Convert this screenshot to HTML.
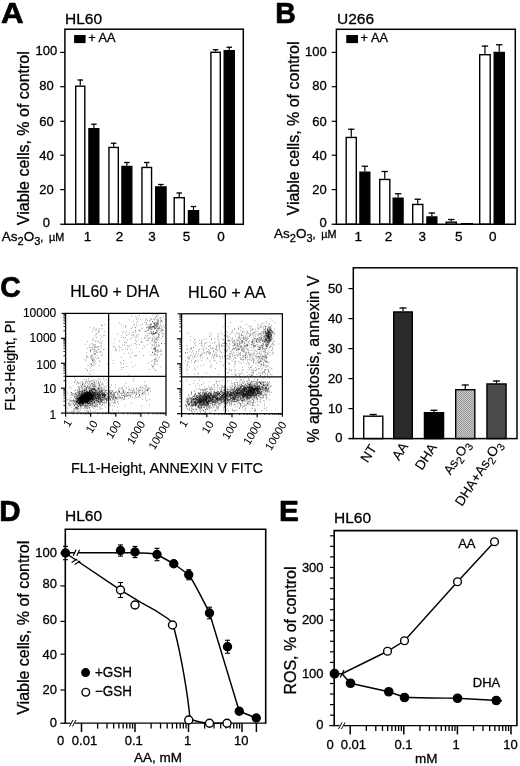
<!DOCTYPE html>
<html><head><meta charset="utf-8"><title>Figure</title>
<style>
html,body{margin:0;padding:0;background:#fff;}
svg{display:block;}
text{font-family:'Liberation Sans', sans-serif;fill:#000;}
</style></head><body>
<svg width="520" height="766" viewBox="0 0 520 766" font-family='"Liberation Sans", sans-serif'>
<defs><pattern id="ht" width="2" height="2" patternUnits="userSpaceOnUse"><rect width="2" height="2" fill="#cacaca"/><rect width="1" height="1" fill="#989898"/><rect x="1" y="1" width="1" height="1" fill="#989898"/></pattern></defs>
<rect width="520" height="766" fill="#fff"/>
<text transform="translate(1.00 22.90) scale(1.08 1)" font-size="29" font-weight="bold" stroke="#000" stroke-width="0.7" stroke-linejoin="round">A</text>
<text x="65.00" y="23.60" font-size="15.5" stroke="#000" stroke-width="0.3" stroke-linejoin="round">HL60</text>
<line x1="80.25" y1="85.50" x2="80.25" y2="79.50" stroke="#000" stroke-width="1.2"/>
<line x1="77.50" y1="80.00" x2="83.00" y2="80.00" stroke="#000" stroke-width="1.3"/>
<rect x="75.70" y="86.20" width="9.10" height="138.05" fill="#fff" stroke="#000" stroke-width="1.4"/>
<line x1="93.88" y1="128.00" x2="93.88" y2="123.75" stroke="#000" stroke-width="1.2"/>
<line x1="91.12" y1="124.25" x2="96.62" y2="124.25" stroke="#000" stroke-width="1.3"/>
<rect x="88.95" y="128.70" width="9.85" height="95.55" fill="#000" stroke="#000" stroke-width="1.4"/>
<line x1="113.62" y1="146.75" x2="113.62" y2="142.75" stroke="#000" stroke-width="1.2"/>
<line x1="110.88" y1="143.25" x2="116.38" y2="143.25" stroke="#000" stroke-width="1.3"/>
<rect x="108.95" y="147.45" width="9.35" height="76.80" fill="#fff" stroke="#000" stroke-width="1.4"/>
<line x1="126.88" y1="165.75" x2="126.88" y2="162.00" stroke="#000" stroke-width="1.2"/>
<line x1="124.12" y1="162.50" x2="129.62" y2="162.50" stroke="#000" stroke-width="1.3"/>
<rect x="121.95" y="166.45" width="9.85" height="57.80" fill="#000" stroke="#000" stroke-width="1.4"/>
<line x1="146.75" y1="166.75" x2="146.75" y2="162.00" stroke="#000" stroke-width="1.2"/>
<line x1="144.00" y1="162.50" x2="149.50" y2="162.50" stroke="#000" stroke-width="1.3"/>
<rect x="141.95" y="167.45" width="9.60" height="56.80" fill="#fff" stroke="#000" stroke-width="1.4"/>
<line x1="160.88" y1="186.25" x2="160.88" y2="184.00" stroke="#000" stroke-width="1.2"/>
<line x1="158.12" y1="184.50" x2="163.62" y2="184.50" stroke="#000" stroke-width="1.3"/>
<rect x="155.70" y="186.95" width="10.35" height="37.30" fill="#000" stroke="#000" stroke-width="1.4"/>
<line x1="179.25" y1="197.00" x2="179.25" y2="192.50" stroke="#000" stroke-width="1.2"/>
<line x1="176.50" y1="193.00" x2="182.00" y2="193.00" stroke="#000" stroke-width="1.3"/>
<rect x="174.20" y="197.70" width="10.10" height="26.55" fill="#fff" stroke="#000" stroke-width="1.4"/>
<line x1="193.50" y1="210.00" x2="193.50" y2="206.00" stroke="#000" stroke-width="1.2"/>
<line x1="190.75" y1="206.50" x2="196.25" y2="206.50" stroke="#000" stroke-width="1.3"/>
<rect x="188.45" y="210.70" width="10.10" height="13.55" fill="#000" stroke="#000" stroke-width="1.4"/>
<line x1="215.60" y1="51.60" x2="215.60" y2="49.20" stroke="#000" stroke-width="1.2"/>
<line x1="212.85" y1="49.70" x2="218.35" y2="49.70" stroke="#000" stroke-width="1.3"/>
<rect x="210.90" y="52.30" width="9.40" height="171.95" fill="#fff" stroke="#000" stroke-width="1.4"/>
<line x1="229.25" y1="50.00" x2="229.25" y2="46.75" stroke="#000" stroke-width="1.2"/>
<line x1="226.50" y1="47.25" x2="232.00" y2="47.25" stroke="#000" stroke-width="1.3"/>
<rect x="224.20" y="50.70" width="10.10" height="173.55" fill="#000" stroke="#000" stroke-width="1.4"/>
<rect x="64.90" y="29.20" width="178.40" height="195.05" fill="none" stroke="#000" stroke-width="1.5"/>
<line x1="60.20" y1="52.40" x2="64.90" y2="52.40" stroke="#000" stroke-width="1.2"/>
<line x1="60.20" y1="86.70" x2="64.90" y2="86.70" stroke="#000" stroke-width="1.2"/>
<line x1="60.20" y1="121.30" x2="64.90" y2="121.30" stroke="#000" stroke-width="1.2"/>
<line x1="60.20" y1="155.20" x2="64.90" y2="155.20" stroke="#000" stroke-width="1.2"/>
<line x1="60.20" y1="189.60" x2="64.90" y2="189.60" stroke="#000" stroke-width="1.2"/>
<line x1="60.20" y1="224.25" x2="64.90" y2="224.25" stroke="#000" stroke-width="1.3"/>
<text x="46.40" y="54.65" font-size="13" text-anchor="middle" stroke="#000" stroke-width="0.3" stroke-linejoin="round">100</text>
<text x="46.40" y="89.65" font-size="13" text-anchor="middle" stroke="#000" stroke-width="0.3" stroke-linejoin="round">80</text>
<text x="46.40" y="125.65" font-size="13" text-anchor="middle" stroke="#000" stroke-width="0.3" stroke-linejoin="round">60</text>
<text x="46.40" y="160.25" font-size="13" text-anchor="middle" stroke="#000" stroke-width="0.3" stroke-linejoin="round">40</text>
<text x="46.40" y="193.85" font-size="13" text-anchor="middle" stroke="#000" stroke-width="0.3" stroke-linejoin="round">20</text>
<text x="46.40" y="226.65" font-size="13" text-anchor="middle" stroke="#000" stroke-width="0.3" stroke-linejoin="round">0</text>
<text transform="translate(28.90 225.20) rotate(-90)" font-size="16" stroke="#000" stroke-width="0.3" stroke-linejoin="round">Viable cells, % of control</text>
<text x="87.50" y="240.50" font-size="13.5" text-anchor="middle" stroke="#000" stroke-width="0.3" stroke-linejoin="round">1</text>
<text x="119.50" y="240.50" font-size="13.5" text-anchor="middle" stroke="#000" stroke-width="0.3" stroke-linejoin="round">2</text>
<text x="152.00" y="240.50" font-size="13.5" text-anchor="middle" stroke="#000" stroke-width="0.3" stroke-linejoin="round">3</text>
<text x="186.50" y="240.50" font-size="13.5" text-anchor="middle" stroke="#000" stroke-width="0.3" stroke-linejoin="round">5</text>
<text x="221.00" y="240.50" font-size="13.5" text-anchor="middle" stroke="#000" stroke-width="0.3" stroke-linejoin="round">0</text>
<text x="1.80" y="240.6" font-size="13.5" stroke="#000" stroke-width="0.3">As<tspan font-size="11" dy="4">2</tspan><tspan dy="-4">O</tspan><tspan font-size="11" dy="4">3</tspan><tspan dy="-4" font-size="11">,</tspan><tspan font-size="10.8" dx="5.6">µM</tspan></text>
<rect x="74.1" y="35" width="11.5" height="8.1" fill="#000"/>
<text x="88.20" y="42.40" font-size="13" textLength="27.3" lengthAdjust="spacingAndGlyphs" stroke="#000" stroke-width="0.3" stroke-linejoin="round">+ AA</text>
<text transform="translate(275.20 23.30) scale(0.98 1)" font-size="29" font-weight="bold" stroke="#000" stroke-width="0.7" stroke-linejoin="round">B</text>
<text x="337.00" y="24.10" font-size="15.5" stroke="#000" stroke-width="0.3" stroke-linejoin="round">U266</text>
<line x1="351.25" y1="136.75" x2="351.25" y2="128.75" stroke="#000" stroke-width="1.2"/>
<line x1="348.05" y1="129.25" x2="354.45" y2="129.25" stroke="#000" stroke-width="1.3"/>
<rect x="346.20" y="137.45" width="10.10" height="86.80" fill="#fff" stroke="#000" stroke-width="1.4"/>
<line x1="364.88" y1="171.50" x2="364.88" y2="165.75" stroke="#000" stroke-width="1.2"/>
<line x1="361.68" y1="166.25" x2="368.07" y2="166.25" stroke="#000" stroke-width="1.3"/>
<rect x="359.95" y="172.20" width="9.85" height="52.05" fill="#000" stroke="#000" stroke-width="1.4"/>
<line x1="384.75" y1="178.75" x2="384.75" y2="171.00" stroke="#000" stroke-width="1.2"/>
<line x1="381.55" y1="171.50" x2="387.95" y2="171.50" stroke="#000" stroke-width="1.3"/>
<rect x="379.70" y="179.45" width="10.10" height="44.80" fill="#fff" stroke="#000" stroke-width="1.4"/>
<line x1="398.12" y1="197.50" x2="398.12" y2="193.25" stroke="#000" stroke-width="1.2"/>
<line x1="394.93" y1="193.75" x2="401.32" y2="193.75" stroke="#000" stroke-width="1.3"/>
<rect x="393.20" y="198.20" width="9.85" height="26.05" fill="#000" stroke="#000" stroke-width="1.4"/>
<line x1="417.75" y1="203.75" x2="417.75" y2="198.75" stroke="#000" stroke-width="1.2"/>
<line x1="414.55" y1="199.25" x2="420.95" y2="199.25" stroke="#000" stroke-width="1.3"/>
<rect x="412.70" y="204.45" width="10.10" height="19.80" fill="#fff" stroke="#000" stroke-width="1.4"/>
<line x1="431.88" y1="216.25" x2="431.88" y2="212.50" stroke="#000" stroke-width="1.2"/>
<line x1="428.68" y1="213.00" x2="435.07" y2="213.00" stroke="#000" stroke-width="1.3"/>
<rect x="426.95" y="216.95" width="9.85" height="7.30" fill="#000" stroke="#000" stroke-width="1.4"/>
<line x1="451.25" y1="221.50" x2="451.25" y2="219.00" stroke="#000" stroke-width="1.2"/>
<line x1="448.05" y1="219.50" x2="454.45" y2="219.50" stroke="#000" stroke-width="1.3"/>
<rect x="446.20" y="222.20" width="10.10" height="2.05" fill="#fff" stroke="#000" stroke-width="1.4"/>
<rect x="461.70" y="223.70" width="10.60" height="0.55" fill="#000" stroke="#000" stroke-width="1.4"/>
<line x1="484.95" y1="54.00" x2="484.95" y2="45.60" stroke="#000" stroke-width="1.2"/>
<line x1="481.75" y1="46.10" x2="488.15" y2="46.10" stroke="#000" stroke-width="1.3"/>
<rect x="479.70" y="54.70" width="10.50" height="169.55" fill="#fff" stroke="#000" stroke-width="1.4"/>
<line x1="499.25" y1="51.75" x2="499.25" y2="44.25" stroke="#000" stroke-width="1.2"/>
<line x1="496.05" y1="44.75" x2="502.45" y2="44.75" stroke="#000" stroke-width="1.3"/>
<rect x="494.20" y="52.45" width="10.10" height="171.80" fill="#000" stroke="#000" stroke-width="1.4"/>
<rect x="336.40" y="29.30" width="178.90" height="194.95" fill="none" stroke="#000" stroke-width="1.5"/>
<line x1="331.70" y1="52.40" x2="336.40" y2="52.40" stroke="#000" stroke-width="1.2"/>
<line x1="331.70" y1="86.70" x2="336.40" y2="86.70" stroke="#000" stroke-width="1.2"/>
<line x1="331.70" y1="121.30" x2="336.40" y2="121.30" stroke="#000" stroke-width="1.2"/>
<line x1="331.70" y1="155.20" x2="336.40" y2="155.20" stroke="#000" stroke-width="1.2"/>
<line x1="331.70" y1="189.60" x2="336.40" y2="189.60" stroke="#000" stroke-width="1.2"/>
<line x1="331.70" y1="224.25" x2="336.40" y2="224.25" stroke="#000" stroke-width="1.3"/>
<text x="326.80" y="56.15" font-size="13" text-anchor="end" stroke="#000" stroke-width="0.3" stroke-linejoin="round">100</text>
<text x="326.80" y="89.65" font-size="13" text-anchor="end" stroke="#000" stroke-width="0.3" stroke-linejoin="round">80</text>
<text x="326.80" y="125.65" font-size="13" text-anchor="end" stroke="#000" stroke-width="0.3" stroke-linejoin="round">60</text>
<text x="326.80" y="160.25" font-size="13" text-anchor="end" stroke="#000" stroke-width="0.3" stroke-linejoin="round">40</text>
<text x="326.80" y="193.85" font-size="13" text-anchor="end" stroke="#000" stroke-width="0.3" stroke-linejoin="round">20</text>
<text x="326.80" y="226.65" font-size="13" text-anchor="end" stroke="#000" stroke-width="0.3" stroke-linejoin="round">0</text>
<text transform="translate(299.10 215.50) rotate(-90)" font-size="16" stroke="#000" stroke-width="0.3" stroke-linejoin="round">Viable cells, % of control</text>
<text x="358.20" y="240.50" font-size="13.5" text-anchor="middle" stroke="#000" stroke-width="0.3" stroke-linejoin="round">1</text>
<text x="388.50" y="240.50" font-size="13.5" text-anchor="middle" stroke="#000" stroke-width="0.3" stroke-linejoin="round">2</text>
<text x="422.20" y="240.50" font-size="13.5" text-anchor="middle" stroke="#000" stroke-width="0.3" stroke-linejoin="round">3</text>
<text x="458.70" y="240.50" font-size="13.5" text-anchor="middle" stroke="#000" stroke-width="0.3" stroke-linejoin="round">5</text>
<text x="492.70" y="240.50" font-size="13.5" text-anchor="middle" stroke="#000" stroke-width="0.3" stroke-linejoin="round">0</text>
<text x="274.00" y="238.4" font-size="13.5" stroke="#000" stroke-width="0.3">As<tspan font-size="11" dy="4">2</tspan><tspan dy="-4">O</tspan><tspan font-size="11" dy="4">3</tspan><tspan dy="-4" font-size="11">,</tspan><tspan font-size="10.8" dx="5.6">µM</tspan></text>
<rect x="346.25" y="35" width="11.75" height="8.1" fill="#000"/>
<text x="360.60" y="42.40" font-size="13" textLength="27.3" lengthAdjust="spacingAndGlyphs" stroke="#000" stroke-width="0.3" stroke-linejoin="round">+ AA</text>
<text transform="translate(0.20 296.50) scale(0.97 1)" font-size="29.3" font-weight="bold" stroke="#000" stroke-width="0.7" stroke-linejoin="round">C</text>
<text x="70.20" y="296.60" font-size="16" textLength="89.2" lengthAdjust="spacingAndGlyphs" stroke="#000" stroke-width="0.2" stroke-linejoin="round">HL60 + DHA</text>
<text x="188.00" y="298.00" font-size="16" textLength="77.8" lengthAdjust="spacingAndGlyphs" stroke="#000" stroke-width="0.2" stroke-linejoin="round">HL60 + AA</text>
<rect x="65.60" y="313.40" width="100.40" height="99.70" fill="none" stroke="#000" stroke-width="1.25"/>
<line x1="108.60" y1="313.40" x2="108.60" y2="413.10" stroke="#000" stroke-width="1.25"/>
<line x1="65.60" y1="376.30" x2="166.00" y2="376.30" stroke="#000" stroke-width="1.25"/>
<line x1="65.60" y1="413.10" x2="65.60" y2="416.70" stroke="#000" stroke-width="1.2"/>
<line x1="61.00" y1="413.10" x2="65.60" y2="413.10" stroke="#000" stroke-width="1.2"/>
<line x1="73.16" y1="413.10" x2="73.16" y2="414.30" stroke="#000" stroke-width="0.85"/>
<line x1="63.40" y1="405.60" x2="65.60" y2="405.60" stroke="#000" stroke-width="0.85"/>
<line x1="77.58" y1="413.10" x2="77.58" y2="414.30" stroke="#000" stroke-width="0.85"/>
<line x1="63.40" y1="401.21" x2="65.60" y2="401.21" stroke="#000" stroke-width="0.85"/>
<line x1="80.71" y1="413.10" x2="80.71" y2="414.30" stroke="#000" stroke-width="0.85"/>
<line x1="63.40" y1="398.09" x2="65.60" y2="398.09" stroke="#000" stroke-width="0.85"/>
<line x1="83.14" y1="413.10" x2="83.14" y2="414.30" stroke="#000" stroke-width="0.85"/>
<line x1="63.40" y1="395.68" x2="65.60" y2="395.68" stroke="#000" stroke-width="0.85"/>
<line x1="85.13" y1="413.10" x2="85.13" y2="414.30" stroke="#000" stroke-width="0.85"/>
<line x1="63.40" y1="393.70" x2="65.60" y2="393.70" stroke="#000" stroke-width="0.85"/>
<line x1="86.81" y1="413.10" x2="86.81" y2="414.30" stroke="#000" stroke-width="0.85"/>
<line x1="63.40" y1="392.04" x2="65.60" y2="392.04" stroke="#000" stroke-width="0.85"/>
<line x1="88.27" y1="413.10" x2="88.27" y2="414.30" stroke="#000" stroke-width="0.85"/>
<line x1="63.40" y1="390.59" x2="65.60" y2="390.59" stroke="#000" stroke-width="0.85"/>
<line x1="89.55" y1="413.10" x2="89.55" y2="414.30" stroke="#000" stroke-width="0.85"/>
<line x1="63.40" y1="389.32" x2="65.60" y2="389.32" stroke="#000" stroke-width="0.85"/>
<line x1="90.70" y1="413.10" x2="90.70" y2="416.70" stroke="#000" stroke-width="1.2"/>
<line x1="61.00" y1="388.18" x2="65.60" y2="388.18" stroke="#000" stroke-width="1.2"/>
<line x1="98.26" y1="413.10" x2="98.26" y2="414.30" stroke="#000" stroke-width="0.85"/>
<line x1="63.40" y1="380.67" x2="65.60" y2="380.67" stroke="#000" stroke-width="0.85"/>
<line x1="102.68" y1="413.10" x2="102.68" y2="414.30" stroke="#000" stroke-width="0.85"/>
<line x1="63.40" y1="376.28" x2="65.60" y2="376.28" stroke="#000" stroke-width="0.85"/>
<line x1="105.81" y1="413.10" x2="105.81" y2="414.30" stroke="#000" stroke-width="0.85"/>
<line x1="63.40" y1="373.17" x2="65.60" y2="373.17" stroke="#000" stroke-width="0.85"/>
<line x1="108.24" y1="413.10" x2="108.24" y2="414.30" stroke="#000" stroke-width="0.85"/>
<line x1="63.40" y1="370.75" x2="65.60" y2="370.75" stroke="#000" stroke-width="0.85"/>
<line x1="110.23" y1="413.10" x2="110.23" y2="414.30" stroke="#000" stroke-width="0.85"/>
<line x1="63.40" y1="368.78" x2="65.60" y2="368.78" stroke="#000" stroke-width="0.85"/>
<line x1="111.91" y1="413.10" x2="111.91" y2="414.30" stroke="#000" stroke-width="0.85"/>
<line x1="63.40" y1="367.11" x2="65.60" y2="367.11" stroke="#000" stroke-width="0.85"/>
<line x1="113.37" y1="413.10" x2="113.37" y2="414.30" stroke="#000" stroke-width="0.85"/>
<line x1="63.40" y1="365.67" x2="65.60" y2="365.67" stroke="#000" stroke-width="0.85"/>
<line x1="114.65" y1="413.10" x2="114.65" y2="414.30" stroke="#000" stroke-width="0.85"/>
<line x1="63.40" y1="364.39" x2="65.60" y2="364.39" stroke="#000" stroke-width="0.85"/>
<line x1="115.80" y1="413.10" x2="115.80" y2="416.70" stroke="#000" stroke-width="1.2"/>
<line x1="61.00" y1="363.25" x2="65.60" y2="363.25" stroke="#000" stroke-width="1.2"/>
<line x1="123.36" y1="413.10" x2="123.36" y2="414.30" stroke="#000" stroke-width="0.85"/>
<line x1="63.40" y1="355.75" x2="65.60" y2="355.75" stroke="#000" stroke-width="0.85"/>
<line x1="127.78" y1="413.10" x2="127.78" y2="414.30" stroke="#000" stroke-width="0.85"/>
<line x1="63.40" y1="351.36" x2="65.60" y2="351.36" stroke="#000" stroke-width="0.85"/>
<line x1="130.91" y1="413.10" x2="130.91" y2="414.30" stroke="#000" stroke-width="0.85"/>
<line x1="63.40" y1="348.24" x2="65.60" y2="348.24" stroke="#000" stroke-width="0.85"/>
<line x1="133.34" y1="413.10" x2="133.34" y2="414.30" stroke="#000" stroke-width="0.85"/>
<line x1="63.40" y1="345.83" x2="65.60" y2="345.83" stroke="#000" stroke-width="0.85"/>
<line x1="135.33" y1="413.10" x2="135.33" y2="414.30" stroke="#000" stroke-width="0.85"/>
<line x1="63.40" y1="343.85" x2="65.60" y2="343.85" stroke="#000" stroke-width="0.85"/>
<line x1="137.01" y1="413.10" x2="137.01" y2="414.30" stroke="#000" stroke-width="0.85"/>
<line x1="63.40" y1="342.19" x2="65.60" y2="342.19" stroke="#000" stroke-width="0.85"/>
<line x1="138.47" y1="413.10" x2="138.47" y2="414.30" stroke="#000" stroke-width="0.85"/>
<line x1="63.40" y1="340.74" x2="65.60" y2="340.74" stroke="#000" stroke-width="0.85"/>
<line x1="139.75" y1="413.10" x2="139.75" y2="414.30" stroke="#000" stroke-width="0.85"/>
<line x1="63.40" y1="339.47" x2="65.60" y2="339.47" stroke="#000" stroke-width="0.85"/>
<line x1="140.90" y1="413.10" x2="140.90" y2="416.70" stroke="#000" stroke-width="1.2"/>
<line x1="61.00" y1="338.32" x2="65.60" y2="338.32" stroke="#000" stroke-width="1.2"/>
<line x1="148.46" y1="413.10" x2="148.46" y2="414.30" stroke="#000" stroke-width="0.85"/>
<line x1="63.40" y1="330.82" x2="65.60" y2="330.82" stroke="#000" stroke-width="0.85"/>
<line x1="152.88" y1="413.10" x2="152.88" y2="414.30" stroke="#000" stroke-width="0.85"/>
<line x1="63.40" y1="326.43" x2="65.60" y2="326.43" stroke="#000" stroke-width="0.85"/>
<line x1="156.01" y1="413.10" x2="156.01" y2="414.30" stroke="#000" stroke-width="0.85"/>
<line x1="63.40" y1="323.32" x2="65.60" y2="323.32" stroke="#000" stroke-width="0.85"/>
<line x1="158.44" y1="413.10" x2="158.44" y2="414.30" stroke="#000" stroke-width="0.85"/>
<line x1="63.40" y1="320.90" x2="65.60" y2="320.90" stroke="#000" stroke-width="0.85"/>
<line x1="160.43" y1="413.10" x2="160.43" y2="414.30" stroke="#000" stroke-width="0.85"/>
<line x1="63.40" y1="318.93" x2="65.60" y2="318.93" stroke="#000" stroke-width="0.85"/>
<line x1="162.11" y1="413.10" x2="162.11" y2="414.30" stroke="#000" stroke-width="0.85"/>
<line x1="63.40" y1="317.26" x2="65.60" y2="317.26" stroke="#000" stroke-width="0.85"/>
<line x1="163.57" y1="413.10" x2="163.57" y2="414.30" stroke="#000" stroke-width="0.85"/>
<line x1="63.40" y1="315.82" x2="65.60" y2="315.82" stroke="#000" stroke-width="0.85"/>
<line x1="164.85" y1="413.10" x2="164.85" y2="414.30" stroke="#000" stroke-width="0.85"/>
<line x1="63.40" y1="314.54" x2="65.60" y2="314.54" stroke="#000" stroke-width="0.85"/>
<line x1="166.00" y1="413.10" x2="166.00" y2="416.10" stroke="#000" stroke-width="1.1"/>
<line x1="61.60" y1="313.40" x2="65.60" y2="313.40" stroke="#000" stroke-width="1.1"/>
<text transform="translate(72.20 422.40) rotate(-59)" font-size="11.2" text-anchor="end">1</text>
<text x="56.30" y="419.20" font-size="12" text-anchor="end" stroke="#000" stroke-width="0.15" stroke-linejoin="round">1</text>
<text transform="translate(98.10 423.30) rotate(-59)" font-size="11.2" text-anchor="end">10</text>
<text x="56.30" y="393.30" font-size="12" text-anchor="end" stroke="#000" stroke-width="0.15" stroke-linejoin="round">10</text>
<text transform="translate(121.70 423.60) rotate(-59)" font-size="11.2" text-anchor="end">100</text>
<text x="56.30" y="368.60" font-size="12" text-anchor="end" stroke="#000" stroke-width="0.15" stroke-linejoin="round">100</text>
<text transform="translate(145.70 423.90) rotate(-59)" font-size="11.2" text-anchor="end">1000</text>
<text x="56.30" y="341.60" font-size="12" text-anchor="end" stroke="#000" stroke-width="0.15" stroke-linejoin="round">1000</text>
<text transform="translate(170.60 423.90) rotate(-59)" font-size="11.2" text-anchor="end">10000</text>
<text x="56.30" y="316.80" font-size="12" text-anchor="end" stroke="#000" stroke-width="0.15" stroke-linejoin="round">10000</text>
<rect x="181.60" y="313.80" width="100.80" height="99.90" fill="none" stroke="#000" stroke-width="1.25"/>
<line x1="225.40" y1="313.80" x2="225.40" y2="413.70" stroke="#000" stroke-width="1.25"/>
<line x1="181.60" y1="376.90" x2="282.40" y2="376.90" stroke="#000" stroke-width="1.25"/>
<line x1="181.60" y1="413.70" x2="181.60" y2="417.30" stroke="#000" stroke-width="1.2"/>
<line x1="177.00" y1="413.70" x2="181.60" y2="413.70" stroke="#000" stroke-width="1.2"/>
<line x1="189.19" y1="413.70" x2="189.19" y2="414.90" stroke="#000" stroke-width="0.85"/>
<line x1="179.40" y1="406.18" x2="181.60" y2="406.18" stroke="#000" stroke-width="0.85"/>
<line x1="193.62" y1="413.70" x2="193.62" y2="414.90" stroke="#000" stroke-width="0.85"/>
<line x1="179.40" y1="401.78" x2="181.60" y2="401.78" stroke="#000" stroke-width="0.85"/>
<line x1="196.77" y1="413.70" x2="196.77" y2="414.90" stroke="#000" stroke-width="0.85"/>
<line x1="179.40" y1="398.66" x2="181.60" y2="398.66" stroke="#000" stroke-width="0.85"/>
<line x1="199.21" y1="413.70" x2="199.21" y2="414.90" stroke="#000" stroke-width="0.85"/>
<line x1="179.40" y1="396.24" x2="181.60" y2="396.24" stroke="#000" stroke-width="0.85"/>
<line x1="201.21" y1="413.70" x2="201.21" y2="414.90" stroke="#000" stroke-width="0.85"/>
<line x1="179.40" y1="394.27" x2="181.60" y2="394.27" stroke="#000" stroke-width="0.85"/>
<line x1="202.90" y1="413.70" x2="202.90" y2="414.90" stroke="#000" stroke-width="0.85"/>
<line x1="179.40" y1="392.59" x2="181.60" y2="392.59" stroke="#000" stroke-width="0.85"/>
<line x1="204.36" y1="413.70" x2="204.36" y2="414.90" stroke="#000" stroke-width="0.85"/>
<line x1="179.40" y1="391.15" x2="181.60" y2="391.15" stroke="#000" stroke-width="0.85"/>
<line x1="205.65" y1="413.70" x2="205.65" y2="414.90" stroke="#000" stroke-width="0.85"/>
<line x1="179.40" y1="389.87" x2="181.60" y2="389.87" stroke="#000" stroke-width="0.85"/>
<line x1="206.80" y1="413.70" x2="206.80" y2="417.30" stroke="#000" stroke-width="1.2"/>
<line x1="177.00" y1="388.73" x2="181.60" y2="388.73" stroke="#000" stroke-width="1.2"/>
<line x1="214.39" y1="413.70" x2="214.39" y2="414.90" stroke="#000" stroke-width="0.85"/>
<line x1="179.40" y1="381.21" x2="181.60" y2="381.21" stroke="#000" stroke-width="0.85"/>
<line x1="218.82" y1="413.70" x2="218.82" y2="414.90" stroke="#000" stroke-width="0.85"/>
<line x1="179.40" y1="376.81" x2="181.60" y2="376.81" stroke="#000" stroke-width="0.85"/>
<line x1="221.97" y1="413.70" x2="221.97" y2="414.90" stroke="#000" stroke-width="0.85"/>
<line x1="179.40" y1="373.69" x2="181.60" y2="373.69" stroke="#000" stroke-width="0.85"/>
<line x1="224.41" y1="413.70" x2="224.41" y2="414.90" stroke="#000" stroke-width="0.85"/>
<line x1="179.40" y1="371.27" x2="181.60" y2="371.27" stroke="#000" stroke-width="0.85"/>
<line x1="226.41" y1="413.70" x2="226.41" y2="414.90" stroke="#000" stroke-width="0.85"/>
<line x1="179.40" y1="369.29" x2="181.60" y2="369.29" stroke="#000" stroke-width="0.85"/>
<line x1="228.10" y1="413.70" x2="228.10" y2="414.90" stroke="#000" stroke-width="0.85"/>
<line x1="179.40" y1="367.62" x2="181.60" y2="367.62" stroke="#000" stroke-width="0.85"/>
<line x1="229.56" y1="413.70" x2="229.56" y2="414.90" stroke="#000" stroke-width="0.85"/>
<line x1="179.40" y1="366.17" x2="181.60" y2="366.17" stroke="#000" stroke-width="0.85"/>
<line x1="230.85" y1="413.70" x2="230.85" y2="414.90" stroke="#000" stroke-width="0.85"/>
<line x1="179.40" y1="364.89" x2="181.60" y2="364.89" stroke="#000" stroke-width="0.85"/>
<line x1="232.00" y1="413.70" x2="232.00" y2="417.30" stroke="#000" stroke-width="1.2"/>
<line x1="177.00" y1="363.75" x2="181.60" y2="363.75" stroke="#000" stroke-width="1.2"/>
<line x1="239.59" y1="413.70" x2="239.59" y2="414.90" stroke="#000" stroke-width="0.85"/>
<line x1="179.40" y1="356.23" x2="181.60" y2="356.23" stroke="#000" stroke-width="0.85"/>
<line x1="244.02" y1="413.70" x2="244.02" y2="414.90" stroke="#000" stroke-width="0.85"/>
<line x1="179.40" y1="351.83" x2="181.60" y2="351.83" stroke="#000" stroke-width="0.85"/>
<line x1="247.17" y1="413.70" x2="247.17" y2="414.90" stroke="#000" stroke-width="0.85"/>
<line x1="179.40" y1="348.71" x2="181.60" y2="348.71" stroke="#000" stroke-width="0.85"/>
<line x1="249.61" y1="413.70" x2="249.61" y2="414.90" stroke="#000" stroke-width="0.85"/>
<line x1="179.40" y1="346.29" x2="181.60" y2="346.29" stroke="#000" stroke-width="0.85"/>
<line x1="251.61" y1="413.70" x2="251.61" y2="414.90" stroke="#000" stroke-width="0.85"/>
<line x1="179.40" y1="344.32" x2="181.60" y2="344.32" stroke="#000" stroke-width="0.85"/>
<line x1="253.30" y1="413.70" x2="253.30" y2="414.90" stroke="#000" stroke-width="0.85"/>
<line x1="179.40" y1="342.64" x2="181.60" y2="342.64" stroke="#000" stroke-width="0.85"/>
<line x1="254.76" y1="413.70" x2="254.76" y2="414.90" stroke="#000" stroke-width="0.85"/>
<line x1="179.40" y1="341.20" x2="181.60" y2="341.20" stroke="#000" stroke-width="0.85"/>
<line x1="256.05" y1="413.70" x2="256.05" y2="414.90" stroke="#000" stroke-width="0.85"/>
<line x1="179.40" y1="339.92" x2="181.60" y2="339.92" stroke="#000" stroke-width="0.85"/>
<line x1="257.20" y1="413.70" x2="257.20" y2="417.30" stroke="#000" stroke-width="1.2"/>
<line x1="177.00" y1="338.77" x2="181.60" y2="338.77" stroke="#000" stroke-width="1.2"/>
<line x1="264.79" y1="413.70" x2="264.79" y2="414.90" stroke="#000" stroke-width="0.85"/>
<line x1="179.40" y1="331.26" x2="181.60" y2="331.26" stroke="#000" stroke-width="0.85"/>
<line x1="269.22" y1="413.70" x2="269.22" y2="414.90" stroke="#000" stroke-width="0.85"/>
<line x1="179.40" y1="326.86" x2="181.60" y2="326.86" stroke="#000" stroke-width="0.85"/>
<line x1="272.37" y1="413.70" x2="272.37" y2="414.90" stroke="#000" stroke-width="0.85"/>
<line x1="179.40" y1="323.74" x2="181.60" y2="323.74" stroke="#000" stroke-width="0.85"/>
<line x1="274.81" y1="413.70" x2="274.81" y2="414.90" stroke="#000" stroke-width="0.85"/>
<line x1="179.40" y1="321.32" x2="181.60" y2="321.32" stroke="#000" stroke-width="0.85"/>
<line x1="276.81" y1="413.70" x2="276.81" y2="414.90" stroke="#000" stroke-width="0.85"/>
<line x1="179.40" y1="319.34" x2="181.60" y2="319.34" stroke="#000" stroke-width="0.85"/>
<line x1="278.50" y1="413.70" x2="278.50" y2="414.90" stroke="#000" stroke-width="0.85"/>
<line x1="179.40" y1="317.67" x2="181.60" y2="317.67" stroke="#000" stroke-width="0.85"/>
<line x1="279.96" y1="413.70" x2="279.96" y2="414.90" stroke="#000" stroke-width="0.85"/>
<line x1="179.40" y1="316.22" x2="181.60" y2="316.22" stroke="#000" stroke-width="0.85"/>
<line x1="281.25" y1="413.70" x2="281.25" y2="414.90" stroke="#000" stroke-width="0.85"/>
<line x1="179.40" y1="314.94" x2="181.60" y2="314.94" stroke="#000" stroke-width="0.85"/>
<line x1="282.40" y1="413.70" x2="282.40" y2="416.70" stroke="#000" stroke-width="1.1"/>
<line x1="177.60" y1="313.80" x2="181.60" y2="313.80" stroke="#000" stroke-width="1.1"/>
<text transform="translate(188.20 423.00) rotate(-59)" font-size="11.2" text-anchor="end">1</text>
<text transform="translate(214.20 423.90) rotate(-59)" font-size="11.2" text-anchor="end">10</text>
<text transform="translate(237.90 424.20) rotate(-59)" font-size="11.2" text-anchor="end">100</text>
<text transform="translate(262.00 424.50) rotate(-59)" font-size="11.2" text-anchor="end">1000</text>
<text transform="translate(287.00 424.50) rotate(-59)" font-size="11.2" text-anchor="end">10000</text>
<path d="M84.3 399.5h0.65M84.4 397.6h0.65M82.0 398.7h0.65M89.0 397.5h0.65M88.7 397.2h0.65M86.5 397.9h0.65M79.5 402.1h0.65M86.9 398.5h0.65M79.4 396.3h0.65M82.2 398.1h0.65M86.2 397.5h0.65M87.0 395.9h0.65M86.2 398.5h0.65M83.0 402.7h0.65M87.1 400.0h0.65M83.1 397.1h0.65M84.0 398.2h0.65M87.3 397.7h0.65M83.7 396.4h0.65M83.4 401.4h0.65M82.5 399.6h0.65M86.7 394.1h0.65M85.4 400.9h0.65M78.4 399.9h0.65M84.8 396.3h0.65M86.9 397.2h0.65M80.2 401.8h0.65M87.5 399.3h0.65M90.1 396.9h0.65M85.6 394.9h0.65M87.3 395.8h0.65M83.7 395.7h0.65M81.9 398.1h0.65M89.6 391.7h0.65M80.2 400.4h0.65M90.1 397.4h0.65M78.7 394.8h0.65M86.4 395.9h0.65M81.4 401.7h0.65M88.9 396.9h0.65M86.0 398.7h0.65M90.6 397.3h0.65M87.0 398.6h0.65M79.9 402.9h0.65M88.4 398.0h0.65M78.5 399.1h0.65M88.1 392.8h0.65M84.6 400.5h0.65M80.7 403.3h0.65M87.1 396.9h0.65M86.3 399.0h0.65M85.6 400.4h0.65M83.0 397.9h0.65M88.7 396.7h0.65M82.2 401.3h0.65M90.2 395.1h0.65M80.5 399.5h0.65M84.7 397.5h0.65M90.0 393.9h0.65M89.5 393.5h0.65M82.5 400.4h0.65M89.0 398.5h0.65M86.4 397.9h0.65M85.7 399.1h0.65M84.6 398.9h0.65M87.1 397.3h0.65M87.8 398.3h0.65M92.0 396.1h0.65M83.7 397.7h0.65M85.2 400.1h0.65M84.1 399.3h0.65M91.4 389.8h0.65M81.4 400.0h0.65M86.6 398.0h0.65M83.7 400.0h0.65M86.2 396.5h0.65M93.5 395.6h0.65M83.3 398.5h0.65M84.4 398.2h0.65M75.9 400.5h0.65M88.6 394.1h0.65M85.0 400.2h0.65M88.1 400.2h0.65M79.4 399.4h0.65M84.0 399.8h0.65M88.9 390.5h0.65M88.9 393.3h0.65M87.5 393.8h0.65M85.8 400.5h0.65M84.7 398.6h0.65M87.9 397.3h0.65M84.9 401.6h0.65M88.8 396.0h0.65M94.5 391.8h0.65M88.3 396.2h0.65M85.7 399.4h0.65M86.0 399.1h0.65M80.0 396.6h0.65M87.3 395.0h0.65M81.7 396.0h0.65M89.5 398.0h0.65M90.2 394.0h0.65M85.2 395.4h0.65M87.8 400.6h0.65M82.2 402.7h0.65M88.6 396.3h0.65M78.5 403.7h0.65M84.9 396.8h0.65M86.6 398.4h0.65M90.3 393.8h0.65M89.1 399.9h0.65M90.1 395.7h0.65M82.7 401.3h0.65M85.6 398.1h0.65M90.0 395.6h0.65M77.4 400.1h0.65M78.9 402.3h0.65M86.3 396.2h0.65M85.2 399.9h0.65M85.5 400.9h0.65M85.0 400.4h0.65M90.3 399.7h0.65M82.9 400.9h0.65M78.8 398.0h0.65M78.5 403.0h0.65M81.0 399.6h0.65M84.5 398.2h0.65M83.2 399.3h0.65M91.3 395.8h0.65M87.0 399.6h0.65M84.5 395.4h0.65M83.3 401.1h0.65M79.6 398.8h0.65M88.6 398.5h0.65M85.2 399.8h0.65M85.8 395.1h0.65M79.9 398.6h0.65M88.3 395.5h0.65M82.1 397.4h0.65M80.0 399.7h0.65M81.2 400.4h0.65M77.2 401.8h0.65M83.0 394.5h0.65M87.7 396.4h0.65M77.6 398.9h0.65M86.2 396.6h0.65M87.9 398.7h0.65M87.5 397.9h0.65M89.7 397.8h0.65M86.7 392.7h0.65M88.2 399.8h0.65M84.2 397.3h0.65M91.8 391.5h0.65M86.8 402.8h0.65M82.0 400.8h0.65M91.6 395.3h0.65M87.1 399.3h0.65M82.1 399.0h0.65M86.2 399.5h0.65M85.1 397.6h0.65M81.7 398.5h0.65M88.2 397.1h0.65M82.3 397.2h0.65M94.3 397.1h0.65M87.4 391.3h0.65M87.3 398.3h0.65M90.9 396.8h0.65M85.0 399.3h0.65M78.6 402.9h0.65M86.3 396.0h0.65M89.7 400.4h0.65M80.4 398.3h0.65M86.2 398.0h0.65M83.8 396.3h0.65M92.4 397.6h0.65M81.1 396.5h0.65M91.0 398.0h0.65M91.4 397.5h0.65M82.2 399.7h0.65M77.9 399.1h0.65M85.0 399.3h0.65M82.7 398.7h0.65M86.8 398.3h0.65M87.4 397.6h0.65M84.1 400.2h0.65M85.4 396.1h0.65M83.1 398.8h0.65M84.8 398.5h0.65M85.2 398.4h0.65M84.7 395.3h0.65M86.6 399.8h0.65M86.7 397.0h0.65M86.7 395.2h0.65M78.8 400.6h0.65M82.0 400.9h0.65M81.5 393.5h0.65M81.7 402.9h0.65M83.9 395.4h0.65M82.6 400.2h0.65M86.9 397.8h0.65M90.2 397.7h0.65M85.1 399.4h0.65M90.8 398.0h0.65M88.7 394.2h0.65M84.7 399.8h0.65M84.2 400.8h0.65M87.2 399.3h0.65M84.5 404.0h0.65M89.4 395.9h0.65M85.5 403.7h0.65M84.0 400.4h0.65M88.5 396.7h0.65M81.2 399.9h0.65M86.4 400.1h0.65M87.9 397.0h0.65M88.1 398.1h0.65M85.9 397.9h0.65M84.4 399.9h0.65M81.6 398.0h0.65M85.2 394.7h0.65M83.7 394.0h0.65M82.9 400.2h0.65M87.1 397.1h0.65M84.4 395.1h0.65M91.4 396.8h0.65M88.9 394.6h0.65M84.6 394.1h0.65M87.9 399.1h0.65M78.7 400.3h0.65M87.3 393.2h0.65M79.0 398.0h0.65M83.1 395.7h0.65M85.3 398.5h0.65M87.4 398.8h0.65M90.3 398.7h0.65M80.7 398.6h0.65M81.6 397.0h0.65M84.9 398.1h0.65M86.9 393.8h0.65M81.0 399.6h0.65M84.5 397.6h0.65M85.0 396.4h0.65M87.6 397.9h0.65M84.9 396.6h0.65M84.6 392.1h0.65M81.9 399.4h0.65M80.1 400.4h0.65M85.7 394.7h0.65M84.3 397.6h0.65M86.8 398.8h0.65M85.1 396.1h0.65M84.7 398.0h0.65M87.7 397.7h0.65M82.7 395.9h0.65M83.9 396.8h0.65M81.4 399.2h0.65M83.5 398.9h0.65M87.0 396.4h0.65M93.1 394.3h0.65M88.9 396.8h0.65M89.0 391.2h0.65M82.6 399.5h0.65M87.2 402.5h0.65M86.3 400.5h0.65M87.8 399.1h0.65M86.9 397.0h0.65M86.9 394.9h0.65M89.2 394.2h0.65M86.0 402.5h0.65M84.4 398.3h0.65M89.2 396.5h0.65M82.5 399.6h0.65M87.2 398.8h0.65M82.6 403.0h0.65M90.9 395.9h0.65M86.1 396.7h0.65M90.0 394.6h0.65M87.5 396.0h0.65M82.8 400.5h0.65M89.7 396.2h0.65M82.9 400.7h0.65M85.0 398.8h0.65M90.4 398.6h0.65M83.4 403.8h0.65M85.2 399.8h0.65M83.0 398.7h0.65M79.3 404.3h0.65M89.8 393.5h0.65M80.1 396.3h0.65M89.2 395.4h0.65M85.0 397.4h0.65M84.8 395.7h0.65M85.3 394.7h0.65M85.0 398.8h0.65M86.8 396.9h0.65M82.1 399.5h0.65M83.6 402.2h0.65M87.8 396.7h0.65M83.6 397.0h0.65M82.0 398.4h0.65M86.2 398.8h0.65M87.1 402.0h0.65M82.8 398.9h0.65M94.7 390.2h0.65M83.4 399.1h0.65M85.7 398.7h0.65M84.4 399.1h0.65M85.4 399.7h0.65M78.8 398.5h0.65M85.2 395.7h0.65M81.6 400.8h0.65M83.0 400.3h0.65M87.7 397.7h0.65M86.9 397.1h0.65M80.4 399.8h0.65M86.7 396.2h0.65M84.9 399.8h0.65M82.2 400.6h0.65M91.5 394.3h0.65M85.7 397.5h0.65M90.4 396.7h0.65M88.3 395.3h0.65M85.1 398.0h0.65M79.2 403.6h0.65M88.3 392.9h0.65M87.7 396.7h0.65M86.7 398.2h0.65M80.1 399.5h0.65M90.3 394.8h0.65M81.7 396.3h0.65M81.0 400.3h0.65M91.0 396.8h0.65M86.0 402.7h0.65M83.4 397.2h0.65M87.0 398.5h0.65M81.7 396.7h0.65M86.2 398.2h0.65M80.8 399.2h0.65M83.4 399.7h0.65M84.8 398.0h0.65M84.0 400.8h0.65M89.9 395.4h0.65M88.1 395.2h0.65M85.4 399.6h0.65M90.3 395.2h0.65M84.9 398.5h0.65M80.1 400.0h0.65M82.9 399.7h0.65M81.4 395.0h0.65M85.3 398.5h0.65M83.3 400.7h0.65M84.3 397.0h0.65M86.8 393.8h0.65M82.9 398.8h0.65M88.1 396.5h0.65M86.2 396.1h0.65M86.2 401.4h0.65M82.9 404.2h0.65M83.0 398.9h0.65M85.8 400.1h0.65M81.0 394.9h0.65M87.3 399.0h0.65M87.3 403.1h0.65M85.9 398.3h0.65M88.4 397.6h0.65M90.9 393.0h0.65M83.9 390.7h0.65M88.0 396.1h0.65M88.3 401.6h0.65M85.2 397.4h0.65M83.5 396.8h0.65M83.1 400.3h0.65M85.3 398.1h0.65M84.6 400.3h0.65M86.9 397.0h0.65M87.5 396.8h0.65M81.3 402.8h0.65M86.8 395.2h0.65M88.9 397.4h0.65M79.9 403.7h0.65M86.3 399.6h0.65M85.9 397.4h0.65M79.9 402.2h0.65M85.3 397.3h0.65M86.4 397.7h0.65M87.5 396.3h0.65M85.1 393.2h0.65M83.8 400.1h0.65M89.7 395.4h0.65M84.8 401.7h0.65M84.1 400.1h0.65M90.9 395.9h0.65M89.4 394.8h0.65M85.9 397.6h0.65M85.6 400.4h0.65M93.3 393.4h0.65M83.2 399.9h0.65M81.6 400.5h0.65M87.1 396.6h0.65M87.0 393.8h0.65M87.8 393.5h0.65M82.8 397.7h0.65M83.8 400.5h0.65M85.5 397.0h0.65M87.0 400.9h0.65M85.2 398.8h0.65M89.4 397.0h0.65M80.8 405.3h0.65M92.7 390.7h0.65M85.1 399.0h0.65M88.5 398.3h0.65M84.3 396.0h0.65M85.6 400.2h0.65M81.5 397.1h0.65M85.1 393.7h0.65M84.3 397.4h0.65M86.7 395.8h0.65M82.2 398.3h0.65M85.0 396.6h0.65M85.2 399.7h0.65M89.2 400.3h0.65M82.5 398.1h0.65M76.8 405.5h0.65M82.7 398.9h0.65M87.0 394.3h0.65M86.8 397.3h0.65M79.0 401.0h0.65M89.3 392.2h0.65M87.9 397.4h0.65M86.8 398.4h0.65M89.6 395.8h0.65M88.2 395.9h0.65M87.7 395.2h0.65M84.8 402.0h0.65M86.7 397.1h0.65M81.3 397.7h0.65M85.9 399.9h0.65M86.6 398.6h0.65M85.1 401.1h0.65M83.9 397.3h0.65M88.2 397.0h0.65M84.3 397.1h0.65M84.3 399.7h0.65M86.4 394.8h0.65M86.6 397.8h0.65M81.8 401.0h0.65M84.2 397.6h0.65M87.9 399.9h0.65M82.9 399.9h0.65M82.2 404.3h0.65M83.5 401.3h0.65M83.0 400.7h0.65M92.7 389.4h0.65M83.7 399.7h0.65M84.9 396.6h0.65M92.5 395.4h0.65M79.6 402.1h0.65M79.3 402.8h0.65M83.2 399.1h0.65M89.5 396.6h0.65M80.5 396.0h0.65M89.2 398.1h0.65M82.4 401.0h0.65M86.9 398.8h0.65M77.5 400.3h0.65M88.3 398.5h0.65M88.2 391.3h0.65M85.8 398.9h0.65M93.9 392.5h0.65M84.1 398.5h0.65M88.2 395.8h0.65M89.1 394.7h0.65M86.1 396.5h0.65M85.7 396.2h0.65M79.8 402.5h0.65M86.2 396.3h0.65M85.9 400.0h0.65M81.9 399.0h0.65M87.0 398.5h0.65M84.1 393.7h0.65M89.4 397.1h0.65M85.2 397.4h0.65M86.1 396.7h0.65M81.7 397.7h0.65M83.2 397.4h0.65M81.3 400.9h0.65M80.7 401.2h0.65M81.8 400.1h0.65M89.9 396.7h0.65M82.7 399.1h0.65M85.7 393.9h0.65M83.1 399.2h0.65M83.6 398.8h0.65M87.7 398.8h0.65M88.3 398.1h0.65M84.2 398.3h0.65M84.3 397.6h0.65M84.6 394.4h0.65M84.1 398.4h0.65M81.9 399.2h0.65M87.0 397.0h0.65M92.3 389.4h0.65M84.5 394.2h0.65M88.5 402.7h0.65M76.7 401.5h0.65M87.0 396.6h0.65M87.1 392.2h0.65M88.1 397.7h0.65M85.3 396.6h0.65M87.4 396.1h0.65M86.0 396.6h0.65M77.6 400.9h0.65M85.9 399.4h0.65M82.2 399.1h0.65M87.3 397.5h0.65M89.4 400.9h0.65M82.1 394.9h0.65M88.1 400.3h0.65M88.3 398.6h0.65M83.1 397.2h0.65M88.2 394.8h0.65M79.0 398.1h0.65M93.7 399.1h0.65M82.9 397.3h0.65M86.0 396.0h0.65M89.7 396.1h0.65M81.5 402.4h0.65M83.2 399.3h0.65M85.2 397.3h0.65M86.3 396.0h0.65M78.9 395.4h0.65M80.9 397.9h0.65M85.1 398.2h0.65M87.1 397.5h0.65M82.5 397.4h0.65M78.0 400.4h0.65M86.8 398.6h0.65M84.8 397.8h0.65M88.4 396.8h0.65M87.7 398.4h0.65M85.9 400.7h0.65M83.3 397.9h0.65M82.5 397.3h0.65M90.5 399.9h0.65M85.3 399.2h0.65M89.2 398.3h0.65M89.3 393.6h0.65M83.0 399.9h0.65M90.1 396.4h0.65M82.3 398.3h0.65M83.0 396.9h0.65M90.3 394.6h0.65M85.3 402.8h0.65M89.2 397.2h0.65M83.1 399.7h0.65M90.7 397.3h0.65M89.5 396.6h0.65M87.0 396.9h0.65M86.7 400.4h0.65M80.3 399.7h0.65M86.0 396.4h0.65M84.2 400.2h0.65M92.0 396.8h0.65M86.3 394.1h0.65M91.8 395.7h0.65M85.1 395.5h0.65M85.0 395.6h0.65M85.4 399.0h0.65M85.3 398.6h0.65M82.3 402.3h0.65M83.0 394.8h0.65M84.6 396.5h0.65M81.8 398.5h0.65M86.2 395.0h0.65M84.7 401.4h0.65M87.5 396.8h0.65M85.6 397.6h0.65M85.0 399.7h0.65M84.9 392.7h0.65M85.1 396.0h0.65M87.4 395.8h0.65M85.7 402.7h0.65M81.6 396.8h0.65M80.4 394.4h0.65M78.8 401.3h0.65M83.0 394.6h0.65M80.2 401.3h0.65M82.6 398.2h0.65M86.3 400.6h0.65M91.8 397.8h0.65M85.7 398.2h0.65M91.3 398.9h0.65M84.1 399.4h0.65M86.2 397.7h0.65M83.5 395.7h0.65M83.4 395.2h0.65M89.4 397.6h0.65M81.1 402.7h0.65M88.2 392.5h0.65M91.5 397.4h0.65M92.2 392.5h0.65M87.0 398.3h0.65M85.9 398.1h0.65M88.8 393.3h0.65M81.0 396.5h0.65M83.3 397.4h0.65M86.4 398.1h0.65M85.3 396.4h0.65M83.7 400.7h0.65M87.8 397.2h0.65M84.1 401.9h0.65M83.2 400.2h0.65M89.1 395.9h0.65M88.0 394.4h0.65M88.6 397.1h0.65M79.8 401.6h0.65M82.2 402.0h0.65M82.9 398.5h0.65M86.2 396.9h0.65M86.1 396.4h0.65M87.5 397.1h0.65M85.9 391.5h0.65M89.1 396.6h0.65M79.1 400.5h0.65M86.8 399.8h0.65M81.5 402.9h0.65M84.7 403.6h0.65M84.7 399.7h0.65M84.0 396.0h0.65M88.9 398.6h0.65M90.4 397.9h0.65M83.3 395.0h0.65M83.0 397.3h0.65M82.4 400.4h0.65M86.3 397.0h0.65M85.8 397.4h0.65M85.9 399.4h0.65M88.5 395.2h0.65M80.1 403.2h0.65M85.6 400.3h0.65M79.6 399.4h0.65M85.3 394.7h0.65M83.4 400.3h0.65M88.9 400.2h0.65M82.3 396.0h0.65M87.0 399.4h0.65M85.9 394.8h0.65M87.9 398.8h0.65M87.1 396.2h0.65M86.2 399.4h0.65M83.3 394.6h0.65M86.3 398.7h0.65M85.2 400.0h0.65M83.2 398.6h0.65M84.2 399.7h0.65M90.6 395.4h0.65M92.2 398.8h0.65M87.9 398.3h0.65M91.2 395.3h0.65M84.8 395.8h0.65M86.8 400.4h0.65M87.0 398.3h0.65M84.5 398.6h0.65M80.4 402.2h0.65M83.8 396.0h0.65M82.6 397.1h0.65M88.1 399.3h0.65M80.6 401.9h0.65M88.2 395.5h0.65M80.1 398.3h0.65M83.0 399.6h0.65M84.0 393.9h0.65M86.0 394.2h0.65M88.3 394.1h0.65M82.8 397.0h0.65M83.4 401.6h0.65M88.1 398.2h0.65M86.3 394.1h0.65M83.4 397.4h0.65M81.9 400.4h0.65M82.7 397.4h0.65M81.6 394.7h0.65M87.2 400.2h0.65M85.8 395.6h0.65M76.0 401.9h0.65M89.3 397.1h0.65M88.4 400.1h0.65M89.0 395.5h0.65M88.8 398.4h0.65M80.0 399.1h0.65M80.4 399.6h0.65M87.2 394.8h0.65M78.2 403.6h0.65M86.5 400.8h0.65M80.7 402.1h0.65M92.3 399.8h0.65M84.5 398.9h0.65M84.7 400.4h0.65M88.7 396.8h0.65M80.6 401.4h0.65M83.6 400.0h0.65M86.1 401.3h0.65M89.1 395.5h0.65M86.4 401.5h0.65M83.4 399.7h0.65M89.2 399.3h0.65M87.0 394.4h0.65M80.9 400.2h0.65M86.5 403.2h0.65M82.3 401.7h0.65M87.8 393.2h0.65M82.4 399.4h0.65M83.5 398.3h0.65M86.8 395.6h0.65M86.8 396.0h0.65M83.3 399.9h0.65M83.3 399.4h0.65M90.6 396.0h0.65M84.7 399.8h0.65M84.0 400.9h0.65M80.8 401.1h0.65M83.5 396.9h0.65M91.2 393.8h0.65M91.2 397.2h0.65M90.1 393.9h0.65M89.3 399.7h0.65M84.8 397.9h0.65M93.6 395.2h0.65M83.8 397.1h0.65M86.7 398.2h0.65M85.8 401.6h0.65M84.1 399.5h0.65M90.2 393.8h0.65M88.7 400.8h0.65M80.6 397.3h0.65M81.7 395.2h0.65M86.7 393.2h0.65M86.9 400.6h0.65M79.7 399.4h0.65M78.7 402.2h0.65M82.7 398.4h0.65M85.4 399.2h0.65M84.0 398.5h0.65M83.3 399.0h0.65M81.2 399.7h0.65M78.6 399.4h0.65M91.7 395.7h0.65M80.9 400.2h0.65M81.9 395.5h0.65M82.7 400.6h0.65M86.5 397.3h0.65M82.0 396.8h0.65M89.8 396.8h0.65M82.0 394.5h0.65M80.5 405.4h0.65M81.3 399.3h0.65M85.9 397.4h0.65M84.3 395.3h0.65M81.6 403.2h0.65M82.6 400.9h0.65M79.4 399.6h0.65M86.1 400.0h0.65M81.4 400.8h0.65M86.5 395.8h0.65M86.8 395.4h0.65M82.5 399.0h0.65M76.0 401.3h0.65M81.8 396.0h0.65M83.8 400.3h0.65M83.8 401.4h0.65M81.3 396.6h0.65M90.5 396.9h0.65M88.4 394.9h0.65M87.9 397.5h0.65M87.4 397.2h0.65M89.3 395.0h0.65M81.9 395.9h0.65M89.1 394.8h0.65M81.7 397.2h0.65M83.7 395.7h0.65M84.2 397.0h0.65M83.3 396.6h0.65M85.3 396.9h0.65M85.6 398.4h0.65M86.4 392.6h0.65M83.4 396.9h0.65M87.8 393.4h0.65M82.8 398.3h0.65M84.1 400.7h0.65M83.7 400.7h0.65M80.2 395.8h0.65M89.3 397.4h0.65M86.9 397.6h0.65M86.8 394.6h0.65M88.4 395.6h0.65M88.6 396.9h0.65M78.5 397.7h0.65M89.0 396.2h0.65M83.9 399.1h0.65M83.8 397.3h0.65M85.5 398.2h0.65M90.4 396.1h0.65M91.6 399.6h0.65M91.0 398.2h0.65M85.6 398.1h0.65M84.7 396.5h0.65M85.0 396.6h0.65M90.8 397.1h0.65M83.7 394.3h0.65M85.0 397.1h0.65M81.5 396.9h0.65M77.5 402.2h0.65M85.0 403.9h0.65M85.1 397.7h0.65M90.1 396.4h0.65M85.8 396.9h0.65M83.1 402.2h0.65M88.6 400.6h0.65M84.0 398.5h0.65M82.2 401.3h0.65M80.5 401.1h0.65M88.9 399.8h0.65M82.0 401.7h0.65M82.8 397.2h0.65M80.7 402.3h0.65M90.8 394.5h0.65M82.6 398.2h0.65M93.7 397.0h0.65M83.4 394.7h0.65M82.9 401.5h0.65M91.6 395.0h0.65M82.8 397.8h0.65M78.8 402.5h0.65M81.5 401.8h0.65M79.4 397.4h0.65M86.2 395.9h0.65M87.9 397.0h0.65M81.2 400.9h0.65M88.1 392.6h0.65M91.4 396.7h0.65M87.8 392.8h0.65M82.8 398.1h0.65M88.9 393.3h0.65M82.2 394.6h0.65M84.4 399.1h0.65M79.5 398.9h0.65M86.9 400.9h0.65M87.5 396.5h0.65M81.2 397.4h0.65M82.9 399.2h0.65M85.0 401.8h0.65M86.2 395.2h0.65M90.5 398.1h0.65M85.5 396.2h0.65M78.8 398.1h0.65M88.3 395.0h0.65M80.7 400.2h0.65M86.0 399.0h0.65M87.4 400.3h0.65M82.3 401.3h0.65M81.8 400.8h0.65M85.8 398.3h0.65M88.5 396.7h0.65M89.0 398.5h0.65M85.7 396.5h0.65M82.6 397.8h0.65M84.5 398.2h0.65M95.3 395.6h0.65M87.8 395.1h0.65M82.8 398.2h0.65M85.9 395.4h0.65M90.7 394.6h0.65M88.9 391.3h0.65M85.2 398.6h0.65M85.9 399.1h0.65M86.2 398.0h0.65M78.8 398.9h0.65M77.2 402.5h0.65M86.2 397.2h0.65M82.4 397.8h0.65M91.5 399.5h0.65M85.0 401.0h0.65M79.8 395.7h0.65M83.6 396.7h0.65M83.3 399.2h0.65M95.5 392.6h0.65M85.4 398.6h0.65M85.1 400.1h0.65M91.2 392.9h0.65M85.7 397.2h0.65M86.4 394.1h0.65M79.2 395.1h0.65M87.0 397.7h0.65M85.5 392.6h0.65M83.9 396.8h0.65M80.4 397.8h0.65M87.6 398.3h0.65M85.1 399.2h0.65M83.1 398.9h0.65M85.3 399.2h0.65M85.0 397.8h0.65M84.7 396.7h0.65M92.8 396.3h0.65M86.7 402.6h0.65M90.0 392.7h0.65M87.6 399.0h0.65M91.6 398.5h0.65M87.8 394.3h0.65M82.2 399.7h0.65M86.9 395.0h0.65M83.9 397.6h0.65M85.4 398.7h0.65M84.2 395.6h0.65M89.4 400.0h0.65M84.8 400.4h0.65M86.7 398.9h0.65M86.8 395.7h0.65M87.2 399.5h0.65M82.2 403.6h0.65M92.3 399.4h0.65M92.0 397.1h0.65M84.0 397.1h0.65M82.4 399.3h0.65M85.1 399.6h0.65M78.3 405.8h0.65M92.9 395.0h0.65M87.5 398.2h0.65M86.1 397.2h0.65M84.8 396.3h0.65M85.8 397.7h0.65M86.3 395.7h0.65M85.3 398.1h0.65M87.3 394.8h0.65M86.6 399.7h0.65M87.2 396.4h0.65M83.5 398.1h0.65M87.7 400.5h0.65M84.7 396.8h0.65M86.5 398.0h0.65M82.1 397.5h0.65M84.9 399.6h0.65M81.1 397.3h0.65M86.9 394.6h0.65M85.6 398.7h0.65M84.8 395.9h0.65M85.0 397.3h0.65M86.3 395.7h0.65M88.9 392.8h0.65M84.6 398.2h0.65M88.5 395.4h0.65M87.1 396.0h0.65M87.7 401.0h0.65M83.8 399.5h0.65M82.0 401.4h0.65M89.3 396.5h0.65M81.3 400.4h0.65M89.1 399.0h0.65M88.0 392.8h0.65M82.9 402.1h0.65M81.0 402.1h0.65M91.6 397.3h0.65M89.0 395.8h0.65M81.0 399.4h0.65M84.5 398.2h0.65M87.6 396.8h0.65M85.9 398.7h0.65M85.2 402.2h0.65M86.7 397.6h0.65M84.5 396.9h0.65M89.8 396.6h0.65M81.5 398.1h0.65M84.7 397.2h0.65M88.9 394.0h0.65M86.9 397.7h0.65M81.2 399.6h0.65M84.9 399.3h0.65M83.7 399.3h0.65M79.5 397.7h0.65M87.9 399.3h0.65M85.2 396.7h0.65M88.9 391.9h0.65M82.5 400.6h0.65M87.4 394.8h0.65M78.8 403.7h0.65M85.7 395.8h0.65M85.4 400.0h0.65M76.4 403.9h0.65M87.7 392.4h0.65M87.8 393.0h0.65M89.1 397.4h0.65M92.9 393.7h0.65M85.2 400.4h0.65M83.0 397.2h0.65M83.9 398.3h0.65M81.5 400.5h0.65M87.0 397.5h0.65M91.0 395.1h0.65M89.6 395.1h0.65M87.8 392.7h0.65M85.9 397.3h0.65M83.5 397.3h0.65M84.0 396.8h0.65M77.7 399.5h0.65M83.3 397.5h0.65M81.6 399.1h0.65M87.9 396.4h0.65M83.5 401.7h0.65M88.5 398.8h0.65M89.1 395.8h0.65M84.8 400.7h0.65M83.3 398.5h0.65M86.5 398.3h0.65M84.3 400.6h0.65M84.6 399.9h0.65M88.8 398.1h0.65M87.7 394.4h0.65M80.7 398.3h0.65M86.8 400.8h0.65M81.0 400.3h0.65M82.3 397.5h0.65M84.3 399.9h0.65M85.9 400.4h0.65M81.8 401.3h0.65M88.4 396.9h0.65M86.8 396.1h0.65M81.5 398.5h0.65M83.0 405.3h0.65M83.6 402.3h0.65M85.9 398.4h0.65M87.7 395.3h0.65M88.3 397.7h0.65M80.0 401.3h0.65M87.1 398.3h0.65M90.6 395.0h0.65M86.9 399.0h0.65M82.1 401.9h0.65M80.3 397.0h0.65M87.0 394.9h0.65M84.8 394.4h0.65M85.4 395.4h0.65M86.4 394.1h0.65M86.7 396.8h0.65M85.4 397.8h0.65M85.6 394.9h0.65M76.5 401.4h0.65M82.0 398.2h0.65M86.7 393.0h0.65M82.6 397.6h0.65M81.6 400.1h0.65M84.7 396.3h0.65M81.9 401.1h0.65M83.0 400.2h0.65M86.7 393.2h0.65M81.5 399.4h0.65M86.4 399.3h0.65M87.9 399.3h0.65M83.9 398.0h0.65M87.8 396.0h0.65M88.8 393.0h0.65M87.4 396.8h0.65M78.5 402.8h0.65M86.3 397.6h0.65M81.5 398.4h0.65M90.3 394.2h0.65M73.4 400.6h0.65M81.1 399.3h0.65M83.9 396.5h0.65M82.3 401.5h0.65M80.3 404.3h0.65M83.4 396.2h0.65M87.9 398.2h0.65M81.7 401.0h0.65M78.9 398.3h0.65M89.0 396.0h0.65M80.8 400.8h0.65M88.3 396.8h0.65M79.1 399.6h0.65M86.6 399.2h0.65M91.5 395.0h0.65M83.6 398.5h0.65M89.3 394.3h0.65M89.6 390.1h0.65M87.9 395.4h0.65M86.8 399.0h0.65M81.2 399.3h0.65M86.0 399.0h0.65M82.0 397.0h0.65M78.7 406.2h0.65M84.5 397.7h0.65M80.1 402.0h0.65M83.4 401.9h0.65M88.1 396.9h0.65M87.7 394.6h0.65M84.1 397.1h0.65M80.9 399.7h0.65M84.7 401.4h0.65M73.8 400.8h0.65M82.1 398.1h0.65M86.6 398.4h0.65M85.3 396.9h0.65M86.9 398.2h0.65M78.9 399.8h0.65M80.5 397.1h0.65M85.7 397.9h0.65M85.6 395.9h0.65M84.5 396.2h0.65M86.5 399.1h0.65M91.2 398.6h0.65M82.5 398.0h0.65M82.0 399.9h0.65M91.9 397.0h0.65M77.7 398.0h0.65M80.8 400.8h0.65M85.2 398.7h0.65M91.3 393.8h0.65M82.3 403.5h0.65M86.4 395.8h0.65M78.3 397.2h0.65M76.9 401.3h0.65M85.4 400.2h0.65M84.7 396.6h0.65M82.7 403.2h0.65M79.2 400.7h0.65M85.3 399.4h0.65M83.8 399.7h0.65M88.0 396.6h0.65M83.6 398.2h0.65M81.9 398.8h0.65M84.2 398.9h0.65M89.7 399.2h0.65M83.7 399.9h0.65M86.2 399.3h0.65M85.3 398.6h0.65M83.6 396.8h0.65M88.2 399.8h0.65M87.5 398.1h0.65M86.1 396.6h0.65M79.1 401.8h0.65M85.9 396.5h0.65M81.9 402.1h0.65M79.1 404.3h0.65M87.4 402.5h0.65M82.8 398.9h0.65M83.5 399.0h0.65M84.5 396.6h0.65M88.9 394.8h0.65M83.5 399.9h0.65M83.4 397.7h0.65M86.4 396.7h0.65M81.0 399.4h0.65M84.5 402.1h0.65M81.5 401.6h0.65M82.5 398.2h0.65M84.1 399.0h0.65M88.1 400.8h0.65M83.0 401.8h0.65M88.6 398.5h0.65M82.6 401.0h0.65M84.8 398.9h0.65M84.3 399.8h0.65M89.0 399.1h0.65M84.5 400.5h0.65M90.1 394.0h0.65M90.2 393.1h0.65M87.0 398.6h0.65M90.2 396.7h0.65M83.6 396.8h0.65M80.9 401.4h0.65M84.4 396.7h0.65M87.0 395.6h0.65M83.7 397.5h0.65M90.8 399.1h0.65M84.7 394.7h0.65M86.1 397.8h0.65M86.4 398.8h0.65M84.1 400.5h0.65M88.0 397.4h0.65M83.8 397.4h0.65M87.6 394.6h0.65M84.7 396.5h0.65M80.5 401.2h0.65M85.1 398.1h0.65M88.2 393.5h0.65M85.0 398.7h0.65M88.0 394.5h0.65M87.6 397.6h0.65M89.8 398.8h0.65M87.1 402.1h0.65M85.2 397.0h0.65M84.0 396.3h0.65M85.1 393.8h0.65M84.9 399.1h0.65M88.6 395.9h0.65M89.9 394.7h0.65M84.7 393.9h0.65M82.6 397.2h0.65M90.2 397.3h0.65M81.5 400.6h0.65M86.8 396.9h0.65M85.3 397.3h0.65M83.4 394.8h0.65M84.9 400.9h0.65M90.0 395.6h0.65M82.7 398.5h0.65M88.2 397.6h0.65M83.3 399.5h0.65M84.5 399.4h0.65M83.8 395.3h0.65M85.4 399.6h0.65M81.5 399.2h0.65M88.1 396.1h0.65M83.0 403.3h0.65M87.9 399.2h0.65M82.1 402.8h0.65M79.7 399.0h0.65M87.6 400.0h0.65M82.1 397.7h0.65M85.9 393.5h0.65M87.3 398.4h0.65M83.7 399.7h0.65M87.8 397.7h0.65M86.9 400.7h0.65M83.6 399.0h0.65M83.5 400.9h0.65M83.9 399.6h0.65M85.7 398.0h0.65M90.9 395.7h0.65M89.9 398.0h0.65M89.5 396.0h0.65M88.3 398.5h0.65M83.2 399.4h0.65M84.8 398.1h0.65M89.5 394.8h0.65M79.7 396.3h0.65M83.7 397.2h0.65M85.2 399.2h0.65M91.0 396.5h0.65M86.7 395.8h0.65M87.1 400.2h0.65M89.6 392.1h0.65M88.1 400.3h0.65M87.9 393.7h0.65M84.2 399.7h0.65M86.6 395.7h0.65M82.3 401.2h0.65M80.8 402.8h0.65M85.3 398.6h0.65M80.8 398.4h0.65M87.5 393.9h0.65M92.0 392.4h0.65M81.2 399.6h0.65M86.8 399.0h0.65M84.0 398.0h0.65M84.4 397.1h0.65M76.8 403.3h0.65M86.0 398.0h0.65M83.1 399.3h0.65M85.2 397.9h0.65M88.8 392.9h0.65M86.0 395.4h0.65M84.2 401.6h0.65M81.7 399.1h0.65M83.3 400.8h0.65M82.0 395.6h0.65M86.9 396.6h0.65M84.2 400.7h0.65M82.3 398.3h0.65M85.7 398.7h0.65M83.5 400.9h0.65M92.5 394.3h0.65M91.3 391.1h0.65M89.8 395.5h0.65M85.6 397.1h0.65M83.1 396.0h0.65M83.9 401.3h0.65M88.9 395.8h0.65M83.5 397.1h0.65M81.3 403.4h0.65M87.4 397.4h0.65M83.6 396.4h0.65M89.5 398.0h0.65M82.1 401.3h0.65M81.6 400.8h0.65M82.1 398.3h0.65M86.8 398.3h0.65M88.5 394.9h0.65M90.4 398.9h0.65M85.2 399.0h0.65M82.7 398.6h0.65M80.9 399.8h0.65M85.9 400.7h0.65M88.3 398.6h0.65M84.0 398.0h0.65M84.1 398.9h0.65M78.9 402.1h0.65M80.1 398.8h0.65M85.3 396.9h0.65M90.6 395.7h0.65M90.3 398.6h0.65M83.6 399.5h0.65M89.4 395.7h0.65M85.5 396.7h0.65M85.4 397.2h0.65M85.5 400.1h0.65M89.7 396.5h0.65M85.9 399.6h0.65M84.3 396.1h0.65M88.8 394.6h0.65M88.2 394.8h0.65M91.2 393.5h0.65M88.0 400.2h0.65M82.1 402.4h0.65M82.5 395.2h0.65M87.6 398.6h0.65M84.5 392.8h0.65M85.0 397.4h0.65M84.0 397.8h0.65M79.4 399.0h0.65M91.1 399.1h0.65M84.0 396.9h0.65M86.5 399.8h0.65M87.6 394.6h0.65M85.7 398.1h0.65M89.9 398.8h0.65M86.9 400.0h0.65M83.9 401.8h0.65M83.8 399.4h0.65M88.2 394.9h0.65M82.9 395.1h0.65M85.7 397.7h0.65M84.1 399.5h0.65M78.3 400.6h0.65M85.5 397.3h0.65M87.8 400.8h0.65M83.7 396.5h0.65M83.2 399.0h0.65M87.1 395.4h0.65M88.5 394.5h0.65M87.9 397.9h0.65M86.7 402.1h0.65M84.3 398.0h0.65M86.8 399.3h0.65M80.8 400.3h0.65M82.8 400.3h0.65M89.7 396.4h0.65M84.9 398.5h0.65M75.6 403.4h0.65M87.0 397.7h0.65M83.9 396.9h0.65M84.6 400.8h0.65M84.9 401.0h0.65M76.8 400.2h0.65M86.1 397.6h0.65M79.8 398.6h0.65M89.3 393.6h0.65M82.0 396.9h0.65M83.4 400.1h0.65M87.1 392.9h0.65M90.0 394.9h0.65M83.3 402.3h0.65M84.9 395.4h0.65M83.1 397.2h0.65M81.9 398.5h0.65M88.1 397.7h0.65M80.7 405.7h0.65M82.0 399.5h0.65M85.3 399.6h0.65M84.1 399.4h0.65M92.1 395.6h0.65M81.7 400.1h0.65M82.6 398.2h0.65M85.8 398.5h0.65M84.3 400.2h0.65M84.6 395.4h0.65M88.1 396.1h0.65M89.2 395.1h0.65M87.1 398.0h0.65M76.4 398.1h0.65M81.5 402.4h0.65M79.0 402.3h0.65M88.8 397.7h0.65M87.4 396.1h0.65M85.2 398.5h0.65M86.6 399.0h0.65M84.5 396.7h0.65M83.4 399.6h0.65M79.8 397.4h0.65M83.9 397.3h0.65M84.3 392.6h0.65M84.1 397.9h0.65M87.7 392.8h0.65M84.2 399.4h0.65M86.8 400.0h0.65M88.6 394.4h0.65M87.3 396.5h0.65M82.6 402.3h0.65M83.1 396.9h0.65M83.9 396.7h0.65M88.5 397.6h0.65M89.8 397.1h0.65M83.2 401.0h0.65M83.1 397.8h0.65M84.7 398.3h0.65M89.1 395.2h0.65M86.4 397.5h0.65M81.1 397.2h0.65M84.5 399.2h0.65M86.2 398.6h0.65M85.4 397.0h0.65M86.6 395.3h0.65M80.8 399.0h0.65M80.5 398.7h0.65M82.8 397.7h0.65M85.1 396.3h0.65M83.8 394.8h0.65M85.7 395.9h0.65M86.5 391.4h0.65M82.6 399.5h0.65M77.2 400.3h0.65M85.5 398.1h0.65M80.3 400.4h0.65M85.7 395.7h0.65M87.6 397.0h0.65M85.3 397.0h0.65M87.0 397.5h0.65M88.9 397.6h0.65M83.2 398.3h0.65M88.2 396.1h0.65M86.5 398.7h0.65M84.6 393.2h0.65M85.6 398.3h0.65M85.6 396.2h0.65M89.2 396.2h0.65M83.2 397.2h0.65M86.4 395.2h0.65M81.9 403.6h0.65M89.5 398.6h0.65M89.7 397.6h0.65M79.7 402.7h0.65M89.3 397.5h0.65M78.8 403.2h0.65M89.7 395.2h0.65M85.6 399.5h0.65M84.9 400.5h0.65M85.5 399.4h0.65M85.5 394.7h0.65M81.9 406.2h0.65M86.1 400.5h0.65M89.0 400.3h0.65M87.0 396.0h0.65M85.3 393.8h0.65M84.6 400.2h0.65M78.1 401.2h0.65M87.9 399.9h0.65M82.1 397.7h0.65M79.0 398.1h0.65M87.0 401.8h0.65M81.4 402.5h0.65M86.6 396.4h0.65M92.4 389.7h0.65M85.0 398.6h0.65M92.2 399.2h0.65M92.7 395.4h0.65M88.4 399.7h0.65M86.9 398.1h0.65M84.6 397.3h0.65M81.1 403.8h0.65M83.7 394.0h0.65M86.1 397.6h0.65M85.8 401.7h0.65M84.8 397.6h0.65M82.7 398.9h0.65M83.7 399.0h0.65M95.5 394.9h0.65M82.4 403.3h0.65M88.1 398.7h0.65M87.6 398.9h0.65M87.4 400.2h0.65M88.5 399.7h0.65M83.5 398.6h0.65M82.8 401.0h0.65M88.0 395.9h0.65M87.1 403.0h0.65M89.3 394.0h0.65M84.9 399.5h0.65M85.1 398.9h0.65M89.1 397.2h0.65M81.6 401.0h0.65M84.9 398.4h0.65M83.3 395.7h0.65M81.1 398.8h0.65M81.7 393.4h0.65M89.0 394.0h0.65M82.8 400.1h0.65M77.2 404.0h0.65M82.7 400.4h0.65M83.6 399.3h0.65M85.5 397.9h0.65M79.2 397.1h0.65M85.1 401.1h0.65M82.8 400.8h0.65M87.6 399.5h0.65M93.3 389.1h0.65M88.4 396.3h0.65M84.4 394.0h0.65M81.1 393.9h0.65M79.0 410.8h0.65M98.1 395.1h0.65M91.6 391.9h0.65M67.5 393.1h0.65M87.5 404.0h0.65M86.2 392.9h0.65M84.9 393.2h0.65M77.0 398.5h0.65M83.8 394.3h0.65M80.5 394.5h0.65M88.1 403.6h0.65M85.1 408.2h0.65M75.5 401.1h0.65M78.6 398.4h0.65M87.2 399.9h0.65M94.2 393.3h0.65M78.0 398.4h0.65M88.5 393.8h0.65M92.6 404.0h0.65M76.8 401.3h0.65M93.4 387.1h0.65M87.9 396.2h0.65M76.8 405.7h0.65M88.0 395.0h0.65M89.5 399.8h0.65M91.7 399.1h0.65M89.3 391.4h0.65M83.6 398.7h0.65M67.6 411.5h0.65M83.9 393.2h0.65M74.1 401.3h0.65M86.7 394.7h0.65M83.7 394.0h0.65M81.4 398.1h0.65M82.1 401.6h0.65M85.5 398.3h0.65M89.3 402.8h0.65M90.6 397.7h0.65M85.4 394.0h0.65M84.2 401.2h0.65M88.0 395.4h0.65M77.4 392.3h0.65M88.7 401.8h0.65M89.1 390.6h0.65M85.0 398.8h0.65M80.2 400.5h0.65M85.1 393.9h0.65M78.0 403.1h0.65M88.9 392.9h0.65M79.6 403.1h0.65M90.6 395.2h0.65M97.4 393.8h0.65M79.3 404.1h0.65M85.2 399.4h0.65M86.8 392.8h0.65M78.4 398.3h0.65M96.1 390.8h0.65M95.8 396.5h0.65M78.9 400.4h0.65M90.4 392.5h0.65M72.0 402.3h0.65M78.9 401.2h0.65M73.5 399.6h0.65M81.0 391.8h0.65M84.9 398.6h0.65M82.7 392.8h0.65M87.9 389.1h0.65M90.1 399.0h0.65M97.9 399.2h0.65M88.9 398.2h0.65M86.7 391.3h0.65M96.5 397.8h0.65M84.6 392.6h0.65M96.6 397.8h0.65M78.4 402.3h0.65M99.4 394.6h0.65M89.2 395.0h0.65M82.2 403.4h0.65M107.4 393.6h0.65M85.7 401.4h0.65M84.4 401.3h0.65M92.1 391.6h0.65M79.2 398.7h0.65M92.2 397.6h0.65M94.9 389.3h0.65M89.9 393.9h0.65M87.2 398.8h0.65M79.9 397.9h0.65M78.6 400.4h0.65M80.7 396.5h0.65M88.0 394.2h0.65M94.3 392.9h0.65M92.3 397.6h0.65M79.5 398.0h0.65M80.8 397.0h0.65M84.7 406.3h0.65M83.7 405.4h0.65M89.5 390.8h0.65M70.8 404.0h0.65M73.0 403.7h0.65M93.5 397.8h0.65M85.1 396.6h0.65M88.3 395.7h0.65M82.9 396.6h0.65M94.4 392.9h0.65M89.1 391.6h0.65M81.7 392.2h0.65M85.2 400.9h0.65M88.6 394.8h0.65M90.6 395.0h0.65M89.0 398.2h0.65M90.2 385.3h0.65M77.7 403.0h0.65M85.8 408.0h0.65M84.9 395.3h0.65M96.6 397.9h0.65M99.4 397.1h0.65M85.1 401.1h0.65M81.2 396.6h0.65M82.7 397.3h0.65M91.8 394.1h0.65M88.7 394.7h0.65M92.5 383.5h0.65M85.1 398.6h0.65M79.2 403.7h0.65M88.0 403.1h0.65M93.0 399.1h0.65M85.5 392.7h0.65M85.0 395.7h0.65M88.2 395.0h0.65M107.2 385.7h0.65M94.4 393.6h0.65M84.9 402.1h0.65M86.5 391.9h0.65M89.3 396.0h0.65M72.6 401.4h0.65M79.4 395.6h0.65M89.8 398.2h0.65M84.5 407.9h0.65M89.3 394.1h0.65M88.1 396.6h0.65M71.6 393.4h0.65M77.1 409.0h0.65M85.3 396.5h0.65M82.7 402.8h0.65M86.7 405.3h0.65M91.8 403.9h0.65M85.7 399.4h0.65M83.6 397.3h0.65M74.8 397.3h0.65M80.1 395.9h0.65M94.7 396.9h0.65M94.8 399.7h0.65M92.7 400.8h0.65M82.4 402.1h0.65M84.3 395.5h0.65M94.6 405.7h0.65M79.9 406.9h0.65M92.1 392.4h0.65M88.3 398.8h0.65M89.0 395.3h0.65M77.8 399.5h0.65M92.3 399.9h0.65M91.0 401.6h0.65M79.8 398.7h0.65M88.8 401.6h0.65M87.6 399.7h0.65M87.4 407.0h0.65M71.8 400.5h0.65M103.2 395.0h0.65M74.1 400.8h0.65M76.8 396.5h0.65M88.0 405.1h0.65M89.6 399.9h0.65M93.4 396.9h0.65M80.7 398.3h0.65M88.8 395.7h0.65M82.0 396.8h0.65M76.4 395.0h0.65M85.9 396.0h0.65M86.8 403.9h0.65M88.5 396.9h0.65M78.6 394.2h0.65M89.0 392.9h0.65M89.4 392.0h0.65M87.4 397.0h0.65M93.2 394.3h0.65M84.0 399.2h0.65M86.9 405.2h0.65M84.8 395.4h0.65M84.3 400.1h0.65M88.1 400.3h0.65M77.2 410.9h0.65M98.9 394.7h0.65M78.4 400.0h0.65M89.3 386.7h0.65M86.6 390.7h0.65M89.6 403.2h0.65M93.5 389.1h0.65M95.8 399.7h0.65M84.1 400.3h0.65M96.7 393.8h0.65M86.4 395.0h0.65M94.3 385.9h0.65M96.1 391.0h0.65M92.7 388.7h0.65M80.2 396.1h0.65M92.1 388.9h0.65M90.6 393.7h0.65M94.9 394.3h0.65M89.8 396.0h0.65M98.6 393.3h0.65M86.3 406.6h0.65M87.0 400.5h0.65M81.5 399.5h0.65M71.2 401.3h0.65M82.1 391.5h0.65M77.0 404.8h0.65M89.4 389.9h0.65M98.7 391.7h0.65M84.0 399.2h0.65M78.8 391.7h0.65M81.5 404.0h0.65M92.9 388.9h0.65M94.6 395.9h0.65M89.9 397.0h0.65M89.3 392.3h0.65M80.4 395.6h0.65M84.0 400.9h0.65M78.3 406.6h0.65M82.2 395.7h0.65M91.2 398.5h0.65M84.2 393.1h0.65M79.8 391.6h0.65M94.2 400.8h0.65M99.1 397.1h0.65M88.7 400.5h0.65M92.9 394.9h0.65M88.9 406.9h0.65M75.1 393.5h0.65M80.0 402.3h0.65M94.5 394.2h0.65M91.0 396.3h0.65M88.5 394.6h0.65M86.3 397.5h0.65M94.1 406.1h0.65M74.3 402.6h0.65M86.5 402.0h0.65M93.7 399.6h0.65M92.0 392.0h0.65M75.0 407.6h0.65M94.6 391.4h0.65M95.2 398.7h0.65M70.0 405.2h0.65M79.8 404.3h0.65M81.9 395.1h0.65M76.1 398.7h0.65M93.4 392.9h0.65M74.0 410.0h0.65M98.9 398.0h0.65M82.9 392.7h0.65M75.5 402.4h0.65M95.3 390.8h0.65M86.5 396.2h0.65M84.8 400.2h0.65M100.6 391.5h0.65M92.2 401.3h0.65M84.6 397.2h0.65M77.5 404.4h0.65M82.9 395.3h0.65M87.0 393.5h0.65M79.5 397.6h0.65M96.5 394.4h0.65M90.1 390.0h0.65M73.4 408.7h0.65M83.8 391.0h0.65M85.8 400.4h0.65M74.8 395.9h0.65M88.3 392.9h0.65M91.9 400.8h0.65M89.5 394.9h0.65M86.2 394.7h0.65M85.6 399.2h0.65M84.5 402.4h0.65M104.0 391.2h0.65M88.8 400.8h0.65M90.9 395.5h0.65M83.3 402.8h0.65M90.7 398.9h0.65M81.1 401.6h0.65M91.9 395.5h0.65M90.9 406.6h0.65M73.8 403.0h0.65M78.6 392.9h0.65M84.9 400.4h0.65M86.9 392.1h0.65M76.8 397.0h0.65M86.6 393.7h0.65M76.3 407.8h0.65M80.8 398.0h0.65M82.8 395.6h0.65M86.8 396.1h0.65M90.7 391.1h0.65M76.4 408.7h0.65M86.0 401.2h0.65M94.5 398.3h0.65M86.7 390.3h0.65M75.7 404.3h0.65M91.1 399.1h0.65M75.3 390.1h0.65M79.3 393.6h0.65M87.6 392.5h0.65M97.2 392.3h0.65M82.7 402.3h0.65M88.7 392.9h0.65M92.1 405.2h0.65M78.2 398.1h0.65M79.2 390.1h0.65M90.8 399.8h0.65M93.1 398.1h0.65M72.8 400.3h0.65M82.0 393.0h0.65M79.0 402.7h0.65M84.5 407.0h0.65M89.7 388.0h0.65M92.6 402.0h0.65M86.7 391.8h0.65M98.5 388.8h0.65M85.9 388.8h0.65M78.0 391.4h0.65M93.9 401.4h0.65M83.7 391.8h0.65M86.1 399.3h0.65M76.1 394.3h0.65M85.8 400.9h0.65M87.0 399.5h0.65M78.0 387.8h0.65M88.6 392.8h0.65M85.7 395.9h0.65M89.8 393.2h0.65M96.4 395.5h0.65M90.1 399.7h0.65M93.6 397.9h0.65M74.5 397.1h0.65M99.2 397.0h0.65M90.3 398.9h0.65M82.1 395.3h0.65M82.1 403.8h0.65M89.0 405.3h0.65M89.9 405.6h0.65M89.6 391.3h0.65M98.4 396.5h0.65M94.7 396.8h0.65M84.3 398.8h0.65M78.8 393.6h0.65M80.4 396.4h0.65M77.2 399.0h0.65M88.6 406.5h0.65M99.1 394.6h0.65M92.6 395.2h0.65M89.2 396.8h0.65M82.8 398.7h0.65M76.3 401.7h0.65M84.5 392.9h0.65M84.0 400.6h0.65M81.8 400.7h0.65M90.4 404.0h0.65M79.0 398.6h0.65M90.0 403.8h0.65M88.3 400.7h0.65M76.4 396.9h0.65M97.9 393.7h0.65M101.4 390.9h0.65M84.6 390.4h0.65M90.9 397.8h0.65M100.4 395.3h0.65M84.8 391.2h0.65M85.9 402.1h0.65M91.6 402.2h0.65M92.5 396.0h0.65M90.7 397.4h0.65M77.3 407.5h0.65M89.1 392.0h0.65M89.2 398.3h0.65M93.4 402.8h0.65M97.1 390.8h0.65M73.6 401.6h0.65M88.8 398.7h0.65M78.8 396.9h0.65M87.8 400.7h0.65M101.7 395.6h0.65M82.3 387.3h0.65M93.9 395.3h0.65M85.7 393.0h0.65M91.6 387.9h0.65M87.3 397.9h0.65M88.6 403.2h0.65M85.8 398.1h0.65M92.4 388.9h0.65M84.5 398.3h0.65M93.1 392.3h0.65M92.1 398.1h0.65M76.2 392.7h0.65M76.5 400.3h0.65M87.9 400.6h0.65M92.2 393.7h0.65M93.9 399.8h0.65M89.8 399.1h0.65M77.6 401.1h0.65M79.3 393.4h0.65M84.1 398.7h0.65M86.1 396.0h0.65M79.5 399.9h0.65M81.3 391.9h0.65M87.1 404.3h0.65M83.7 393.1h0.65M96.1 403.6h0.65M84.5 396.9h0.65M88.0 411.2h0.65M87.4 402.0h0.65M89.6 388.2h0.65M78.8 393.3h0.65M89.5 397.4h0.65M99.0 393.5h0.65M88.6 397.4h0.65M87.5 408.3h0.65M88.5 404.1h0.65M95.5 392.7h0.65M91.3 394.7h0.65M87.3 398.1h0.65M86.6 395.2h0.65M97.4 393.9h0.65M91.4 404.4h0.65M90.9 401.4h0.65M96.2 400.6h0.65M98.5 388.1h0.65M100.2 394.7h0.65M74.3 397.1h0.65M76.8 399.5h0.65M76.1 394.9h0.65M88.6 397.8h0.65M80.9 397.6h0.65M85.8 398.0h0.65M86.5 396.5h0.65M92.6 388.5h0.65M83.1 398.9h0.65M83.7 395.5h0.65M83.4 399.1h0.65M95.2 394.8h0.65M84.6 399.6h0.65M84.8 388.6h0.65M88.4 395.3h0.65M82.5 401.4h0.65M86.8 394.7h0.65M71.3 392.6h0.65M86.6 396.9h0.65M89.6 397.9h0.65M83.2 392.2h0.65M78.8 398.5h0.65M78.5 402.8h0.65M77.2 390.9h0.65M85.1 389.3h0.65M97.9 390.3h0.65M86.1 396.4h0.65M80.8 390.3h0.65M73.5 404.4h0.65M93.6 406.3h0.65M76.3 402.4h0.65M86.4 401.6h0.65M82.9 401.7h0.65M92.8 399.0h0.65M96.6 394.5h0.65M97.3 391.8h0.65M98.2 381.9h0.65M86.6 393.7h0.65M86.5 402.4h0.65M91.5 396.9h0.65M98.4 387.9h0.65M80.8 405.9h0.65M88.8 387.1h0.65M88.9 391.3h0.65M96.8 400.7h0.65M82.7 404.5h0.65M80.7 403.1h0.65M90.6 396.0h0.65M76.5 398.3h0.65M70.5 398.2h0.65M73.5 406.1h0.65M79.7 387.3h0.65M90.6 398.4h0.65M83.0 408.4h0.65M91.9 396.7h0.65M82.0 384.4h0.65M89.9 401.4h0.65M82.4 391.6h0.65M86.2 389.6h0.65M86.6 401.2h0.65M97.1 396.5h0.65M87.9 400.8h0.65M96.3 393.9h0.65M77.9 395.6h0.65M77.7 395.1h0.65M85.7 399.3h0.65M87.6 397.6h0.65M84.0 400.1h0.65M92.7 399.8h0.65M97.0 393.9h0.65M84.7 406.0h0.65M87.9 399.2h0.65M84.1 402.6h0.65M83.7 393.3h0.65M86.1 395.5h0.65M92.3 394.4h0.65M87.4 396.3h0.65M88.9 394.0h0.65M94.2 389.1h0.65M83.8 394.7h0.65M91.0 396.7h0.65M89.9 395.2h0.65M81.5 393.2h0.65M84.2 395.4h0.65M88.5 398.8h0.65M93.3 395.5h0.65M81.3 393.6h0.65M86.9 399.1h0.65M100.1 395.4h0.65M98.8 403.8h0.65M79.2 404.8h0.65M94.5 402.2h0.65M86.4 402.1h0.65M83.1 397.9h0.65M86.6 406.0h0.65M85.0 402.4h0.65M87.0 394.0h0.65M88.2 400.3h0.65M81.5 401.6h0.65M81.5 394.4h0.65M88.0 396.0h0.65M79.6 391.2h0.65M86.7 398.6h0.65M83.3 399.1h0.65M75.8 401.7h0.65M89.4 398.2h0.65M82.2 398.8h0.65M87.4 402.4h0.65M88.4 398.3h0.65M81.4 402.7h0.65M94.7 393.4h0.65M91.0 398.0h0.65M86.2 391.4h0.65M98.8 386.0h0.65M88.6 395.3h0.65M94.5 393.8h0.65M86.8 400.4h0.65M89.7 394.3h0.65M91.3 398.3h0.65M93.4 393.6h0.65M86.2 395.7h0.65M80.6 400.0h0.65M89.4 403.6h0.65M84.2 399.8h0.65M94.5 395.2h0.65M86.9 398.0h0.65M81.7 393.8h0.65M94.3 396.7h0.65M86.0 391.7h0.65M87.3 402.9h0.65M78.5 395.0h0.65M94.2 402.6h0.65M97.3 392.6h0.65M90.7 393.0h0.65M90.1 395.0h0.65M87.9 403.6h0.65M88.9 395.9h0.65M86.9 398.7h0.65M82.9 399.2h0.65M90.7 404.0h0.65M72.1 394.9h0.65M77.9 403.5h0.65M103.5 394.8h0.65M87.3 402.7h0.65M69.5 400.3h0.65M83.0 396.0h0.65M88.9 394.2h0.65M94.2 395.8h0.65M89.1 409.0h0.65M83.4 402.6h0.65M80.8 404.6h0.65M93.2 396.7h0.65M93.4 403.6h0.65M96.1 395.5h0.65M86.1 402.8h0.65M76.3 396.8h0.65M89.9 399.5h0.65M99.4 403.1h0.65M88.8 399.1h0.65M77.4 398.6h0.65M88.3 396.0h0.65M86.9 400.3h0.65M79.9 396.2h0.65M74.2 405.5h0.65M79.2 391.0h0.65M91.8 395.3h0.65M93.2 394.3h0.65M101.2 397.7h0.65M87.5 397.8h0.65M85.1 401.6h0.65M100.3 392.5h0.65M79.0 401.9h0.65M93.9 388.9h0.65M81.7 393.8h0.65M90.4 399.1h0.65M81.4 393.3h0.65M91.2 386.8h0.65M91.0 395.8h0.65M99.8 399.3h0.65M82.5 397.1h0.65M84.6 394.5h0.65M87.1 401.9h0.65M76.1 398.7h0.65M96.8 398.8h0.65M80.9 394.9h0.65M80.6 391.2h0.65M94.4 396.1h0.65M81.7 391.8h0.65M83.9 395.7h0.65M98.4 392.8h0.65M87.3 402.4h0.65M91.1 395.7h0.65M71.5 407.3h0.65M90.6 394.6h0.65M85.9 393.1h0.65M80.3 391.9h0.65M90.0 399.2h0.65M87.7 400.9h0.65M90.2 397.3h0.65M80.4 401.6h0.65M94.7 398.7h0.65M95.1 393.4h0.65M79.8 404.8h0.65M82.5 399.5h0.65M85.2 397.9h0.65M84.6 395.4h0.65M74.2 409.1h0.65M87.9 388.2h0.65M80.3 393.6h0.65M81.4 386.7h0.65M90.5 404.3h0.65M84.8 401.3h0.65M90.6 390.8h0.65M94.9 387.8h0.65M82.6 396.7h0.65M95.1 396.2h0.65M85.6 393.9h0.65M87.1 397.6h0.65M91.5 402.9h0.65M91.6 396.5h0.65M85.5 405.2h0.65M87.9 397.1h0.65M98.8 402.2h0.65M90.4 396.2h0.65M82.2 403.4h0.65M83.4 402.6h0.65M81.1 399.1h0.65M89.3 397.6h0.65M88.1 398.9h0.65M78.8 394.0h0.65M85.5 406.1h0.65M85.6 393.4h0.65M82.0 398.6h0.65M94.6 393.1h0.65M90.3 397.6h0.65M84.1 393.6h0.65M85.5 394.4h0.65M90.2 388.5h0.65M94.2 399.4h0.65M90.5 403.6h0.65M90.6 388.7h0.65M86.9 399.5h0.65M81.8 393.2h0.65M89.5 399.2h0.65M83.6 397.0h0.65M83.0 395.6h0.65M86.1 402.6h0.65M75.5 398.3h0.65M97.5 396.6h0.65M87.6 401.2h0.65M79.6 393.3h0.65M75.2 393.1h0.65M88.2 401.1h0.65M83.7 394.9h0.65M89.3 399.8h0.65M88.3 388.3h0.65M82.8 386.5h0.65M88.2 393.2h0.65M82.0 405.4h0.65M95.5 397.8h0.65M88.4 397.9h0.65M82.5 398.1h0.65M99.5 390.6h0.65M82.0 399.2h0.65M92.6 400.1h0.65M79.9 398.3h0.65M84.7 392.2h0.65M87.0 395.2h0.65M92.8 398.2h0.65M81.2 399.0h0.65M84.1 395.1h0.65M83.2 403.1h0.65M83.7 390.1h0.65M81.2 402.4h0.65M101.2 389.5h0.65M84.1 396.5h0.65M76.9 401.4h0.65M86.2 398.9h0.65M101.7 393.0h0.65M91.9 400.2h0.65M82.2 395.7h0.65M97.1 398.5h0.65M87.5 392.2h0.65M92.5 398.7h0.65M101.5 401.1h0.65M92.0 397.6h0.65M86.9 394.9h0.65M88.6 398.2h0.65M90.9 401.6h0.65M88.6 394.5h0.65M92.0 403.5h0.65M80.8 400.7h0.65M90.2 399.2h0.65M89.9 396.3h0.65M85.8 405.5h0.65M98.3 388.5h0.65M69.2 403.2h0.65M81.9 396.1h0.65M75.7 401.5h0.65M86.1 395.1h0.65M92.6 407.5h0.65M96.5 400.8h0.65M83.7 401.2h0.65M86.2 402.9h0.65M90.5 396.5h0.65M90.3 393.4h0.65M91.9 403.3h0.65M84.0 400.6h0.65M75.2 404.3h0.65M92.5 391.5h0.65M98.4 395.5h0.65M74.7 393.7h0.65M92.4 395.0h0.65M94.0 388.7h0.65M85.8 402.2h0.65M81.9 401.6h0.65M84.1 399.6h0.65M88.7 407.4h0.65M78.1 402.9h0.65M95.4 390.4h0.65M87.1 408.1h0.65M93.6 382.2h0.65M84.9 389.9h0.65M88.6 393.7h0.65M82.7 394.4h0.65M88.5 394.9h0.65M80.4 397.8h0.65M89.3 392.9h0.65M94.1 388.2h0.65M89.3 395.1h0.65M97.2 392.2h0.65M82.0 392.2h0.65M100.0 397.5h0.65M79.1 397.5h0.65M80.0 406.0h0.65M89.3 387.5h0.65M87.9 401.4h0.65M86.5 399.7h0.65M85.8 398.6h0.65M87.9 393.9h0.65M88.9 397.8h0.65M86.2 394.4h0.65M79.6 400.1h0.65M92.1 385.1h0.65M82.9 404.6h0.65M92.7 392.9h0.65M95.7 391.0h0.65M81.1 407.6h0.65M83.5 397.1h0.65M75.3 395.2h0.65M78.5 398.6h0.65M74.0 405.1h0.65M84.1 395.2h0.65M82.2 401.9h0.65M96.9 393.4h0.65M97.5 402.6h0.65M95.6 396.9h0.65M76.4 402.8h0.65M83.7 399.0h0.65M73.7 398.9h0.65M88.1 392.8h0.65M88.5 404.8h0.65M88.1 394.0h0.65M102.7 384.0h0.65M80.2 400.7h0.65M82.5 387.7h0.65M88.3 401.0h0.65M81.1 405.5h0.65M89.9 402.3h0.65M76.1 399.7h0.65M97.4 404.5h0.65M95.5 395.6h0.65M87.7 394.3h0.65M94.0 392.7h0.65M87.3 387.7h0.65M76.2 408.0h0.65M86.9 398.4h0.65M71.5 400.6h0.65M100.6 387.5h0.65M70.3 400.2h0.65M82.9 397.3h0.65M77.9 393.0h0.65M78.1 402.3h0.65M86.2 401.4h0.65M79.1 401.8h0.65M83.5 398.6h0.65M92.9 396.3h0.65M84.1 390.3h0.65M86.9 401.1h0.65M82.2 398.1h0.65M74.4 393.9h0.65M89.3 403.0h0.65M84.4 390.2h0.65M83.9 390.8h0.65M84.6 406.9h0.65M88.6 396.3h0.65M93.6 394.2h0.65M88.8 397.9h0.65M89.6 390.0h0.65M91.4 400.6h0.65M70.8 388.2h0.65M80.4 405.8h0.65M86.6 400.6h0.65M90.3 400.8h0.65M82.1 395.7h0.65M89.1 399.8h0.65M90.4 398.2h0.65M83.2 403.4h0.65M89.7 401.8h0.65M69.0 406.0h0.65M69.7 402.1h0.65M81.9 399.0h0.65M83.2 396.7h0.65M87.8 398.8h0.65M81.0 386.8h0.65M81.1 401.2h0.65M80.7 400.8h0.65M84.0 393.6h0.65M94.6 403.6h0.65M85.8 397.4h0.65M93.1 389.8h0.65M80.5 404.1h0.65M92.7 393.8h0.65M81.1 400.3h0.65M76.8 397.2h0.65M84.9 386.2h0.65M90.6 400.2h0.65M93.9 389.1h0.65M77.6 395.6h0.65M77.5 409.1h0.65M79.7 397.5h0.65M87.9 399.3h0.65M96.6 390.2h0.65M92.6 396.9h0.65M78.4 400.0h0.65M76.8 407.2h0.65M81.4 403.3h0.65M95.5 392.6h0.65M80.3 399.5h0.65M79.2 403.3h0.65M87.7 393.6h0.65M81.7 402.0h0.65M76.4 407.7h0.65M81.0 397.7h0.65M80.1 406.6h0.65M92.2 402.4h0.65M91.0 397.0h0.65M98.3 398.1h0.65M89.5 399.6h0.65M91.6 397.7h0.65M85.3 390.2h0.65M100.8 388.3h0.65M71.5 397.3h0.65M100.0 400.4h0.65M82.3 399.7h0.65M86.3 388.1h0.65M84.2 399.4h0.65M100.8 387.8h0.65M91.6 398.2h0.65M89.6 398.9h0.65M84.0 388.3h0.65M93.0 400.4h0.65M94.3 406.6h0.65M74.4 382.1h0.65M78.0 402.0h0.65M87.8 403.4h0.65M123.3 390.6h0.65M86.1 393.8h0.65M90.7 401.6h0.65M77.3 408.9h0.65M100.6 400.0h0.65M86.8 396.4h0.65M69.9 404.7h0.65M77.3 395.4h0.65M99.0 390.1h0.65M82.3 404.9h0.65M108.4 390.8h0.65M100.1 391.9h0.65M92.3 401.2h0.65M75.5 406.9h0.65M107.8 396.4h0.65M91.0 389.0h0.65M107.7 396.5h0.65M74.0 405.1h0.65M71.9 394.6h0.65M112.3 390.8h0.65M80.8 394.5h0.65M81.8 402.7h0.65M104.0 388.9h0.65M92.8 384.1h0.65M104.8 395.6h0.65M80.3 410.1h0.65M86.8 408.3h0.65M99.8 409.1h0.65M79.2 399.3h0.65M92.1 396.1h0.65M104.8 391.0h0.65M99.0 407.0h0.65M78.1 395.0h0.65M92.3 396.3h0.65M88.9 394.5h0.65M87.1 401.7h0.65M96.2 391.4h0.65M86.7 392.5h0.65M86.0 387.6h0.65M98.5 401.9h0.65M86.7 393.1h0.65M83.0 393.6h0.65M71.0 411.8h0.65M124.2 385.2h0.65M75.2 403.6h0.65M94.7 385.7h0.65M82.6 399.2h0.65M88.0 393.9h0.65M86.4 395.9h0.65M101.7 395.9h0.65M87.6 394.1h0.65M81.0 393.3h0.65M88.1 411.6h0.65M100.3 398.5h0.65M106.4 403.6h0.65M90.3 396.5h0.65M75.9 401.1h0.65M84.5 386.6h0.65M90.4 401.5h0.65M90.2 394.3h0.65M93.1 405.5h0.65M84.6 402.1h0.65M99.3 393.3h0.65M89.9 392.3h0.65M94.6 394.6h0.65M100.6 391.0h0.65M106.6 393.8h0.65M78.8 392.2h0.65M95.3 390.9h0.65M107.8 405.5h0.65M93.7 386.9h0.65M87.7 392.6h0.65M68.1 403.2h0.65M112.2 391.5h0.65M96.9 406.6h0.65M77.4 396.6h0.65M91.0 401.2h0.65M75.4 400.9h0.65M86.8 405.2h0.65M70.4 395.6h0.65M82.5 396.2h0.65M95.9 392.5h0.65M118.1 389.7h0.65M97.2 404.6h0.65M98.6 395.4h0.65M78.9 397.0h0.65M95.3 398.1h0.65M94.4 401.6h0.65M78.3 392.1h0.65M103.9 392.8h0.65M78.8 392.0h0.65M98.6 388.5h0.65M78.4 406.8h0.65M89.4 398.3h0.65M80.9 397.1h0.65M82.5 398.4h0.65M96.5 387.7h0.65M77.9 383.5h0.65M104.5 395.8h0.65M87.8 397.6h0.65M99.0 399.3h0.65M97.4 395.8h0.65M86.7 397.7h0.65M67.5 408.2h0.65M70.6 392.4h0.65M95.4 397.7h0.65M96.9 409.7h0.65M108.5 406.2h0.65M78.3 398.3h0.65M99.0 395.3h0.65M86.7 395.5h0.65M103.0 378.2h0.65M102.0 404.4h0.65M87.2 402.2h0.65M77.3 407.3h0.65M121.7 387.7h0.65M103.4 396.0h0.65M84.3 394.8h0.65M85.9 388.9h0.65M73.1 411.9h0.65M87.8 402.1h0.65M91.4 401.2h0.65M71.2 392.7h0.65M95.0 404.7h0.65M75.4 395.0h0.65M76.2 404.0h0.65M91.8 397.9h0.65M80.9 401.3h0.65M88.4 392.5h0.65M91.7 392.7h0.65M98.5 401.6h0.65M80.4 403.1h0.65M88.7 392.7h0.65M77.9 386.7h0.65M75.6 401.8h0.65M101.3 392.0h0.65M89.8 400.4h0.65M96.6 400.4h0.65M101.5 402.3h0.65M79.6 401.8h0.65M88.2 402.3h0.65M84.7 404.5h0.65M102.5 390.3h0.65M82.0 400.5h0.65M93.4 398.5h0.65M97.1 388.3h0.65M96.5 405.8h0.65M100.2 399.9h0.65M85.4 401.2h0.65M87.2 386.3h0.65M81.3 398.4h0.65M82.3 391.7h0.65M85.4 395.5h0.65M88.8 397.6h0.65M89.9 405.2h0.65M89.5 400.9h0.65M74.6 377.5h0.65M83.6 403.5h0.65M84.3 393.8h0.65M74.4 406.0h0.65M82.2 400.4h0.65M100.4 400.7h0.65M112.7 394.5h0.65M98.5 402.1h0.65M80.8 399.1h0.65M81.8 391.0h0.65M91.3 391.9h0.65M106.5 390.6h0.65M82.0 399.3h0.65M82.3 399.0h0.65M81.3 388.1h0.65M104.7 399.6h0.65M89.7 394.4h0.65M86.4 400.4h0.65M72.7 393.6h0.65M78.2 408.3h0.65M76.4 407.9h0.65M87.1 398.3h0.65M102.9 403.0h0.65M98.3 389.0h0.65M100.5 409.2h0.65M86.9 394.5h0.65M76.0 406.8h0.65M91.2 397.7h0.65M74.4 411.4h0.65M97.6 396.9h0.65M104.2 389.3h0.65M97.7 389.6h0.65M103.5 394.4h0.65M101.5 393.5h0.65M92.4 406.0h0.65M78.1 399.7h0.65M78.8 405.3h0.65M81.4 395.9h0.65M85.8 406.9h0.65M76.5 399.0h0.65M84.4 394.3h0.65M79.3 397.7h0.65M90.2 386.3h0.65M90.6 389.0h0.65M77.4 398.6h0.65M85.2 405.6h0.65M82.8 385.3h0.65M70.3 401.1h0.65M90.8 405.6h0.65M82.1 403.5h0.65M76.3 408.8h0.65M87.2 393.1h0.65M90.0 410.7h0.65M78.7 389.8h0.65M76.8 390.6h0.65M87.4 400.7h0.65M86.2 399.6h0.65M101.0 394.5h0.65M74.2 382.5h0.65M90.7 392.7h0.65M85.3 401.3h0.65M93.1 385.9h0.65M77.5 399.6h0.65M86.4 406.7h0.65M82.5 383.3h0.65M100.9 384.6h0.65M77.3 402.0h0.65M90.6 401.7h0.65M93.9 392.1h0.65M101.8 384.1h0.65M81.5 400.8h0.65M89.5 390.7h0.65M105.4 407.1h0.65M77.7 401.8h0.65M81.0 395.5h0.65M98.8 397.8h0.65M86.8 398.9h0.65M75.1 408.4h0.65M79.7 408.5h0.65M83.0 395.1h0.65M104.3 397.7h0.65M81.0 394.7h0.65M94.7 411.2h0.65M94.8 394.4h0.65M75.7 394.3h0.65M86.7 399.9h0.65M80.8 408.2h0.65M77.5 393.8h0.65M93.5 401.0h0.65M83.7 405.6h0.65M72.5 411.7h0.65M112.1 410.0h0.65M88.6 407.8h0.65M85.8 399.7h0.65M93.8 384.5h0.65M85.7 411.0h0.65M98.1 399.4h0.65M90.1 408.1h0.65M91.7 383.6h0.65M77.6 396.9h0.65M89.6 394.5h0.65M86.8 410.5h0.65M98.3 401.4h0.65M88.2 398.5h0.65M92.0 399.4h0.65M80.0 404.6h0.65M78.9 398.6h0.65M84.1 389.9h0.65M94.7 396.8h0.65M75.2 398.7h0.65M72.9 410.2h0.65M81.8 403.9h0.65M77.4 392.8h0.65M87.0 401.1h0.65M98.1 395.0h0.65M100.1 403.9h0.65M78.4 397.7h0.65M78.0 411.6h0.65M82.0 405.2h0.65M98.0 395.1h0.65M82.7 401.1h0.65M79.5 389.5h0.65M77.4 401.6h0.65M90.1 410.8h0.65M68.0 403.8h0.65M75.4 407.8h0.65M95.6 398.2h0.65M104.2 393.6h0.65M82.2 390.8h0.65M80.8 399.6h0.65M95.4 406.7h0.65M85.1 392.9h0.65M84.3 395.2h0.65M82.9 395.6h0.65M78.5 398.6h0.65M82.4 397.3h0.65M72.9 400.6h0.65M94.3 402.1h0.65M82.0 390.2h0.65M73.8 390.8h0.65M81.0 396.4h0.65M68.6 404.9h0.65M71.2 394.7h0.65M80.1 404.9h0.65M108.1 393.3h0.65M85.0 395.4h0.65M85.8 397.0h0.65M114.9 387.2h0.65M86.8 392.3h0.65M91.9 393.8h0.65M94.3 389.4h0.65M111.0 397.2h0.65M68.7 405.1h0.65M82.9 390.1h0.65M92.8 393.7h0.65M96.0 393.2h0.65M97.8 398.1h0.65M91.9 398.8h0.65M84.0 395.8h0.65M92.9 402.7h0.65M106.4 387.7h0.65M99.8 396.3h0.65M90.5 392.0h0.65M106.0 390.1h0.65M87.1 392.8h0.65M109.0 405.0h0.65M73.7 396.2h0.65M92.0 394.4h0.65M84.2 390.5h0.65M90.7 389.7h0.65M84.5 410.4h0.65M92.1 392.7h0.65M84.3 391.4h0.65M89.2 403.0h0.65M98.1 394.9h0.65M75.0 398.8h0.65M106.2 398.2h0.65M87.3 382.9h0.65M83.3 402.5h0.65M77.7 408.9h0.65M81.9 392.3h0.65M81.7 398.0h0.65M98.8 392.8h0.65M68.7 399.4h0.65M93.7 408.7h0.65M75.8 410.1h0.65M95.3 400.6h0.65M79.7 392.4h0.65M77.7 405.9h0.65M90.4 405.5h0.65M107.7 396.1h0.65M87.5 412.0h0.65M73.9 396.2h0.65M84.0 395.7h0.65M89.6 391.8h0.65M100.6 386.8h0.65M79.2 386.6h0.65M72.8 403.8h0.65M94.8 395.9h0.65M97.1 401.6h0.65M81.8 398.4h0.65M83.2 401.2h0.65M93.9 406.3h0.65M92.6 405.4h0.65M76.5 397.3h0.65M67.1 399.8h0.65M113.2 397.2h0.65M89.0 399.9h0.65M89.6 388.3h0.65M80.5 397.5h0.65M89.8 391.6h0.65M86.9 392.8h0.65M73.7 394.7h0.65M79.3 405.0h0.65M102.5 400.8h0.65M96.6 393.8h0.65M88.0 395.1h0.65M108.0 399.6h0.65M99.4 394.8h0.65M98.0 397.8h0.65M98.0 397.9h0.65M93.1 396.9h0.65M95.8 401.0h0.65M90.1 402.7h0.65M97.5 393.9h0.65M98.1 396.5h0.65M96.5 398.1h0.65M94.3 389.3h0.65M102.4 395.3h0.65M108.6 396.2h0.65M85.2 403.1h0.65M93.6 399.0h0.65M112.2 398.8h0.65M91.0 396.6h0.65M87.7 400.3h0.65M101.6 391.1h0.65M100.9 399.7h0.65M103.2 392.4h0.65M93.6 391.8h0.65M89.7 398.5h0.65M98.3 401.6h0.65M99.8 394.4h0.65M88.9 403.9h0.65M99.1 395.8h0.65M91.6 392.4h0.65M102.0 391.3h0.65M101.7 398.2h0.65M95.6 389.4h0.65M100.6 401.7h0.65M92.7 391.3h0.65M105.0 395.7h0.65M94.0 401.8h0.65M96.2 398.2h0.65M95.4 393.2h0.65M99.4 392.2h0.65M86.7 395.3h0.65M105.9 399.7h0.65M111.9 398.4h0.65M108.3 395.7h0.65M95.2 398.4h0.65M91.9 400.0h0.65M95.1 397.5h0.65M92.6 396.2h0.65M104.3 394.2h0.65M93.7 397.8h0.65M103.6 394.5h0.65M90.5 390.4h0.65M89.5 401.8h0.65M97.4 398.2h0.65M104.8 396.3h0.65M101.1 393.5h0.65M87.7 400.2h0.65M97.4 398.6h0.65M91.2 396.4h0.65M110.8 390.7h0.65M98.6 401.6h0.65M96.5 396.8h0.65M84.4 401.2h0.65M95.2 401.9h0.65M97.4 394.5h0.65M100.8 394.6h0.65M94.7 403.1h0.65M104.3 395.7h0.65M103.2 398.9h0.65M101.7 395.7h0.65M98.5 397.7h0.65M101.6 397.1h0.65M94.5 396.2h0.65M100.9 391.5h0.65M97.9 399.3h0.65M99.1 394.7h0.65M97.9 394.0h0.65M104.3 393.6h0.65M87.4 392.4h0.65M99.9 396.7h0.65M95.0 390.9h0.65M97.1 392.6h0.65M93.8 396.6h0.65M93.1 398.1h0.65M93.3 394.7h0.65M96.6 402.4h0.65M108.0 398.7h0.65M93.3 396.7h0.65M103.8 398.7h0.65M87.6 397.3h0.65M93.3 399.9h0.65M102.1 393.2h0.65M111.6 393.0h0.65M113.5 393.2h0.65M97.5 404.2h0.65M94.7 394.5h0.65M107.4 394.6h0.65M101.0 390.3h0.65M109.4 398.6h0.65M100.3 398.7h0.65M94.8 394.5h0.65M88.0 399.0h0.65M105.9 398.6h0.65M103.9 398.2h0.65M92.1 391.4h0.65M102.1 396.2h0.65M104.3 394.0h0.65M92.4 398.7h0.65M94.5 389.7h0.65M94.1 392.9h0.65M90.9 394.7h0.65M104.0 405.1h0.65M109.0 392.8h0.65M105.3 394.8h0.65M100.6 392.9h0.65M97.5 389.1h0.65M109.4 391.3h0.65M101.7 393.1h0.65M99.7 390.9h0.65M95.6 400.2h0.65M101.8 387.4h0.65M103.4 389.8h0.65M99.8 398.0h0.65M93.9 395.3h0.65M96.4 398.0h0.65M103.8 401.0h0.65M100.1 404.2h0.65M92.0 404.4h0.65M96.3 399.5h0.65M97.2 396.5h0.65M92.2 398.5h0.65M110.9 394.9h0.65M97.9 396.1h0.65M102.5 394.6h0.65M98.0 397.0h0.65M106.3 398.9h0.65M91.3 394.4h0.65M98.1 399.6h0.65M104.2 394.4h0.65M111.5 393.5h0.65M106.9 400.8h0.65M108.2 395.5h0.65M101.7 389.2h0.65M86.7 395.1h0.65M102.6 399.9h0.65M97.3 400.5h0.65M101.7 401.9h0.65M87.9 394.0h0.65M91.9 392.5h0.65M108.5 390.7h0.65M92.7 395.1h0.65M103.6 393.4h0.65M102.7 397.7h0.65M93.9 386.7h0.65M92.2 391.7h0.65M108.4 391.6h0.65M91.2 398.6h0.65M98.3 392.1h0.65M105.0 398.9h0.65M99.8 392.6h0.65M92.4 388.3h0.65M100.4 397.4h0.65M92.1 397.0h0.65M118.9 388.5h0.65M87.1 400.1h0.65M95.3 394.4h0.65M102.0 395.0h0.65M104.3 397.3h0.65M105.4 395.5h0.65M84.3 403.7h0.65M87.2 401.9h0.65M99.6 390.0h0.65M98.4 399.7h0.65M91.5 397.1h0.65M93.3 392.5h0.65M94.1 401.9h0.65M102.4 395.3h0.65M97.5 396.7h0.65M99.8 396.6h0.65M87.1 401.4h0.65M92.5 385.9h0.65M102.5 390.4h0.65M97.1 395.8h0.65M94.2 398.8h0.65M96.3 395.1h0.65M91.9 395.7h0.65M91.4 397.1h0.65M106.4 399.1h0.65M100.7 390.0h0.65M104.6 399.1h0.65M111.2 384.8h0.65M98.1 394.6h0.65M104.9 390.5h0.65M95.6 406.1h0.65M104.4 386.8h0.65M98.1 401.8h0.65M94.1 399.1h0.65M98.6 389.8h0.65M94.0 401.4h0.65M105.6 392.5h0.65M105.2 392.1h0.65M99.6 395.7h0.65M90.0 398.5h0.65M95.5 384.9h0.65M92.7 393.2h0.65M92.7 392.7h0.65M93.6 386.3h0.65M103.7 395.6h0.65M99.6 394.7h0.65M98.4 394.9h0.65M91.0 390.6h0.65M98.5 400.2h0.65M99.5 402.6h0.65M89.3 396.1h0.65M94.1 401.8h0.65M108.8 392.3h0.65M102.7 394.4h0.65M91.6 396.4h0.65M91.3 403.5h0.65M101.8 400.5h0.65M100.3 385.5h0.65M103.1 395.7h0.65M82.8 398.6h0.65M104.5 402.3h0.65M91.5 400.2h0.65M100.1 395.0h0.65M96.2 398.5h0.65M101.7 398.3h0.65M95.4 390.8h0.65M106.4 400.3h0.65M94.4 396.4h0.65M103.2 387.9h0.65M101.2 405.8h0.65M99.7 392.8h0.65M111.1 394.2h0.65M99.4 394.0h0.65M99.2 388.3h0.65M89.8 390.9h0.65M103.8 394.8h0.65M105.4 386.4h0.65M94.2 402.7h0.65M92.9 388.8h0.65M93.2 395.2h0.65M97.9 401.5h0.65M106.5 401.4h0.65M101.7 393.4h0.65M94.8 390.2h0.65M106.1 400.2h0.65M98.6 392.2h0.65M102.3 397.5h0.65M99.0 391.0h0.65M99.5 393.4h0.65M102.7 397.9h0.65M100.8 393.8h0.65M107.7 397.9h0.65M106.1 398.4h0.65M102.2 397.1h0.65M91.2 389.3h0.65M92.0 399.4h0.65M103.8 396.0h0.65M90.7 390.2h0.65M77.8 382.9h0.65M95.5 386.5h0.65M88.3 386.7h0.65M89.6 381.6h0.65M87.0 386.5h0.65M97.5 380.2h0.65M82.2 384.4h0.65M106.7 380.1h0.65M80.2 385.4h0.65M94.0 382.0h0.65M89.8 385.6h0.65M76.3 383.9h0.65M94.7 387.1h0.65M99.1 383.8h0.65M78.7 388.5h0.65M96.1 381.9h0.65M98.1 387.5h0.65M86.3 381.5h0.65M83.4 383.7h0.65M81.5 385.3h0.65M104.8 380.0h0.65M98.2 382.2h0.65M94.3 383.6h0.65M100.1 381.6h0.65M95.7 381.4h0.65M91.8 384.0h0.65M98.5 378.7h0.65M79.4 388.7h0.65M93.0 389.7h0.65M81.9 384.7h0.65M94.7 389.9h0.65M89.6 382.5h0.65M95.6 383.7h0.65M84.1 386.6h0.65M75.1 380.6h0.65M100.7 382.3h0.65M87.5 385.2h0.65M98.8 385.8h0.65M82.5 382.1h0.65M98.2 383.6h0.65M85.1 386.9h0.65M98.9 391.3h0.65M81.6 381.6h0.65M84.6 385.2h0.65M86.3 387.7h0.65M69.0 387.2h0.65M85.0 383.1h0.65M94.4 384.7h0.65M82.1 389.0h0.65M94.5 382.4h0.65M91.6 380.3h0.65M80.4 383.0h0.65M92.9 384.3h0.65M83.9 379.4h0.65M76.9 389.4h0.65M92.9 381.3h0.65M99.3 385.8h0.65M86.8 381.9h0.65M98.9 385.1h0.65M102.8 385.2h0.65M85.4 382.0h0.65M84.5 384.9h0.65M92.0 386.0h0.65M93.5 380.5h0.65M88.4 380.8h0.65M93.8 379.6h0.65M85.5 381.1h0.65M85.2 383.1h0.65M101.8 383.1h0.65M78.8 383.0h0.65M95.8 385.9h0.65M91.9 390.7h0.65M98.6 384.3h0.65M99.5 379.5h0.65M88.7 381.1h0.65M91.4 389.4h0.65M86.1 389.3h0.65M82.0 388.8h0.65M76.8 381.2h0.65M97.8 383.7h0.65M91.1 384.0h0.65M91.4 383.4h0.65M82.4 383.0h0.65M90.9 381.0h0.65M93.6 389.9h0.65M77.2 382.2h0.65M87.8 384.1h0.65M90.7 381.6h0.65M89.7 384.0h0.65M131.6 388.5h0.65M101.8 399.3h0.65M135.1 396.5h0.65M113.9 393.0h0.65M104.5 402.1h0.65M136.3 394.4h0.65M109.9 399.6h0.65M106.5 402.8h0.65M109.0 398.0h0.65M112.7 396.2h0.65M144.4 392.4h0.65M144.5 388.5h0.65M101.4 399.8h0.65M126.8 395.4h0.65M123.9 393.5h0.65M100.9 391.5h0.65M102.4 395.3h0.65M100.4 399.7h0.65M108.3 391.0h0.65M122.4 393.3h0.65M129.5 395.6h0.65M109.3 396.7h0.65M124.1 396.0h0.65M121.5 400.0h0.65M107.0 382.5h0.65M116.9 398.4h0.65M148.1 392.8h0.65M122.0 398.1h0.65M96.0 405.2h0.65M138.1 396.9h0.65M132.7 393.0h0.65M107.0 398.5h0.65M99.3 397.8h0.65M99.4 398.1h0.65M118.4 410.8h0.65M133.7 390.1h0.65M95.9 390.4h0.65M115.1 403.3h0.65M97.3 399.9h0.65M109.6 394.6h0.65M103.3 394.2h0.65M147.1 389.5h0.65M111.7 402.6h0.65M104.5 396.4h0.65M103.0 394.4h0.65M123.9 399.4h0.65M108.2 394.5h0.65M99.6 388.6h0.65M95.9 397.7h0.65M101.8 405.4h0.65M143.3 392.7h0.65M110.5 393.9h0.65M125.5 394.5h0.65M140.3 387.8h0.65M115.1 397.5h0.65M109.6 387.5h0.65M125.9 388.4h0.65M122.2 387.1h0.65M102.1 395.1h0.65M114.9 397.6h0.65M115.4 396.9h0.65M111.0 392.4h0.65M108.2 398.5h0.65M117.6 394.5h0.65M98.2 401.0h0.65M133.4 388.7h0.65M116.3 397.7h0.65M91.0 390.5h0.65M93.9 399.2h0.65M112.8 398.1h0.65M144.0 382.0h0.65M100.5 396.2h0.65M113.6 397.9h0.65M126.5 395.6h0.65M139.7 391.2h0.65M101.2 394.1h0.65M117.6 399.5h0.65M113.8 399.2h0.65M111.8 399.5h0.65M102.4 397.9h0.65M138.0 391.8h0.65M120.7 395.6h0.65M113.3 397.9h0.65M100.7 400.5h0.65M118.6 391.4h0.65M148.8 388.9h0.65M102.4 392.3h0.65M133.4 390.6h0.65M113.5 395.8h0.65M95.1 397.4h0.65M106.6 398.4h0.65M113.0 395.6h0.65M138.5 397.1h0.65M143.7 391.8h0.65M109.2 397.6h0.65M100.9 396.6h0.65M110.2 393.8h0.65M109.3 403.3h0.65M114.6 395.1h0.65M139.3 394.7h0.65M132.5 392.8h0.65M114.2 393.8h0.65M119.0 391.4h0.65M104.1 395.6h0.65M143.1 387.9h0.65M108.3 392.9h0.65M111.9 394.6h0.65M110.6 395.9h0.65M138.0 393.7h0.65M141.8 395.3h0.65M119.6 397.9h0.65M102.4 402.1h0.65M102.0 394.2h0.65M139.0 390.5h0.65M146.3 400.3h0.65M138.3 389.3h0.65M109.0 399.0h0.65M124.6 392.3h0.65M115.0 384.8h0.65M103.0 395.8h0.65M103.5 392.0h0.65M139.7 390.0h0.65M120.8 388.9h0.65M142.4 399.3h0.65M114.9 400.4h0.65M99.7 394.6h0.65M127.7 395.3h0.65M124.7 393.0h0.65M108.5 400.2h0.65M139.4 395.6h0.65M111.4 396.7h0.65M117.1 402.1h0.65M124.0 394.3h0.65M110.3 390.2h0.65M106.4 394.9h0.65M138.9 395.6h0.65M126.0 387.4h0.65M147.8 394.5h0.65M141.7 388.3h0.65M134.3 378.1h0.65M97.5 406.1h0.65M126.3 393.8h0.65M145.0 397.9h0.65M119.4 392.8h0.65M104.4 396.0h0.65M101.8 392.1h0.65M118.2 403.7h0.65M107.2 390.1h0.65M98.1 397.0h0.65M127.9 398.5h0.65M104.1 393.0h0.65M110.7 392.2h0.65M142.3 393.2h0.65M114.7 392.5h0.65M135.6 393.0h0.65M114.2 396.3h0.65M141.4 393.9h0.65M104.7 394.5h0.65M140.4 386.5h0.65M105.7 402.5h0.65M115.9 398.2h0.65M147.0 389.8h0.65M114.8 403.3h0.65M100.2 398.7h0.65M146.9 389.9h0.65M127.0 392.7h0.65M145.6 386.1h0.65M114.2 406.3h0.65M126.4 396.4h0.65M84.6 397.9h0.65M121.9 391.7h0.65M125.7 383.2h0.65M142.2 387.1h0.65M145.7 389.7h0.65M117.6 395.3h0.65M134.2 392.8h0.65M139.4 394.8h0.65M136.5 390.9h0.65M96.0 398.9h0.65M123.3 399.1h0.65M107.3 399.6h0.65M106.1 400.0h0.65M117.1 392.9h0.65M100.6 403.7h0.65M145.5 390.6h0.65M102.1 393.2h0.65M98.9 399.1h0.65M118.3 391.3h0.65M112.9 390.9h0.65M129.7 392.4h0.65M133.0 381.0h0.65M130.9 402.9h0.65M114.0 401.2h0.65M136.0 393.5h0.65M109.7 396.7h0.65M118.7 390.7h0.65M142.1 390.6h0.65M101.3 401.9h0.65M137.9 392.1h0.65M118.8 398.0h0.65M139.5 392.4h0.65M100.6 401.0h0.65M149.5 399.3h0.65M102.0 404.2h0.65M129.7 394.8h0.65M145.6 393.7h0.65M98.7 399.2h0.65M110.4 396.5h0.65M134.9 395.4h0.65M95.7 392.8h0.65M115.8 392.3h0.65M116.4 397.7h0.65M95.2 404.2h0.65M149.3 405.1h0.65M136.3 388.6h0.65M113.8 402.6h0.65M149.9 391.3h0.65M93.1 397.8h0.65M135.9 394.6h0.65M104.4 394.7h0.65M99.2 397.0h0.65M101.8 397.1h0.65M106.3 392.2h0.65M104.7 396.1h0.65M109.8 399.9h0.65M99.4 398.1h0.65M111.6 400.4h0.65M145.0 388.0h0.65M99.9 407.8h0.65M110.1 398.6h0.65M102.2 399.6h0.65M95.3 396.8h0.65M109.3 398.4h0.65M117.8 395.2h0.65M111.8 396.3h0.65M144.5 390.9h0.65M140.1 397.2h0.65M101.5 401.0h0.65M132.0 390.7h0.65M95.9 394.2h0.65M113.3 394.8h0.65M114.0 400.0h0.65M95.8 400.9h0.65M132.0 392.1h0.65M100.5 399.8h0.65M130.2 395.0h0.65M141.9 393.4h0.65M108.3 401.0h0.65M114.3 394.5h0.65M127.5 392.6h0.65M100.2 397.4h0.65M107.6 393.8h0.65M147.0 388.3h0.65M124.7 405.4h0.65M134.4 392.2h0.65M126.6 393.0h0.65M119.2 395.7h0.65M103.1 393.3h0.65M116.9 407.3h0.65M131.8 393.1h0.65M101.1 399.3h0.65M124.3 397.4h0.65M104.4 400.1h0.65M122.5 393.3h0.65M125.8 396.4h0.65M114.3 395.9h0.65M98.4 400.0h0.65M117.0 397.3h0.65M97.9 401.7h0.65M127.7 392.9h0.65M112.3 395.3h0.65M108.2 395.4h0.65M103.6 396.8h0.65M109.9 403.7h0.65M115.1 398.9h0.65M117.8 392.8h0.65M143.9 385.3h0.65M89.3 399.7h0.65M103.3 399.8h0.65M111.8 397.7h0.65M120.8 393.5h0.65M145.7 386.2h0.65M109.2 395.2h0.65M108.2 397.2h0.65M127.0 395.7h0.65M102.7 395.3h0.65M116.4 391.2h0.65M135.9 397.4h0.65M119.1 392.3h0.65M123.5 395.4h0.65M110.4 405.6h0.65M136.3 392.7h0.65M113.4 402.9h0.65M99.7 391.8h0.65M134.4 398.3h0.65M124.7 391.2h0.65M140.7 389.9h0.65M100.8 398.0h0.65M124.2 396.6h0.65M101.5 400.1h0.65M128.6 393.9h0.65M148.5 389.9h0.65M142.7 393.1h0.65M128.5 386.9h0.65M128.8 390.4h0.65M130.9 393.1h0.65M108.8 391.2h0.65M107.3 397.6h0.65M122.9 390.6h0.65M115.2 397.7h0.65M121.0 398.9h0.65M122.9 389.6h0.65M129.6 389.9h0.65M123.1 395.5h0.65M114.6 401.6h0.65M129.3 389.0h0.65M129.7 396.5h0.65M119.3 391.3h0.65M115.1 392.3h0.65M106.9 393.3h0.65M130.2 397.1h0.65M104.2 395.1h0.65M146.5 390.3h0.65M114.5 393.2h0.65M146.0 385.2h0.65M96.7 394.6h0.65M97.0 395.8h0.65M107.6 396.6h0.65M104.2 397.2h0.65M119.5 388.2h0.65M120.5 393.0h0.65M114.7 397.2h0.65M147.5 390.5h0.65M120.3 397.7h0.65M103.2 402.6h0.65M144.8 393.6h0.65M142.8 394.8h0.65M133.7 391.3h0.65M89.1 396.8h0.65M131.4 390.6h0.65M134.3 393.3h0.65M121.6 397.2h0.65M113.2 396.6h0.65M121.7 389.3h0.65M124.9 395.8h0.65M131.6 395.2h0.65M112.0 405.6h0.65M123.1 391.3h0.65M96.2 398.7h0.65M149.8 387.9h0.65M105.2 399.2h0.65M135.8 387.9h0.65M93.8 395.6h0.65M117.6 401.5h0.65M121.9 397.9h0.65M118.5 396.7h0.65M122.4 395.5h0.65M146.6 400.1h0.65M108.0 401.1h0.65M99.1 403.9h0.65M110.2 393.8h0.65M141.5 405.9h0.65M116.4 399.1h0.65M124.0 399.0h0.65M137.8 390.3h0.65M99.1 401.0h0.65M148.5 388.4h0.65M98.4 398.4h0.65M104.2 403.1h0.65M94.3 392.6h0.65M104.5 396.7h0.65M112.9 392.8h0.65M101.9 408.4h0.65M113.0 399.2h0.65M142.0 390.4h0.65M119.2 397.8h0.65M121.3 394.2h0.65M122.9 392.5h0.65M111.4 397.3h0.65M103.0 397.3h0.65M136.5 389.4h0.65M110.4 400.0h0.65M102.3 395.0h0.65M132.2 397.3h0.65M106.7 400.7h0.65M110.5 392.3h0.65M120.1 397.8h0.65M103.9 395.0h0.65M103.1 400.0h0.65M144.9 395.3h0.65M105.1 395.8h0.65M139.6 387.8h0.65M128.4 392.3h0.65M147.0 391.0h0.65M99.9 402.6h0.65M123.2 392.2h0.65M102.1 389.9h0.65M108.5 408.7h0.65M102.1 393.9h0.65M99.6 395.4h0.65M103.0 397.7h0.65M115.0 397.9h0.65M110.2 393.0h0.65M130.6 392.7h0.65M123.8 396.8h0.65M105.2 398.4h0.65M96.8 396.2h0.65M105.1 397.7h0.65M100.1 401.1h0.65M97.4 393.2h0.65M105.3 394.7h0.65M100.2 401.6h0.65M96.8 400.7h0.65M96.2 402.1h0.65M128.7 389.4h0.65M147.7 387.0h0.65M128.3 395.3h0.65M117.3 393.5h0.65M106.6 395.7h0.65M97.1 395.7h0.65M101.3 325.4h0.65M100.4 351.3h0.65M86.4 355.7h0.65M91.7 377.1h0.65M86.8 370.2h0.65M92.6 360.5h0.65M87.2 370.6h0.65M86.4 352.4h0.65M95.4 354.3h0.65M87.0 341.5h0.65M91.5 356.9h0.65M94.2 347.4h0.65M94.5 353.7h0.65M92.2 359.7h0.65M91.6 366.4h0.65M100.2 339.2h0.65M89.4 347.6h0.65M90.4 368.1h0.65M92.1 343.7h0.65M92.6 340.8h0.65M98.0 358.4h0.65M98.9 360.7h0.65M90.3 347.8h0.65M92.8 357.3h0.65M95.3 330.3h0.65M91.5 359.6h0.65M91.6 355.0h0.65M84.9 344.3h0.65M95.2 353.9h0.65M98.2 330.4h0.65M93.3 344.9h0.65M95.3 356.9h0.65M90.3 350.6h0.65M95.7 334.1h0.65M94.8 341.4h0.65M99.6 343.0h0.65M94.0 360.0h0.65M93.0 329.0h0.65M90.4 357.7h0.65M95.8 351.3h0.65M96.8 355.5h0.65M89.1 366.1h0.65M95.0 344.4h0.65M93.8 344.7h0.65M104.2 331.7h0.65M95.2 346.3h0.65M92.6 339.5h0.65M93.1 363.9h0.65M97.3 341.6h0.65M101.7 325.4h0.65M86.7 356.6h0.65M92.0 360.8h0.65M101.2 343.9h0.65M92.3 347.1h0.65M96.0 329.4h0.65M96.1 333.9h0.65M91.0 356.7h0.65M90.0 350.2h0.65M90.7 344.2h0.65M95.0 347.7h0.65M91.4 358.6h0.65M91.5 347.8h0.65M103.0 349.7h0.65M93.6 355.2h0.65M93.6 359.0h0.65M93.1 369.8h0.65M95.8 358.4h0.65M101.1 347.8h0.65M94.1 349.2h0.65M95.6 340.8h0.65M94.8 350.1h0.65M88.2 378.5h0.65M91.9 365.4h0.65M103.8 349.2h0.65M90.0 351.2h0.65M93.5 349.6h0.65M97.2 352.4h0.65M100.5 335.7h0.65M101.6 325.1h0.65M89.8 374.1h0.65M99.1 331.2h0.65M93.7 353.6h0.65M101.7 328.5h0.65M98.4 341.4h0.65M92.6 348.6h0.65M101.9 355.6h0.65M94.7 335.8h0.65M91.8 349.5h0.65M99.0 328.9h0.65M95.2 361.1h0.65M96.6 347.7h0.65M100.7 342.8h0.65M97.4 350.0h0.65M104.5 324.6h0.65M101.8 341.0h0.65M90.1 356.0h0.65M93.8 365.2h0.65M91.1 365.0h0.65M97.9 331.9h0.65M94.2 346.3h0.65M104.6 335.2h0.65M92.6 362.5h0.65M84.6 359.2h0.65M101.4 355.4h0.65M86.0 379.8h0.65M98.1 346.8h0.65M103.0 335.8h0.65M88.8 373.6h0.65M88.8 384.2h0.65M93.6 338.0h0.65M90.4 351.9h0.65M89.6 345.9h0.65M94.0 353.6h0.65M97.8 357.8h0.65M86.0 357.6h0.65M86.8 348.5h0.65M93.6 351.9h0.65M93.5 327.8h0.65M98.6 349.0h0.65M99.4 351.7h0.65M95.8 350.8h0.65M92.8 358.9h0.65M85.5 368.5h0.65M91.2 364.5h0.65M92.0 331.2h0.65M97.8 332.5h0.65M91.9 355.5h0.65M94.3 351.2h0.65M96.4 352.3h0.65M90.6 371.0h0.65M92.0 360.3h0.65M101.4 337.2h0.65M99.6 361.5h0.65M98.3 349.3h0.65M87.6 357.1h0.65M89.8 363.8h0.65M97.2 347.0h0.65M87.6 365.4h0.65M96.8 346.6h0.65M94.1 362.3h0.65M95.5 364.0h0.65M101.8 353.2h0.65M100.0 346.5h0.65M89.8 327.4h0.65M89.9 350.0h0.65M90.7 364.1h0.65M93.4 361.1h0.65M92.8 345.9h0.65M96.1 337.3h0.65M85.6 360.8h0.65M152.6 335.2h0.65M155.0 317.4h0.65M155.1 332.3h0.65M159.7 328.5h0.65M147.1 327.0h0.65M153.9 323.3h0.65M156.0 323.1h0.65M152.3 321.4h0.65M157.2 317.9h0.65M150.0 326.8h0.65M159.4 327.6h0.65M157.7 333.3h0.65M146.4 331.2h0.65M158.9 334.9h0.65M149.8 343.0h0.65M153.4 326.6h0.65M157.3 326.8h0.65M161.4 330.2h0.65M155.9 319.5h0.65M156.8 328.3h0.65M157.6 325.7h0.65M157.4 328.5h0.65M157.1 330.0h0.65M145.7 336.6h0.65M157.9 330.8h0.65M149.5 324.8h0.65M164.3 327.5h0.65M156.3 330.3h0.65M154.5 334.3h0.65M151.2 329.5h0.65M156.1 325.2h0.65M153.3 323.5h0.65M149.0 328.3h0.65M161.2 328.8h0.65M149.9 326.3h0.65M154.3 333.6h0.65M149.8 321.0h0.65M154.9 318.7h0.65M155.9 323.0h0.65M154.7 323.7h0.65M155.1 333.1h0.65M155.7 332.4h0.65M149.7 329.1h0.65M161.3 320.8h0.65M152.2 321.6h0.65M157.0 323.0h0.65M145.9 319.3h0.65M154.6 326.0h0.65M153.2 327.0h0.65M159.8 323.0h0.65M160.1 321.7h0.65M150.7 324.0h0.65M144.7 331.9h0.65M161.4 331.1h0.65M154.3 333.6h0.65M149.2 326.4h0.65M158.0 328.5h0.65M150.6 324.2h0.65M160.0 325.1h0.65M145.0 335.4h0.65M151.2 329.6h0.65M159.8 329.9h0.65M155.6 325.3h0.65M158.1 324.1h0.65M155.9 324.0h0.65M151.3 327.6h0.65M163.1 325.7h0.65M156.5 331.3h0.65M148.4 330.7h0.65M152.6 326.6h0.65M163.2 334.1h0.65M150.3 331.4h0.65M156.8 314.5h0.65M162.0 330.4h0.65M160.8 338.2h0.65M161.8 326.2h0.65M146.4 327.9h0.65M152.4 327.4h0.65M156.9 324.9h0.65M154.8 328.2h0.65M158.4 334.4h0.65M151.3 324.5h0.65M157.8 320.2h0.65M161.6 333.5h0.65M160.6 317.9h0.65M153.1 326.5h0.65M156.8 333.4h0.65M160.2 318.1h0.65M155.1 328.3h0.65M159.3 328.9h0.65M165.0 325.2h0.65M152.7 327.1h0.65M154.1 323.4h0.65M156.3 327.6h0.65M147.6 326.5h0.65M152.5 334.2h0.65M157.4 326.6h0.65M154.9 332.7h0.65M146.4 324.0h0.65M160.1 319.9h0.65M146.2 324.4h0.65M150.6 328.2h0.65M149.7 333.7h0.65M156.8 323.0h0.65M157.8 324.0h0.65M157.7 323.7h0.65M163.2 330.4h0.65M151.9 328.8h0.65M153.4 319.0h0.65M154.7 328.0h0.65M150.6 333.7h0.65M150.9 326.1h0.65M157.5 322.2h0.65M153.3 332.9h0.65M150.8 327.7h0.65M149.0 327.7h0.65M152.8 333.8h0.65M155.3 324.4h0.65M153.6 333.7h0.65M159.7 325.5h0.65M148.2 327.6h0.65M161.3 327.2h0.65M148.4 329.5h0.65M154.3 327.2h0.65M154.7 322.7h0.65M151.1 332.1h0.65M157.8 321.8h0.65M146.8 333.1h0.65M158.3 327.4h0.65M153.1 336.4h0.65M148.1 325.9h0.65M158.4 328.9h0.65M158.3 319.9h0.65M159.3 332.5h0.65M153.0 332.3h0.65M154.0 327.1h0.65M155.4 326.1h0.65M156.0 333.1h0.65M162.2 329.5h0.65M158.3 320.7h0.65M154.5 329.5h0.65M156.0 324.7h0.65M150.9 332.2h0.65M156.4 332.5h0.65M158.4 335.1h0.65M153.4 331.9h0.65M159.5 318.0h0.65M148.9 327.4h0.65M160.9 321.7h0.65M154.7 325.1h0.65M162.5 321.5h0.65M159.0 326.9h0.65M146.4 327.5h0.65M150.6 326.7h0.65M152.3 326.7h0.65M154.9 328.2h0.65M158.4 321.8h0.65M162.1 336.4h0.65M156.8 337.1h0.65M162.2 332.9h0.65M153.3 333.6h0.65M145.5 318.7h0.65M158.7 335.1h0.65M157.4 321.7h0.65M148.6 328.9h0.65M157.2 320.1h0.65M154.5 325.9h0.65M152.6 315.4h0.65M150.1 327.4h0.65M164.8 333.3h0.65M153.7 322.4h0.65M157.4 324.3h0.65M156.0 330.5h0.65M157.3 331.7h0.65M165.0 319.5h0.65M163.3 316.4h0.65M151.4 333.7h0.65M150.7 324.0h0.65M156.7 322.9h0.65M153.8 327.9h0.65M154.2 324.2h0.65M152.1 321.9h0.65M158.5 342.4h0.65M153.7 319.4h0.65M153.8 324.1h0.65M154.2 328.5h0.65M149.9 328.4h0.65M144.2 322.7h0.65M150.1 325.0h0.65M154.7 325.4h0.65M155.8 361.7h0.65M164.4 343.5h0.65M156.8 346.4h0.65M156.0 344.3h0.65M153.9 353.3h0.65M160.4 350.1h0.65M155.2 347.2h0.65M151.0 340.9h0.65M155.8 359.2h0.65M155.7 341.0h0.65M155.0 359.2h0.65M155.4 360.3h0.65M150.2 354.7h0.65M151.6 332.0h0.65M155.5 355.2h0.65M157.2 361.1h0.65M155.8 326.1h0.65M158.0 358.5h0.65M154.0 345.7h0.65M155.5 350.2h0.65M151.3 361.3h0.65M161.7 354.5h0.65M156.1 316.3h0.65M157.2 354.6h0.65M157.6 351.7h0.65M152.4 352.6h0.65M155.2 350.7h0.65M158.5 351.8h0.65M154.2 340.8h0.65M149.0 369.6h0.65M154.5 361.1h0.65M156.8 350.6h0.65M157.2 350.2h0.65M161.2 343.7h0.65M154.7 349.4h0.65M156.8 364.5h0.65M152.9 325.8h0.65M157.0 356.3h0.65M155.2 349.9h0.65M157.8 340.1h0.65M152.1 333.9h0.65M154.8 341.7h0.65M154.9 338.3h0.65M148.1 363.1h0.65M156.7 360.2h0.65M160.0 331.4h0.65M158.3 337.0h0.65M147.8 340.5h0.65M153.2 368.4h0.65M154.5 347.8h0.65M156.9 352.8h0.65M154.9 370.7h0.65M151.7 338.3h0.65M148.2 339.2h0.65M151.9 345.2h0.65M154.1 364.8h0.65M158.2 344.3h0.65M156.0 342.6h0.65M154.5 348.7h0.65M162.6 335.8h0.65M151.6 355.5h0.65M152.1 340.9h0.65M156.6 338.9h0.65M160.2 354.9h0.65M153.5 348.9h0.65M153.1 365.8h0.65M155.8 351.4h0.65M152.4 366.7h0.65M155.3 342.8h0.65M160.8 351.5h0.65M153.9 359.5h0.65M153.5 349.1h0.65M158.9 337.1h0.65M154.7 349.3h0.65M156.7 338.9h0.65M151.4 347.8h0.65M152.2 352.1h0.65M155.0 351.5h0.65M156.0 338.5h0.65M154.1 352.1h0.65M159.7 351.5h0.65M155.5 370.1h0.65M153.8 363.7h0.65M157.7 337.0h0.65M155.3 357.7h0.65M151.3 365.2h0.65M153.6 354.8h0.65M154.6 354.1h0.65M152.7 366.3h0.65M152.5 367.2h0.65M154.3 341.0h0.65M158.2 349.9h0.65M154.3 337.8h0.65M154.4 348.5h0.65M152.4 338.1h0.65M152.0 339.9h0.65M159.1 356.8h0.65M153.6 339.3h0.65M154.8 354.4h0.65M153.1 348.4h0.65M158.9 345.7h0.65M153.8 362.1h0.65M154.9 348.9h0.65M151.9 360.7h0.65M156.1 345.9h0.65M154.8 363.3h0.65M154.9 347.8h0.65M155.7 350.1h0.65M158.7 345.5h0.65M153.8 342.6h0.65M155.8 336.0h0.65M153.4 334.1h0.65M154.8 347.2h0.65M154.5 344.0h0.65M152.1 352.3h0.65M147.3 340.8h0.65M161.0 350.2h0.65M160.5 367.1h0.65M155.7 339.6h0.65M156.8 340.0h0.65M135.2 340.4h0.65M156.3 326.5h0.65M131.6 335.5h0.65M146.4 322.5h0.65M128.6 375.1h0.65M122.1 349.5h0.65M142.2 341.7h0.65M148.4 328.6h0.65M155.5 333.5h0.65M131.4 345.6h0.65M136.1 335.0h0.65M142.0 324.1h0.65M140.5 331.0h0.65M98.8 365.7h0.65M132.9 334.6h0.65M129.2 319.9h0.65M116.4 350.7h0.65M129.9 353.9h0.65M161.1 320.5h0.65M112.6 363.2h0.65M143.0 355.6h0.65M138.3 339.8h0.65M123.1 363.6h0.65M135.4 355.7h0.65M134.8 330.4h0.65M144.3 347.1h0.65M100.9 345.6h0.65M142.4 348.6h0.65M134.7 327.8h0.65M139.3 330.5h0.65M95.7 329.0h0.65M140.3 325.0h0.65M143.6 345.6h0.65M99.8 352.7h0.65M113.1 360.2h0.65M107.2 364.2h0.65M130.0 338.8h0.65M136.1 325.7h0.65M132.8 379.4h0.65M135.1 327.5h0.65M136.3 341.5h0.65M114.5 339.3h0.65M120.7 364.1h0.65M149.3 333.3h0.65M119.1 322.9h0.65M125.4 327.3h0.65M135.6 316.9h0.65M137.2 336.1h0.65M122.4 345.1h0.65M121.6 337.6h0.65M122.9 367.4h0.65M115.3 348.0h0.65M121.5 335.3h0.65M147.0 330.5h0.65M126.0 366.5h0.65M113.6 343.1h0.65M113.0 347.0h0.65M120.4 362.5h0.65M153.6 345.3h0.65M119.4 347.3h0.65M151.1 319.4h0.65M133.8 324.3h0.65M136.0 355.5h0.65M132.6 366.7h0.65M130.5 349.5h0.65M156.6 316.7h0.65M126.1 335.5h0.65M155.0 314.7h0.65M135.8 348.1h0.65M134.8 365.4h0.65M135.9 319.4h0.65M131.9 352.3h0.65M109.2 319.7h0.65M149.3 338.3h0.65M123.4 331.9h0.65M141.5 328.2h0.65M147.1 335.8h0.65M131.0 362.3h0.65M133.3 321.5h0.65M127.7 334.2h0.65M157.7 337.8h0.65M125.2 332.9h0.65M135.0 337.9h0.65M162.4 318.3h0.65M123.1 337.5h0.65M128.1 352.8h0.65M135.3 330.6h0.65M130.9 328.6h0.65M131.8 337.6h0.65M157.9 315.3h0.65M152.7 330.9h0.65M121.4 367.6h0.65M140.3 319.8h0.65M129.1 334.0h0.65M118.8 345.9h0.65M134.0 355.8h0.65M131.2 316.1h0.65M151.8 345.0h0.65M123.5 360.5h0.65M136.2 323.3h0.65M144.6 337.5h0.65M128.5 346.8h0.65M125.0 342.0h0.65M138.9 344.4h0.65M129.0 345.4h0.65M145.2 321.1h0.65M149.3 320.7h0.65M151.6 333.6h0.65M138.4 318.6h0.65M124.2 345.0h0.65M138.3 334.4h0.65M130.5 357.3h0.65M125.3 348.9h0.65M147.2 338.3h0.65M137.1 321.5h0.65M158.0 346.9h0.65M122.4 332.0h0.65M120.9 324.9h0.65M133.6 325.6h0.65M135.3 343.5h0.65M124.9 326.0h0.65M146.8 344.8h0.65M132.1 327.3h0.65M140.8 338.7h0.65M147.7 335.0h0.65M126.2 331.1h0.65M136.6 317.9h0.65M123.6 353.6h0.65M145.7 340.8h0.65M153.7 326.6h0.65M126.1 342.9h0.65M146.8 320.5h0.65M161.1 343.5h0.65M117.4 333.9h0.65M144.6 338.5h0.65M149.8 337.4h0.65M133.1 332.1h0.65M140.7 341.8h0.65M125.2 337.7h0.65M135.4 332.2h0.65M119.3 350.7h0.65M113.8 346.1h0.65M124.1 342.3h0.65M153.9 359.2h0.65M145.0 331.2h0.65M118.9 341.1h0.65M139.3 315.5h0.65M126.9 345.6h0.65M139.3 330.6h0.65M120.5 347.2h0.65M121.1 369.5h0.65M131.8 332.4h0.65M150.6 319.7h0.65M127.0 349.5h0.65M115.1 350.1h0.65M125.3 325.8h0.65M134.5 336.2h0.65M133.7 343.8h0.65M120.9 357.3h0.65M127.0 340.1h0.65M115.5 349.5h0.65M132.6 335.1h0.65M142.3 329.2h0.65M127.6 347.8h0.65M136.3 344.8h0.65M150.5 318.0h0.65M139.3 351.9h0.65M136.3 337.3h0.65M141.1 342.4h0.65M137.8 330.6h0.65" stroke="#000" stroke-width="0.65" stroke-opacity="0.8" fill="none"/>
<path d="M252.8 401.4h0.65M268.7 384.7h0.65M239.1 392.2h0.65M261.4 386.4h0.65M217.9 398.1h0.65M208.4 404.2h0.65M248.0 393.9h0.65M221.3 396.1h0.65M192.3 397.2h0.65M222.0 395.5h0.65M217.6 392.0h0.65M198.5 401.7h0.65M231.6 398.9h0.65M247.7 392.8h0.65M251.1 396.4h0.65M231.7 383.9h0.65M231.8 393.0h0.65M200.3 395.3h0.65M240.6 387.9h0.65M261.8 381.7h0.65M223.1 395.2h0.65M221.1 402.7h0.65M248.8 394.7h0.65M237.0 397.4h0.65M200.5 398.5h0.65M258.4 393.7h0.65M192.2 403.5h0.65M254.4 389.1h0.65M229.2 403.1h0.65M221.0 392.0h0.65M200.1 401.3h0.65M241.7 388.8h0.65M251.3 391.3h0.65M247.7 397.6h0.65M243.6 395.5h0.65M236.7 401.0h0.65M230.5 400.4h0.65M210.2 397.1h0.65M247.7 400.9h0.65M236.0 397.1h0.65M242.0 392.9h0.65M234.9 391.7h0.65M219.4 393.4h0.65M221.3 401.9h0.65M224.0 390.6h0.65M260.2 399.4h0.65M240.7 395.7h0.65M254.5 392.0h0.65M253.9 392.1h0.65M253.0 393.6h0.65M206.2 405.0h0.65M209.8 407.9h0.65M219.5 397.4h0.65M243.6 391.6h0.65M242.3 390.9h0.65M248.1 392.9h0.65M200.9 398.4h0.65M250.2 390.5h0.65M243.2 392.0h0.65M243.5 400.5h0.65M242.8 393.1h0.65M244.7 396.0h0.65M205.6 395.9h0.65M223.1 394.2h0.65M209.8 393.5h0.65M237.6 390.5h0.65M243.7 393.0h0.65M220.0 401.5h0.65M201.7 403.2h0.65M199.2 398.0h0.65M248.1 391.8h0.65M253.8 391.0h0.65M249.9 391.0h0.65M198.1 397.9h0.65M204.2 395.3h0.65M194.9 404.1h0.65M253.0 389.0h0.65M245.7 397.6h0.65M256.8 383.4h0.65M234.8 395.4h0.65M191.0 398.8h0.65M225.1 400.3h0.65M243.3 388.0h0.65M262.0 387.3h0.65M256.5 384.0h0.65M221.7 391.7h0.65M221.1 389.7h0.65M241.1 388.8h0.65M250.9 385.3h0.65M266.7 384.7h0.65M206.3 395.0h0.65M250.5 391.3h0.65M260.9 384.9h0.65M216.3 396.7h0.65M203.6 399.7h0.65M239.7 390.3h0.65M193.9 403.8h0.65M206.5 400.4h0.65M239.8 387.4h0.65M210.8 393.6h0.65M216.1 399.5h0.65M240.9 388.1h0.65M209.7 398.5h0.65M262.4 385.8h0.65M215.7 410.7h0.65M201.5 396.7h0.65M193.3 396.1h0.65M205.3 395.3h0.65M209.7 396.5h0.65M232.2 389.3h0.65M200.5 392.5h0.65M241.0 386.8h0.65M202.7 394.9h0.65M191.4 407.4h0.65M260.2 383.5h0.65M194.9 401.9h0.65M203.8 400.9h0.65M217.1 400.9h0.65M258.4 390.9h0.65M251.5 381.8h0.65M243.4 396.2h0.65M250.1 384.2h0.65M219.3 399.3h0.65M221.1 399.1h0.65M256.8 388.4h0.65M215.7 400.7h0.65M204.4 401.6h0.65M256.1 390.9h0.65M249.2 391.4h0.65M228.7 400.1h0.65M243.7 395.0h0.65M256.2 390.2h0.65M208.2 407.3h0.65M220.6 399.1h0.65M222.6 401.9h0.65M228.7 389.7h0.65M249.1 389.7h0.65M204.2 400.1h0.65M237.1 392.7h0.65M230.1 399.3h0.65M242.2 392.3h0.65M239.0 387.9h0.65M218.0 407.1h0.65M238.7 395.9h0.65M203.9 396.9h0.65M216.7 401.4h0.65M207.4 402.1h0.65M221.5 402.5h0.65M254.7 389.3h0.65M197.9 400.2h0.65M216.4 399.5h0.65M206.7 396.9h0.65M204.4 396.4h0.65M249.5 387.6h0.65M198.9 403.0h0.65M246.2 393.7h0.65M221.4 397.1h0.65M209.9 390.3h0.65M191.3 401.9h0.65M231.5 394.0h0.65M241.9 389.4h0.65M232.3 396.2h0.65M226.3 398.5h0.65M220.1 400.6h0.65M242.1 395.5h0.65M207.9 397.6h0.65M237.1 390.1h0.65M235.7 390.1h0.65M192.0 408.9h0.65M217.2 393.4h0.65M237.5 394.5h0.65M208.4 392.9h0.65M248.2 391.5h0.65M217.7 397.9h0.65M233.0 397.3h0.65M210.0 394.4h0.65M207.5 401.2h0.65M222.4 394.1h0.65M246.3 392.1h0.65M193.3 409.3h0.65M253.4 400.4h0.65M246.6 380.9h0.65M209.0 403.3h0.65M247.3 382.2h0.65M245.4 394.2h0.65M253.4 390.8h0.65M203.4 383.1h0.65M257.9 395.5h0.65M210.9 400.0h0.65M253.7 392.3h0.65M266.0 388.6h0.65M201.5 396.9h0.65M197.1 383.8h0.65M267.6 391.6h0.65M234.0 384.0h0.65M243.3 392.8h0.65M193.6 396.7h0.65M267.7 385.6h0.65M248.9 386.9h0.65M220.6 394.7h0.65M248.4 395.0h0.65M230.2 393.9h0.65M229.9 394.8h0.65M207.8 395.0h0.65M207.6 395.2h0.65M253.3 388.3h0.65M224.0 397.9h0.65M196.0 409.2h0.65M239.0 399.9h0.65M202.0 400.3h0.65M234.1 397.9h0.65M243.2 393.2h0.65M246.8 398.2h0.65M250.1 387.8h0.65M244.1 396.4h0.65M219.0 393.5h0.65M228.3 389.3h0.65M201.0 402.0h0.65M239.6 390.3h0.65M193.7 402.5h0.65M208.7 399.9h0.65M229.6 392.6h0.65M257.8 387.6h0.65M252.1 385.3h0.65M218.7 397.8h0.65M239.9 392.5h0.65M230.6 399.4h0.65M246.4 399.9h0.65M195.6 405.4h0.65M215.8 396.4h0.65M198.1 401.5h0.65M265.6 385.6h0.65M249.7 385.8h0.65M227.1 389.1h0.65M253.0 394.2h0.65M202.8 410.0h0.65M228.3 392.2h0.65M211.1 400.3h0.65M246.8 396.3h0.65M251.4 384.6h0.65M205.2 399.0h0.65M249.4 386.4h0.65M212.6 397.8h0.65M236.2 387.4h0.65M267.2 390.5h0.65M227.4 400.3h0.65M256.9 394.4h0.65M219.6 398.4h0.65M206.1 392.5h0.65M241.3 390.8h0.65M267.1 384.9h0.65M227.5 381.0h0.65M249.6 384.8h0.65M206.1 399.5h0.65M229.4 395.2h0.65M253.5 390.0h0.65M238.5 397.8h0.65M208.8 400.7h0.65M258.8 385.4h0.65M251.3 390.6h0.65M253.5 393.9h0.65M262.6 387.2h0.65M206.0 400.2h0.65M255.0 387.5h0.65M237.9 394.6h0.65M231.2 400.9h0.65M219.7 394.1h0.65M209.9 401.5h0.65M256.0 394.1h0.65M202.7 402.3h0.65M202.4 397.7h0.65M246.7 396.0h0.65M217.6 397.7h0.65M265.2 388.5h0.65M195.1 403.7h0.65M212.8 401.8h0.65M263.8 388.1h0.65M242.4 395.1h0.65M256.1 384.4h0.65M213.7 393.5h0.65M246.8 395.6h0.65M214.8 411.2h0.65M203.2 399.8h0.65M230.8 395.4h0.65M194.5 409.2h0.65M234.1 386.0h0.65M209.9 399.9h0.65M216.2 398.9h0.65M204.0 404.1h0.65M242.8 396.5h0.65M209.2 397.6h0.65M197.8 402.0h0.65M224.2 394.3h0.65M239.3 392.9h0.65M244.9 389.4h0.65M250.2 391.5h0.65M194.7 403.5h0.65M222.4 395.2h0.65M223.5 390.0h0.65M240.1 399.0h0.65M206.0 398.2h0.65M238.1 388.8h0.65M191.3 403.6h0.65M255.1 395.4h0.65M243.7 396.7h0.65M232.5 400.6h0.65M253.3 389.5h0.65M196.3 396.5h0.65M246.8 383.6h0.65M200.2 409.0h0.65M186.7 401.2h0.65M216.8 394.2h0.65M209.0 398.2h0.65M217.2 397.6h0.65M230.9 403.0h0.65M248.7 389.6h0.65M207.5 403.9h0.65M263.5 389.3h0.65M209.9 387.3h0.65M237.4 400.6h0.65M203.0 402.3h0.65M208.0 402.4h0.65M255.8 390.4h0.65M245.3 389.0h0.65M223.2 397.2h0.65M234.0 395.9h0.65M222.2 392.8h0.65M255.1 390.0h0.65M245.8 395.9h0.65M225.4 399.7h0.65M217.0 386.7h0.65M248.0 390.0h0.65M198.4 398.4h0.65M237.1 396.4h0.65M243.6 399.5h0.65M241.4 390.3h0.65M248.7 391.0h0.65M237.6 387.4h0.65M239.7 395.0h0.65M227.8 396.7h0.65M209.8 398.1h0.65M255.5 395.4h0.65M262.3 387.8h0.65M206.2 389.3h0.65M212.4 399.8h0.65M244.6 388.1h0.65M241.2 391.6h0.65M260.3 383.3h0.65M235.3 396.2h0.65M249.2 398.3h0.65M233.1 401.5h0.65M257.5 388.8h0.65M256.9 398.4h0.65M235.2 391.1h0.65M219.7 393.3h0.65M197.4 399.8h0.65M208.5 401.7h0.65M226.8 390.6h0.65M210.5 399.1h0.65M253.1 390.4h0.65M257.3 389.5h0.65M254.0 395.3h0.65M268.9 390.1h0.65M210.3 400.9h0.65M230.1 395.2h0.65M247.3 393.5h0.65M202.1 400.8h0.65M214.2 397.6h0.65M262.8 394.8h0.65M205.2 393.9h0.65M205.6 402.6h0.65M228.5 401.5h0.65M247.7 391.0h0.65M204.3 394.3h0.65M241.9 386.3h0.65M234.6 396.9h0.65M255.1 388.0h0.65M256.1 394.8h0.65M203.9 405.9h0.65M258.5 396.8h0.65M252.3 395.5h0.65M252.3 391.9h0.65M248.7 391.3h0.65M227.3 396.2h0.65M219.4 392.7h0.65M251.6 391.1h0.65M256.0 383.1h0.65M248.5 393.3h0.65M211.8 389.5h0.65M252.8 388.7h0.65M236.7 395.0h0.65M258.7 395.9h0.65M225.3 397.7h0.65M201.8 407.9h0.65M207.8 405.3h0.65M207.6 402.5h0.65M254.2 390.7h0.65M254.1 396.1h0.65M266.5 388.8h0.65M244.6 395.7h0.65M225.3 392.3h0.65M249.2 393.1h0.65M210.8 396.1h0.65M230.8 394.7h0.65M220.1 404.0h0.65M257.6 393.1h0.65M199.8 402.7h0.65M213.6 401.5h0.65M224.4 401.6h0.65M215.4 402.6h0.65M222.6 398.6h0.65M201.5 402.7h0.65M247.9 390.7h0.65M249.9 385.4h0.65M227.5 395.6h0.65M213.9 402.2h0.65M257.1 388.4h0.65M188.4 399.7h0.65M253.1 389.0h0.65M203.6 400.8h0.65M212.8 402.4h0.65M244.1 394.4h0.65M231.0 392.3h0.65M239.6 388.3h0.65M202.0 392.2h0.65M253.4 388.6h0.65M234.2 397.0h0.65M205.9 398.8h0.65M247.7 388.8h0.65M243.7 393.7h0.65M206.2 400.7h0.65M192.3 401.4h0.65M236.1 394.9h0.65M249.2 394.7h0.65M256.9 391.3h0.65M266.5 383.8h0.65M265.4 387.3h0.65M198.2 401.8h0.65M266.4 397.8h0.65M199.8 395.2h0.65M253.5 387.3h0.65M237.4 389.5h0.65M187.4 404.3h0.65M236.0 389.0h0.65M240.9 385.5h0.65M246.9 389.9h0.65M254.1 392.2h0.65M233.9 391.2h0.65M214.4 396.3h0.65M218.1 394.7h0.65M248.2 378.6h0.65M202.8 395.6h0.65M235.6 392.6h0.65M253.1 389.0h0.65M259.0 388.6h0.65M240.9 394.1h0.65M232.3 397.7h0.65M244.3 389.9h0.65M225.3 402.8h0.65M254.6 390.6h0.65M213.5 402.6h0.65M243.4 393.0h0.65M191.5 404.8h0.65M252.8 384.7h0.65M244.9 384.1h0.65M264.3 382.7h0.65M207.7 399.9h0.65M216.2 395.7h0.65M191.1 411.9h0.65M207.0 397.3h0.65M204.6 400.5h0.65M201.3 401.7h0.65M240.6 391.3h0.65M221.0 396.0h0.65M253.5 393.3h0.65M237.8 402.2h0.65M198.8 393.4h0.65M239.7 389.1h0.65M214.0 404.9h0.65M198.3 399.0h0.65M198.3 404.1h0.65M221.1 398.4h0.65M202.6 396.7h0.65M242.1 398.1h0.65M210.7 397.5h0.65M258.0 385.6h0.65M253.4 390.3h0.65M250.1 391.6h0.65M243.3 391.2h0.65M208.8 397.4h0.65M247.9 396.1h0.65M241.7 395.2h0.65M237.6 392.6h0.65M236.2 393.3h0.65M203.0 399.2h0.65M210.6 397.3h0.65M258.8 387.0h0.65M212.5 400.7h0.65M257.2 393.8h0.65M221.5 388.2h0.65M212.5 396.2h0.65M199.2 396.7h0.65M195.7 400.3h0.65M248.8 401.4h0.65M219.5 387.6h0.65M245.0 394.9h0.65M196.0 404.3h0.65M237.0 391.0h0.65M198.5 401.1h0.65M243.5 394.7h0.65M212.5 401.9h0.65M248.1 396.2h0.65M189.1 398.3h0.65M204.4 403.4h0.65M206.3 401.1h0.65M252.4 392.8h0.65M247.2 393.1h0.65M244.9 384.2h0.65M246.8 392.8h0.65M256.8 386.9h0.65M250.3 391.8h0.65M216.5 396.7h0.65M211.3 403.2h0.65M203.4 410.7h0.65M245.6 397.7h0.65M258.1 390.3h0.65M199.0 397.5h0.65M239.0 403.0h0.65M243.6 394.4h0.65M203.1 396.8h0.65M258.0 392.5h0.65M214.0 395.1h0.65M237.9 393.0h0.65M253.6 390.3h0.65M255.1 391.0h0.65M248.3 393.3h0.65M269.2 392.1h0.65M232.5 395.5h0.65M240.7 394.3h0.65M236.0 392.3h0.65M212.9 397.5h0.65M217.2 395.0h0.65M213.4 397.0h0.65M208.1 400.5h0.65M186.9 401.6h0.65M241.2 386.4h0.65M195.5 402.3h0.65M212.5 398.6h0.65M207.4 403.2h0.65M233.7 383.6h0.65M260.7 393.6h0.65M247.9 387.9h0.65M243.9 387.4h0.65M246.8 395.1h0.65M251.3 391.5h0.65M263.3 385.7h0.65M198.8 404.7h0.65M249.4 393.2h0.65M260.9 383.8h0.65M248.3 388.5h0.65M208.1 395.9h0.65M259.4 391.0h0.65M236.1 389.1h0.65M223.3 396.5h0.65M201.3 398.3h0.65M215.0 403.0h0.65M246.4 394.1h0.65M232.2 400.0h0.65M223.7 396.1h0.65M247.7 399.3h0.65M194.0 380.8h0.65M242.6 393.0h0.65M254.2 383.9h0.65M254.7 388.8h0.65M250.4 388.7h0.65M214.9 397.7h0.65M235.4 396.2h0.65M198.8 402.5h0.65M257.6 390.1h0.65M200.3 398.0h0.65M202.2 399.0h0.65M195.4 404.1h0.65M242.1 401.7h0.65M237.0 391.9h0.65M267.9 388.9h0.65M200.4 403.7h0.65M198.2 400.2h0.65M239.8 397.1h0.65M254.8 386.6h0.65M218.8 393.5h0.65M247.5 383.5h0.65M211.6 399.4h0.65M224.2 395.3h0.65M252.6 404.3h0.65M232.1 386.6h0.65M243.0 388.3h0.65M213.8 391.8h0.65M196.1 394.9h0.65M212.7 397.2h0.65M265.9 387.4h0.65M250.0 386.0h0.65M271.5 385.9h0.65M193.7 402.4h0.65M261.6 382.1h0.65M223.5 400.7h0.65M200.4 407.3h0.65M204.3 397.6h0.65M260.1 388.9h0.65M195.7 403.1h0.65M194.1 401.5h0.65M216.7 394.7h0.65M205.4 409.7h0.65M215.8 393.9h0.65M205.1 399.1h0.65M262.8 390.7h0.65M262.2 388.3h0.65M243.8 393.7h0.65M204.5 412.1h0.65M200.8 400.8h0.65M258.5 375.8h0.65M243.9 390.6h0.65M254.2 395.3h0.65M234.7 384.5h0.65M251.3 386.8h0.65M259.5 385.2h0.65M244.5 376.9h0.65M185.6 405.2h0.65M244.0 390.2h0.65M245.3 388.4h0.65M233.1 410.8h0.65M248.2 387.5h0.65M267.2 389.7h0.65M259.5 382.4h0.65M199.4 402.7h0.65M239.1 407.9h0.65M261.4 386.7h0.65M254.7 394.5h0.65M250.0 391.0h0.65M249.6 387.2h0.65M216.7 392.6h0.65M254.6 385.9h0.65M246.8 389.9h0.65M236.2 395.7h0.65M191.2 410.7h0.65M198.5 405.5h0.65M244.7 394.6h0.65M239.9 399.5h0.65M241.4 395.4h0.65M247.4 389.8h0.65M260.1 392.0h0.65M195.0 401.2h0.65M199.1 400.6h0.65M187.1 403.5h0.65M255.2 389.2h0.65M221.0 400.2h0.65M238.8 389.9h0.65M225.4 391.6h0.65M191.3 399.2h0.65M229.1 394.3h0.65M224.2 396.4h0.65M197.7 406.4h0.65M218.1 408.1h0.65M204.0 403.3h0.65M243.2 390.7h0.65M194.8 399.2h0.65M201.5 398.3h0.65M225.3 394.6h0.65M204.4 404.0h0.65M265.7 389.9h0.65M193.5 399.2h0.65M223.8 397.1h0.65M215.3 402.1h0.65M245.2 395.8h0.65M234.3 387.4h0.65M234.7 401.2h0.65M246.7 393.1h0.65M226.8 400.8h0.65M208.2 393.2h0.65M257.8 395.2h0.65M230.3 397.6h0.65M194.1 395.7h0.65M246.8 387.3h0.65M195.9 403.6h0.65M202.6 398.2h0.65M218.7 400.7h0.65M209.6 398.0h0.65M240.8 393.2h0.65M187.4 398.1h0.65M224.3 393.9h0.65M211.5 399.4h0.65M198.9 402.0h0.65M254.6 391.9h0.65M197.6 403.8h0.65M187.4 408.6h0.65M242.2 400.4h0.65M248.6 393.8h0.65M261.5 394.2h0.65M205.9 388.8h0.65M233.7 394.3h0.65M225.3 403.2h0.65M247.2 394.5h0.65M250.3 384.0h0.65M221.7 391.4h0.65M243.4 389.7h0.65M195.1 401.6h0.65M227.1 402.3h0.65M200.5 396.2h0.65M212.1 395.4h0.65M223.2 394.9h0.65M231.1 398.7h0.65M248.9 374.6h0.65M235.6 397.1h0.65M202.8 400.2h0.65M223.2 394.1h0.65M197.3 407.2h0.65M262.9 383.7h0.65M203.4 401.8h0.65M207.6 405.6h0.65M229.8 394.2h0.65M252.8 395.4h0.65M222.6 397.2h0.65M229.9 393.9h0.65M233.5 392.6h0.65M202.2 398.8h0.65M201.1 398.4h0.65M227.4 396.4h0.65M196.9 399.4h0.65M235.2 393.0h0.65M224.0 385.7h0.65M243.4 391.8h0.65M256.1 386.0h0.65M229.4 394.5h0.65M259.1 386.3h0.65M207.9 404.7h0.65M206.2 399.8h0.65M248.9 386.5h0.65M226.6 396.6h0.65M217.1 401.7h0.65M222.4 397.3h0.65M242.5 396.7h0.65M254.1 389.9h0.65M191.0 401.6h0.65M252.7 392.9h0.65M259.2 391.3h0.65M206.1 393.3h0.65M208.7 401.4h0.65M265.9 394.4h0.65M240.7 387.9h0.65M211.7 398.6h0.65M225.0 400.5h0.65M201.3 404.4h0.65M261.9 395.2h0.65M243.9 390.1h0.65M200.2 394.2h0.65M242.6 396.6h0.65M206.0 400.9h0.65M252.4 392.0h0.65M240.9 384.8h0.65M208.9 397.9h0.65M245.9 396.0h0.65M263.6 385.8h0.65M246.2 395.5h0.65M204.7 394.5h0.65M255.4 393.2h0.65M195.0 398.6h0.65M241.9 391.8h0.65M249.4 397.7h0.65M247.1 393.4h0.65M208.1 393.8h0.65M200.9 399.9h0.65M239.6 394.7h0.65M237.3 395.5h0.65M261.4 392.4h0.65M202.9 402.6h0.65M248.3 391.2h0.65M247.3 395.4h0.65M200.8 405.1h0.65M203.0 397.7h0.65M251.1 392.4h0.65M252.2 395.9h0.65M233.8 382.5h0.65M261.0 387.0h0.65M217.4 400.3h0.65M199.4 403.2h0.65M223.6 396.5h0.65M239.2 408.5h0.65M194.1 402.6h0.65M246.0 392.0h0.65M222.8 395.5h0.65M216.8 398.8h0.65M210.8 395.8h0.65M259.0 381.7h0.65M210.0 412.4h0.65M195.9 398.8h0.65M223.8 392.5h0.65M242.7 394.6h0.65M231.5 383.3h0.65M196.5 400.1h0.65M219.7 397.9h0.65M205.6 397.2h0.65M246.8 396.4h0.65M226.3 395.1h0.65M269.4 399.9h0.65M249.3 391.0h0.65M204.8 398.2h0.65M243.6 387.6h0.65M200.1 398.5h0.65M199.7 396.9h0.65M207.6 398.6h0.65M210.7 394.9h0.65M225.8 403.6h0.65M242.3 396.0h0.65M209.7 393.9h0.65M247.0 390.7h0.65M250.5 397.6h0.65M199.7 400.8h0.65M239.8 395.5h0.65M200.5 395.1h0.65M258.7 387.4h0.65M245.4 390.7h0.65M208.2 393.4h0.65M249.1 394.6h0.65M224.4 403.6h0.65M252.0 393.1h0.65M198.2 401.1h0.65M217.5 393.5h0.65M248.8 390.0h0.65M206.0 397.8h0.65M220.6 397.6h0.65M251.2 384.9h0.65M241.8 392.6h0.65M199.8 398.9h0.65M202.9 400.9h0.65M241.8 391.1h0.65M189.4 404.0h0.65M249.3 394.1h0.65M252.5 389.7h0.65M237.9 390.0h0.65M249.6 393.1h0.65M201.4 402.0h0.65M249.9 391.1h0.65M263.4 396.4h0.65M257.7 393.8h0.65M248.1 395.1h0.65M266.1 388.7h0.65M204.7 401.9h0.65M201.3 402.7h0.65M249.1 394.1h0.65M242.2 397.2h0.65M252.6 389.9h0.65M224.7 400.2h0.65M208.7 396.3h0.65M197.2 400.1h0.65M201.6 406.0h0.65M253.9 381.9h0.65M212.6 400.2h0.65M198.7 406.3h0.65M228.5 400.5h0.65M190.9 394.0h0.65M218.7 381.3h0.65M235.0 397.7h0.65M245.8 390.3h0.65M195.3 398.5h0.65M248.6 390.4h0.65M240.2 396.2h0.65M193.4 404.2h0.65M237.1 392.2h0.65M244.3 388.9h0.65M259.7 389.7h0.65M255.9 388.5h0.65M257.4 391.1h0.65M249.8 394.5h0.65M199.1 404.6h0.65M200.3 395.5h0.65M212.9 400.2h0.65M204.7 399.5h0.65M257.7 393.4h0.65M248.9 389.5h0.65M257.1 392.2h0.65M267.9 387.8h0.65M203.4 401.0h0.65M240.6 393.6h0.65M257.9 389.4h0.65M244.2 394.4h0.65M212.5 398.6h0.65M236.2 393.5h0.65M225.4 402.2h0.65M243.0 397.2h0.65M254.4 391.9h0.65M246.5 391.7h0.65M250.5 390.5h0.65M195.9 403.7h0.65M216.3 392.3h0.65M214.7 393.9h0.65M256.4 397.2h0.65M190.2 401.9h0.65M251.9 386.6h0.65M211.6 400.8h0.65M256.6 397.8h0.65M226.9 394.8h0.65M217.2 397.3h0.65M200.8 404.3h0.65M206.0 398.0h0.65M256.9 389.0h0.65M226.1 393.6h0.65M246.9 393.3h0.65M196.4 396.0h0.65M219.9 398.1h0.65M267.5 376.3h0.65M245.9 389.0h0.65M232.7 394.0h0.65M251.3 387.7h0.65M264.7 384.8h0.65M253.6 389.6h0.65M238.0 393.6h0.65M206.3 399.6h0.65M248.9 387.1h0.65M242.6 383.2h0.65M228.4 400.2h0.65M211.8 396.8h0.65M234.4 391.4h0.65M212.7 389.3h0.65M242.6 381.7h0.65M244.5 381.3h0.65M227.0 394.8h0.65M232.3 389.9h0.65M199.9 398.8h0.65M223.5 397.2h0.65M238.2 389.5h0.65M198.9 399.0h0.65M192.7 400.9h0.65M246.4 394.1h0.65M255.6 394.6h0.65M208.6 395.6h0.65M247.2 397.9h0.65M212.3 399.4h0.65M226.6 391.5h0.65M238.7 397.5h0.65M239.4 389.1h0.65M251.6 390.6h0.65M245.2 405.1h0.65M202.2 396.3h0.65M251.7 398.7h0.65M208.6 400.4h0.65M245.7 391.6h0.65M208.9 407.8h0.65M258.4 391.9h0.65M254.2 393.1h0.65M249.9 388.3h0.65M217.2 399.1h0.65M249.1 404.2h0.65M197.7 402.9h0.65M200.0 390.0h0.65M263.4 388.0h0.65M235.0 385.7h0.65M186.1 402.5h0.65M203.3 401.2h0.65M218.2 391.5h0.65M254.6 390.4h0.65M202.6 401.1h0.65M239.9 397.2h0.65M206.5 398.2h0.65M209.6 399.3h0.65M200.7 404.3h0.65M249.9 392.0h0.65M257.0 392.6h0.65M202.6 404.4h0.65M251.8 398.6h0.65M227.0 393.4h0.65M195.7 404.4h0.65M189.6 402.2h0.65M220.9 399.1h0.65M259.4 390.0h0.65M263.9 385.6h0.65M264.3 393.7h0.65M213.0 397.4h0.65M194.8 397.2h0.65M193.8 402.1h0.65M224.6 392.6h0.65M216.0 398.7h0.65M235.1 394.2h0.65M200.3 411.7h0.65M251.5 391.2h0.65M209.8 398.1h0.65M242.8 397.8h0.65M211.4 398.3h0.65M201.0 402.8h0.65M252.9 390.9h0.65M242.7 395.3h0.65M200.4 398.6h0.65M200.8 408.2h0.65M212.3 399.6h0.65M205.1 396.5h0.65M224.3 396.3h0.65M265.3 390.2h0.65M211.7 399.1h0.65M254.1 395.4h0.65M209.4 393.3h0.65M233.8 399.1h0.65M203.6 400.5h0.65M213.6 396.4h0.65M241.4 390.3h0.65M252.3 386.0h0.65M253.5 391.1h0.65M247.3 387.7h0.65M245.3 394.3h0.65M214.1 392.5h0.65M238.8 392.9h0.65M257.7 389.1h0.65M200.1 407.0h0.65M251.8 390.9h0.65M232.0 393.9h0.65M239.9 392.9h0.65M227.9 396.7h0.65M253.9 390.3h0.65M198.4 407.1h0.65M234.2 387.8h0.65M233.3 396.5h0.65M200.0 397.8h0.65M198.4 405.6h0.65M227.0 393.4h0.65M199.9 400.4h0.65M255.7 387.3h0.65M195.3 398.4h0.65M203.9 400.5h0.65M206.1 397.3h0.65M189.8 403.2h0.65M202.1 400.4h0.65M252.4 389.2h0.65M214.4 392.3h0.65M226.5 391.6h0.65M224.0 389.5h0.65M237.5 391.5h0.65M258.5 391.0h0.65M237.4 391.0h0.65M196.6 405.3h0.65M187.4 402.3h0.65M222.7 392.9h0.65M220.3 399.0h0.65M255.2 398.0h0.65M217.6 400.4h0.65M257.5 380.7h0.65M216.4 402.2h0.65M207.4 393.9h0.65M224.1 400.1h0.65M251.4 402.1h0.65M251.5 390.9h0.65M250.5 389.2h0.65M222.9 394.4h0.65M217.2 390.7h0.65M254.6 397.8h0.65M240.0 386.4h0.65M253.6 389.1h0.65M213.9 384.7h0.65M223.3 409.7h0.65M242.0 392.2h0.65M231.9 393.8h0.65M212.4 397.6h0.65M209.8 394.6h0.65M250.8 386.6h0.65M236.3 393.1h0.65M235.9 401.5h0.65M200.6 396.0h0.65M232.5 395.2h0.65M252.5 390.5h0.65M230.3 391.0h0.65M248.3 394.7h0.65M238.6 373.5h0.65M237.7 390.7h0.65M251.9 392.5h0.65M241.4 400.9h0.65M206.4 397.6h0.65M202.3 399.8h0.65M249.6 393.2h0.65M240.8 379.5h0.65M252.1 389.4h0.65M246.9 403.3h0.65M238.6 389.8h0.65M238.5 397.3h0.65M243.5 386.4h0.65M191.0 402.5h0.65M257.4 401.6h0.65M215.2 392.4h0.65M198.3 401.5h0.65M207.1 403.6h0.65M246.0 389.2h0.65M204.0 397.6h0.65M237.6 397.4h0.65M187.6 398.2h0.65M251.4 388.8h0.65M211.6 401.5h0.65M247.4 381.7h0.65M209.9 401.0h0.65M248.5 386.4h0.65M190.6 397.9h0.65M253.3 394.2h0.65M205.5 399.6h0.65M204.8 403.0h0.65M211.6 397.8h0.65M221.6 399.6h0.65M191.7 403.9h0.65M206.9 388.4h0.65M257.4 390.1h0.65M265.7 394.2h0.65M231.7 394.8h0.65M197.8 402.3h0.65M255.3 388.4h0.65M204.2 402.6h0.65M253.9 388.3h0.65M223.5 398.2h0.65M200.7 401.3h0.65M204.5 393.3h0.65M243.9 387.6h0.65M252.3 394.9h0.65M190.6 397.7h0.65M185.9 405.5h0.65M245.5 391.6h0.65M214.9 393.4h0.65M205.0 398.0h0.65M226.8 392.3h0.65M243.6 393.6h0.65M246.7 400.1h0.65M253.4 395.7h0.65M246.2 390.9h0.65M246.9 396.4h0.65M218.7 396.1h0.65M223.0 399.7h0.65M259.8 383.7h0.65M235.6 397.0h0.65M200.0 398.8h0.65M208.4 404.3h0.65M243.3 388.9h0.65M222.0 396.6h0.65M189.2 404.5h0.65M194.0 397.7h0.65M187.6 401.5h0.65M260.5 388.5h0.65M237.1 393.0h0.65M208.3 396.6h0.65M210.9 400.7h0.65M246.8 393.1h0.65M216.9 398.8h0.65M202.9 397.5h0.65M227.3 395.9h0.65M242.6 385.8h0.65M196.6 404.4h0.65M204.5 399.9h0.65M259.8 393.6h0.65M224.7 400.1h0.65M234.0 394.2h0.65M236.9 393.6h0.65M242.2 386.1h0.65M252.7 388.0h0.65M246.5 395.9h0.65M213.1 401.8h0.65M254.6 386.7h0.65M203.3 392.8h0.65M235.5 406.9h0.65M194.8 400.9h0.65M207.9 399.7h0.65M245.2 393.1h0.65M247.8 388.0h0.65M256.0 390.5h0.65M235.1 391.1h0.65M258.7 386.6h0.65M199.2 396.0h0.65M249.3 386.6h0.65M265.2 391.5h0.65M235.9 402.3h0.65M259.5 392.5h0.65M243.5 386.5h0.65M242.5 391.0h0.65M227.4 399.0h0.65M196.0 403.1h0.65M188.2 404.8h0.65M241.7 400.3h0.65M240.5 390.7h0.65M251.6 397.1h0.65M208.0 404.1h0.65M244.6 399.4h0.65M250.7 395.8h0.65M235.6 386.5h0.65M248.0 390.2h0.65M256.9 387.8h0.65M222.6 387.5h0.65M195.8 409.7h0.65M252.6 396.6h0.65M256.9 388.9h0.65M207.3 402.6h0.65M252.7 385.7h0.65M241.0 394.0h0.65M268.3 389.7h0.65M253.9 391.4h0.65M255.4 389.5h0.65M234.1 387.9h0.65M194.4 396.1h0.65M210.4 393.2h0.65M240.3 392.0h0.65M262.9 392.0h0.65M261.6 397.7h0.65M201.4 404.8h0.65M252.9 390.0h0.65M245.0 387.2h0.65M224.0 401.3h0.65M198.7 407.6h0.65M260.4 389.2h0.65M246.3 392.4h0.65M244.3 398.4h0.65M247.2 394.7h0.65M215.3 396.6h0.65M214.7 397.7h0.65M236.4 390.0h0.65M227.5 400.5h0.65M263.3 385.1h0.65M256.3 390.8h0.65M205.3 395.8h0.65M206.8 404.1h0.65M237.3 394.1h0.65M214.5 404.1h0.65M207.8 394.7h0.65M204.6 402.4h0.65M218.5 393.3h0.65M206.7 397.8h0.65M211.7 403.6h0.65M212.7 399.2h0.65M247.9 390.6h0.65M238.4 396.5h0.65M250.1 392.8h0.65M233.5 399.4h0.65M260.4 393.9h0.65M222.3 398.0h0.65M233.3 395.2h0.65M201.4 400.3h0.65M196.3 396.2h0.65M197.0 400.1h0.65M207.6 403.5h0.65M217.6 398.3h0.65M241.3 395.2h0.65M229.4 402.3h0.65M233.8 396.7h0.65M245.8 402.0h0.65M200.6 401.5h0.65M211.2 396.1h0.65M254.1 388.7h0.65M250.9 396.7h0.65M247.2 387.9h0.65M208.5 406.1h0.65M221.5 387.5h0.65M246.7 391.7h0.65M258.1 389.4h0.65M236.3 393.3h0.65M241.9 399.0h0.65M255.1 385.6h0.65M203.3 403.1h0.65M189.9 399.1h0.65M202.5 402.7h0.65M257.0 387.2h0.65M209.0 381.9h0.65M255.8 389.8h0.65M268.2 387.8h0.65M211.6 400.5h0.65M199.0 399.9h0.65M233.8 394.6h0.65M251.0 388.8h0.65M241.0 391.6h0.65M252.4 392.3h0.65M252.4 393.0h0.65M252.8 393.5h0.65M203.9 407.6h0.65M237.3 393.1h0.65M249.2 395.5h0.65M261.9 391.5h0.65M255.9 395.4h0.65M206.4 408.6h0.65M226.2 395.9h0.65M237.8 394.9h0.65M238.9 391.8h0.65M255.0 394.7h0.65M243.6 387.1h0.65M209.3 392.1h0.65M196.4 401.0h0.65M231.4 395.8h0.65M237.7 393.9h0.65M198.9 399.1h0.65M239.4 389.6h0.65M224.2 397.0h0.65M195.0 402.9h0.65M223.4 394.0h0.65M254.3 390.6h0.65M190.9 399.9h0.65M221.7 393.4h0.65M228.5 394.3h0.65M213.8 400.8h0.65M250.8 393.5h0.65M186.0 405.6h0.65M243.9 393.7h0.65M203.6 404.3h0.65M202.0 405.5h0.65M195.2 403.3h0.65M255.1 388.6h0.65M199.1 399.2h0.65M253.4 396.4h0.65M244.0 399.5h0.65M241.2 398.0h0.65M238.5 400.3h0.65M197.3 402.7h0.65M232.1 399.6h0.65M264.2 404.0h0.65M255.3 393.1h0.65M227.5 389.3h0.65M257.2 385.7h0.65M265.8 390.7h0.65M215.9 405.5h0.65M224.3 390.4h0.65M219.6 399.3h0.65M214.4 395.9h0.65M249.9 387.7h0.65M223.4 394.7h0.65M252.6 387.0h0.65M245.0 391.3h0.65M192.6 409.7h0.65M225.0 395.9h0.65M232.7 389.6h0.65M253.2 385.3h0.65M243.2 388.3h0.65M188.2 395.9h0.65M206.6 401.3h0.65M247.8 397.5h0.65M251.2 395.6h0.65M192.4 412.3h0.65M246.6 391.6h0.65M232.5 393.7h0.65M242.8 395.9h0.65M248.4 387.7h0.65M218.0 393.4h0.65M191.6 400.5h0.65M245.5 393.7h0.65M217.1 399.1h0.65M202.2 389.5h0.65M199.1 398.1h0.65M261.3 390.7h0.65M263.5 384.4h0.65M244.1 395.6h0.65M252.8 387.6h0.65M199.0 397.0h0.65M243.5 394.2h0.65M236.3 389.2h0.65M260.3 382.8h0.65M234.9 395.6h0.65M245.5 387.0h0.65M228.8 370.5h0.65M240.0 398.8h0.65M218.4 395.5h0.65M249.5 384.9h0.65M241.8 394.3h0.65M208.3 401.5h0.65M213.0 394.4h0.65M205.7 392.8h0.65M267.3 389.7h0.65M226.0 391.9h0.65M237.0 385.8h0.65M199.6 407.8h0.65M250.4 392.7h0.65M266.3 390.2h0.65M239.6 393.1h0.65M209.2 401.3h0.65M243.4 393.1h0.65M204.6 398.2h0.65M233.6 391.4h0.65M250.1 387.0h0.65M259.3 388.6h0.65M204.0 394.0h0.65M227.1 403.8h0.65M194.9 405.2h0.65M233.0 398.4h0.65M233.8 388.2h0.65M206.7 408.1h0.65M239.7 386.6h0.65M201.2 402.1h0.65M233.8 398.9h0.65M249.4 399.2h0.65M253.9 391.6h0.65M208.8 396.7h0.65M242.7 394.7h0.65M249.1 395.2h0.65M248.6 392.6h0.65M247.3 397.2h0.65M212.2 404.0h0.65M244.5 390.8h0.65M227.0 402.4h0.65M215.1 409.8h0.65M242.6 385.8h0.65M221.3 397.7h0.65M262.4 384.9h0.65M234.2 399.1h0.65M201.9 396.3h0.65M221.0 389.6h0.65M234.0 395.1h0.65M228.6 395.9h0.65M210.0 395.2h0.65M246.4 396.6h0.65M234.3 394.6h0.65M207.2 403.2h0.65M189.3 410.0h0.65M254.8 389.4h0.65M252.1 392.6h0.65M210.0 400.8h0.65M204.7 397.1h0.65M231.1 403.9h0.65M263.8 389.1h0.65M251.1 392.6h0.65M249.1 385.9h0.65M209.9 401.0h0.65M250.5 392.9h0.65M268.3 383.7h0.65M228.8 391.2h0.65M233.9 401.9h0.65M262.1 389.7h0.65M198.5 401.8h0.65M242.6 392.0h0.65M254.0 385.5h0.65M224.6 406.5h0.65M203.7 402.0h0.65M239.3 393.3h0.65M248.6 392.8h0.65M249.5 395.6h0.65M220.1 394.4h0.65M244.1 388.6h0.65M223.8 392.6h0.65M205.5 399.3h0.65M194.4 398.9h0.65M202.8 404.7h0.65M202.5 393.3h0.65M199.2 404.1h0.65M257.3 389.1h0.65M258.1 391.3h0.65M192.0 401.8h0.65M217.7 394.3h0.65M252.1 391.8h0.65M188.9 404.3h0.65M187.1 401.8h0.65M203.9 398.4h0.65M213.9 396.2h0.65M247.2 385.0h0.65M252.5 388.2h0.65M216.0 393.0h0.65M223.1 401.7h0.65M203.5 406.0h0.65M215.5 399.0h0.65M264.6 392.8h0.65M234.4 391.2h0.65M224.8 386.6h0.65M222.2 399.6h0.65M213.5 402.1h0.65M252.4 390.5h0.65M205.4 398.1h0.65M236.7 399.0h0.65M257.7 389.3h0.65M200.4 400.5h0.65M193.9 402.8h0.65M246.2 395.1h0.65M251.8 394.4h0.65M247.7 397.4h0.65M234.7 391.7h0.65M206.1 405.8h0.65M259.8 386.8h0.65M214.5 402.0h0.65M227.8 397.3h0.65M206.3 397.3h0.65M229.8 395.7h0.65M222.1 395.2h0.65M204.5 397.4h0.65M236.8 396.0h0.65M270.0 386.7h0.65M205.8 400.6h0.65M235.8 394.0h0.65M203.2 392.2h0.65M210.0 395.0h0.65M227.8 402.0h0.65M257.2 405.6h0.65M223.2 399.4h0.65M244.2 389.6h0.65M240.7 392.9h0.65M230.3 391.6h0.65M211.4 399.5h0.65M259.0 388.1h0.65M255.9 396.0h0.65M201.8 392.9h0.65M253.5 389.8h0.65M232.7 398.5h0.65M226.9 387.6h0.65M199.8 404.8h0.65M202.1 402.6h0.65M226.9 392.2h0.65M250.1 391.9h0.65M236.9 399.7h0.65M258.9 387.5h0.65M203.9 399.1h0.65M206.0 401.4h0.65M204.8 393.1h0.65M211.8 402.9h0.65M231.2 389.8h0.65M255.7 394.0h0.65M242.3 392.5h0.65M255.7 393.8h0.65M209.0 406.9h0.65M203.6 395.2h0.65M220.2 396.4h0.65M238.1 390.1h0.65M240.2 393.7h0.65M208.9 396.2h0.65M200.6 401.9h0.65M218.2 394.3h0.65M236.2 394.9h0.65M240.8 387.8h0.65M247.7 396.7h0.65M225.5 402.4h0.65M232.6 400.9h0.65M244.7 393.1h0.65M198.1 399.6h0.65M243.1 391.1h0.65M229.8 391.7h0.65M195.3 393.2h0.65M215.0 395.6h0.65M242.1 407.1h0.65M241.3 380.1h0.65M236.2 389.6h0.65M250.4 400.5h0.65M216.9 407.0h0.65M207.3 402.6h0.65M203.9 405.6h0.65M254.4 389.4h0.65M255.1 409.2h0.65M254.5 384.6h0.65M246.1 385.6h0.65M197.8 400.6h0.65M189.3 408.0h0.65M244.5 399.1h0.65M239.8 396.3h0.65M222.1 396.2h0.65M209.7 405.8h0.65M234.6 399.7h0.65M234.2 389.5h0.65M217.5 395.4h0.65M249.0 388.4h0.65M216.3 393.7h0.65M269.2 381.5h0.65M205.4 396.6h0.65M221.7 392.5h0.65M249.4 398.6h0.65M249.6 390.0h0.65M221.6 395.7h0.65M235.5 394.0h0.65M269.4 394.6h0.65M245.8 392.7h0.65M220.4 397.9h0.65M210.3 403.9h0.65M234.5 398.5h0.65M257.1 379.2h0.65M266.6 391.6h0.65M240.7 392.4h0.65M250.4 394.1h0.65M222.1 397.1h0.65M253.6 391.6h0.65M216.6 395.8h0.65M220.4 392.1h0.65M202.5 390.5h0.65M204.0 398.8h0.65M201.0 399.3h0.65M219.2 403.6h0.65M248.5 395.9h0.65M192.6 398.4h0.65M197.2 397.7h0.65M207.3 396.4h0.65M206.2 403.0h0.65M214.6 401.4h0.65M255.5 387.6h0.65M225.2 399.8h0.65M200.4 402.0h0.65M195.0 401.6h0.65M229.2 395.2h0.65M230.4 398.3h0.65M243.9 389.3h0.65M258.3 396.1h0.65M249.9 388.1h0.65M240.6 387.7h0.65M249.1 391.2h0.65M210.4 398.5h0.65M271.2 392.4h0.65M197.8 402.7h0.65M214.9 395.7h0.65M213.8 399.5h0.65M193.5 400.7h0.65M259.7 382.7h0.65M249.1 389.6h0.65M230.6 397.1h0.65M214.6 397.1h0.65M248.6 397.8h0.65M212.1 395.7h0.65M244.7 390.9h0.65M250.0 390.0h0.65M238.3 390.3h0.65M245.4 393.4h0.65M223.4 400.8h0.65M211.0 396.7h0.65M206.9 402.8h0.65M246.7 394.1h0.65M209.1 401.1h0.65M257.1 388.3h0.65M260.2 383.7h0.65M203.0 397.6h0.65M200.1 390.2h0.65M252.1 394.0h0.65M228.1 392.7h0.65M197.9 393.2h0.65M192.7 399.5h0.65M206.4 397.5h0.65M209.6 396.8h0.65M255.5 392.2h0.65M206.9 401.7h0.65M206.3 402.1h0.65M261.4 393.3h0.65M205.9 399.6h0.65M241.8 396.1h0.65M218.1 393.1h0.65M208.2 401.2h0.65M250.9 389.2h0.65M219.4 399.3h0.65M267.3 392.3h0.65M208.5 396.8h0.65M197.5 397.4h0.65M251.0 393.1h0.65M248.8 382.3h0.65M263.3 382.3h0.65M234.4 400.0h0.65M203.2 396.2h0.65M196.7 397.4h0.65M197.6 403.3h0.65M235.0 397.6h0.65M226.1 397.6h0.65M259.3 388.0h0.65M252.8 386.1h0.65M225.2 405.0h0.65M256.9 388.3h0.65M197.3 402.1h0.65M234.4 390.0h0.65M201.5 399.7h0.65M254.5 388.3h0.65M246.6 398.0h0.65M231.1 397.7h0.65M257.0 387.6h0.65M248.5 398.4h0.65M201.5 400.5h0.65M236.0 389.4h0.65M243.0 392.4h0.65M243.5 398.5h0.65M254.6 385.4h0.65M242.6 389.2h0.65M206.3 401.0h0.65M234.2 397.4h0.65M233.7 398.4h0.65M234.2 401.2h0.65M220.6 390.5h0.65M256.1 393.8h0.65M198.1 393.3h0.65M208.8 395.6h0.65M246.9 396.9h0.65M204.7 390.8h0.65M200.7 401.5h0.65M205.2 412.3h0.65M222.4 396.9h0.65M205.7 403.7h0.65M213.5 392.4h0.65M246.9 389.1h0.65M244.3 392.9h0.65M252.4 387.2h0.65M239.8 392.1h0.65M253.6 390.8h0.65M222.9 392.2h0.65M213.6 385.1h0.65M226.7 400.1h0.65M190.1 405.8h0.65M258.9 388.7h0.65M241.8 394.6h0.65M202.8 401.3h0.65M228.9 396.0h0.65M192.6 399.4h0.65M249.1 380.7h0.65M223.3 393.1h0.65M201.8 397.9h0.65M255.1 376.9h0.65M246.6 399.1h0.65M250.9 390.8h0.65M246.0 389.6h0.65M257.2 386.8h0.65M252.2 394.2h0.65M207.8 394.7h0.65M250.6 391.3h0.65M244.5 395.5h0.65M252.2 387.1h0.65M250.4 402.3h0.65M228.1 399.1h0.65M259.6 388.9h0.65M257.0 389.8h0.65M248.1 395.2h0.65M197.8 400.4h0.65M200.0 399.5h0.65M194.5 394.2h0.65M245.6 392.1h0.65M224.4 407.2h0.65M197.9 399.6h0.65M217.3 398.2h0.65M230.0 388.1h0.65M238.3 392.4h0.65M220.6 391.0h0.65M230.2 394.4h0.65M252.8 391.5h0.65M205.8 404.3h0.65M202.0 400.0h0.65M260.2 393.0h0.65M194.9 409.3h0.65M256.8 380.1h0.65M194.2 394.7h0.65M215.4 394.9h0.65M233.2 389.9h0.65M265.1 388.3h0.65M199.6 404.8h0.65M207.0 391.6h0.65M205.3 398.1h0.65M205.3 401.4h0.65M249.2 394.7h0.65M254.4 393.0h0.65M209.9 395.2h0.65M238.6 403.2h0.65M235.7 398.1h0.65M205.0 400.2h0.65M249.4 401.1h0.65M225.4 396.9h0.65M246.9 395.9h0.65M240.1 404.0h0.65M217.5 397.0h0.65M249.8 393.1h0.65M244.3 389.0h0.65M189.5 402.6h0.65M243.3 394.6h0.65M240.0 376.7h0.65M257.6 389.3h0.65M209.4 407.1h0.65M199.2 393.8h0.65M240.4 396.0h0.65M228.3 394.9h0.65M254.2 387.9h0.65M237.1 398.1h0.65M197.0 403.0h0.65M193.2 399.0h0.65M242.9 390.4h0.65M226.3 399.3h0.65M206.3 407.7h0.65M192.8 404.6h0.65M258.7 382.6h0.65M234.2 394.1h0.65M251.4 391.5h0.65M232.9 401.6h0.65M248.9 392.0h0.65M249.5 395.6h0.65M251.8 392.7h0.65M249.3 385.2h0.65M203.4 396.9h0.65M245.2 393.0h0.65M251.3 392.3h0.65M250.2 382.2h0.65M253.3 392.4h0.65M202.2 395.0h0.65M225.1 401.8h0.65M204.3 399.2h0.65M235.7 392.3h0.65M224.4 392.1h0.65M263.2 385.0h0.65M229.4 393.7h0.65M220.3 398.7h0.65M249.7 391.7h0.65M241.8 385.8h0.65M222.9 398.5h0.65M233.5 393.7h0.65M224.1 399.3h0.65M242.4 399.3h0.65M216.4 407.1h0.65M239.7 392.9h0.65M201.2 402.3h0.65M237.8 399.3h0.65M242.3 389.4h0.65M208.6 400.9h0.65M243.4 379.1h0.65M245.0 389.3h0.65M194.3 405.4h0.65M213.6 395.7h0.65M209.4 400.2h0.65M244.5 391.7h0.65M226.5 393.9h0.65M229.5 393.3h0.65M202.6 400.5h0.65M210.1 394.6h0.65M185.4 404.4h0.65M270.1 385.7h0.65M261.0 384.2h0.65M212.5 405.4h0.65M252.4 394.2h0.65M231.5 401.7h0.65M246.6 390.8h0.65M230.0 397.5h0.65M192.4 397.2h0.65M258.1 382.6h0.65M204.7 397.1h0.65M203.9 395.6h0.65M244.0 406.7h0.65M244.6 393.7h0.65M188.1 401.5h0.65M199.0 410.4h0.65M255.3 389.2h0.65M223.5 401.4h0.65M255.1 392.1h0.65M221.2 391.3h0.65M245.3 395.1h0.65M207.6 402.1h0.65M192.5 405.2h0.65M231.4 390.3h0.65M251.0 389.6h0.65M220.4 397.5h0.65M214.2 392.7h0.65M203.2 403.9h0.65M201.4 404.7h0.65M202.6 400.4h0.65M206.0 396.0h0.65M253.2 399.6h0.65M197.5 397.8h0.65M238.0 393.1h0.65M233.3 389.8h0.65M249.3 392.5h0.65M237.2 390.2h0.65M216.3 403.1h0.65M210.7 402.3h0.65M237.2 393.1h0.65M219.1 399.9h0.65M261.1 391.5h0.65M200.9 399.6h0.65M265.3 387.7h0.65M238.5 390.6h0.65M243.5 387.5h0.65M230.1 404.0h0.65M254.7 393.8h0.65M208.4 395.1h0.65M231.8 388.8h0.65M247.7 393.8h0.65M206.8 391.5h0.65M214.3 400.4h0.65M250.0 395.6h0.65M255.1 410.3h0.65M262.8 397.9h0.65M201.2 407.3h0.65M257.5 384.6h0.65M263.5 385.0h0.65M247.5 392.3h0.65M251.0 381.4h0.65M209.6 397.4h0.65M224.1 397.1h0.65M224.8 394.4h0.65M231.4 393.0h0.65M212.2 401.3h0.65M247.5 393.6h0.65M195.3 398.9h0.65M205.6 404.9h0.65M219.9 404.4h0.65M242.6 400.5h0.65M216.9 398.9h0.65M257.5 383.2h0.65M207.2 397.9h0.65M242.6 385.5h0.65M218.9 405.7h0.65M197.2 395.7h0.65M207.1 397.6h0.65M238.9 402.8h0.65M254.7 389.3h0.65M217.0 399.5h0.65M210.8 395.4h0.65M199.6 400.9h0.65M197.5 400.7h0.65M231.9 385.5h0.65M234.8 399.1h0.65M252.2 387.6h0.65M244.9 395.0h0.65M215.4 395.2h0.65M268.5 391.3h0.65M213.3 394.5h0.65M252.2 394.5h0.65M258.9 388.3h0.65M199.7 399.1h0.65M214.7 397.3h0.65M232.9 392.6h0.65M249.6 387.5h0.65M224.6 397.2h0.65M251.0 388.8h0.65M229.5 405.8h0.65M206.8 395.1h0.65M226.6 401.0h0.65M213.6 395.1h0.65M250.8 391.4h0.65M242.4 401.2h0.65M199.0 385.5h0.65M256.7 389.6h0.65M267.1 375.3h0.65M221.5 395.9h0.65M213.0 401.1h0.65M195.8 400.0h0.65M251.9 391.5h0.65M232.7 390.5h0.65M199.0 403.0h0.65M208.1 395.3h0.65M224.2 397.0h0.65M247.0 387.0h0.65M236.7 393.0h0.65M188.1 398.8h0.65M244.2 391.3h0.65M239.0 396.4h0.65M206.0 402.3h0.65M249.0 385.0h0.65M196.7 400.0h0.65M216.6 402.0h0.65M243.2 393.8h0.65M248.5 384.8h0.65M216.4 397.5h0.65M201.9 400.5h0.65M234.3 401.1h0.65M267.1 385.1h0.65M266.1 389.1h0.65M252.4 394.2h0.65M220.5 400.8h0.65M197.3 412.3h0.65M230.5 390.0h0.65M222.9 407.9h0.65M206.7 397.3h0.65M240.2 405.3h0.65M200.1 400.4h0.65M248.5 390.4h0.65M267.9 382.4h0.65M259.0 393.4h0.65M219.3 400.2h0.65M268.6 388.4h0.65M258.9 387.1h0.65M199.2 403.9h0.65M250.0 396.4h0.65M233.3 398.8h0.65M234.8 385.4h0.65M200.7 402.8h0.65M217.6 397.5h0.65M247.5 386.3h0.65M199.5 399.4h0.65M246.3 386.8h0.65M263.8 375.9h0.65M208.8 400.7h0.65M238.5 387.8h0.65M230.0 398.0h0.65M258.7 396.0h0.65M251.6 388.3h0.65M233.3 392.4h0.65M200.2 405.6h0.65M250.2 390.3h0.65M256.5 396.5h0.65M208.8 397.0h0.65M251.5 395.3h0.65M190.0 406.1h0.65M239.4 385.6h0.65M211.9 397.9h0.65M254.2 390.8h0.65M259.1 381.4h0.65M187.7 404.2h0.65M228.8 391.0h0.65M200.7 396.9h0.65M199.4 401.9h0.65M235.1 394.3h0.65M197.4 399.5h0.65M227.0 399.9h0.65M210.0 399.7h0.65M240.3 391.1h0.65M199.4 401.3h0.65M248.4 398.9h0.65M199.4 406.1h0.65M217.5 385.6h0.65M237.0 393.7h0.65M263.1 382.5h0.65M248.3 390.0h0.65M258.8 393.3h0.65M191.2 393.2h0.65M253.0 389.2h0.65M204.4 407.8h0.65M246.8 393.0h0.65M226.8 403.7h0.65M260.8 393.5h0.65M207.6 399.9h0.65M256.3 392.0h0.65M230.9 404.2h0.65M216.5 393.4h0.65M205.7 398.1h0.65M189.0 409.1h0.65M259.2 388.5h0.65M238.8 393.0h0.65M235.3 396.9h0.65M203.2 399.2h0.65M252.8 372.5h0.65M203.6 407.1h0.65M232.1 397.8h0.65M221.4 397.4h0.65M265.4 381.7h0.65M246.3 391.6h0.65M228.1 392.7h0.65M243.8 395.1h0.65M234.5 399.8h0.65M190.9 401.2h0.65M213.6 402.7h0.65M236.4 399.3h0.65M186.2 406.9h0.65M235.7 382.5h0.65M198.2 402.2h0.65M249.4 391.4h0.65M256.1 390.2h0.65M241.4 400.3h0.65M230.2 394.1h0.65M254.6 399.8h0.65M208.0 400.5h0.65M202.6 402.7h0.65M250.8 388.8h0.65M247.1 391.4h0.65M238.7 394.7h0.65M253.0 371.9h0.65M250.4 397.1h0.65M255.0 381.7h0.65M239.5 381.2h0.65M255.5 392.8h0.65M264.1 385.6h0.65M233.8 401.0h0.65M199.4 400.1h0.65M223.6 394.0h0.65M207.4 402.4h0.65M203.5 400.8h0.65M248.1 390.2h0.65M221.0 385.4h0.65M223.2 390.3h0.65M241.2 394.9h0.65M236.4 392.2h0.65M257.2 386.6h0.65M218.8 403.9h0.65M265.4 382.2h0.65M239.6 384.5h0.65M204.8 397.3h0.65M193.7 403.3h0.65M212.6 397.3h0.65M241.2 400.7h0.65M197.7 395.5h0.65M193.6 402.5h0.65M236.6 393.1h0.65M232.4 392.4h0.65M215.2 401.3h0.65M201.2 407.3h0.65M236.6 394.2h0.65M249.9 396.5h0.65M246.3 394.3h0.65M197.8 392.6h0.65M208.8 398.8h0.65M242.9 392.3h0.65M208.6 396.3h0.65M203.4 398.3h0.65M215.6 395.2h0.65M219.3 393.2h0.65M211.2 391.5h0.65M252.4 395.2h0.65M207.9 396.5h0.65M248.6 395.2h0.65M205.4 396.8h0.65M202.2 399.9h0.65M239.6 392.7h0.65M221.0 401.3h0.65M251.9 389.7h0.65M207.0 398.7h0.65M205.1 390.6h0.65M217.2 393.5h0.65M260.3 386.1h0.65M203.0 397.5h0.65M245.9 387.4h0.65M250.4 388.0h0.65M248.5 390.9h0.65M224.1 390.5h0.65M232.9 393.1h0.65M233.2 392.1h0.65M252.9 381.5h0.65M265.7 388.9h0.65M253.5 397.3h0.65M244.3 393.5h0.65M205.4 396.8h0.65M249.9 390.9h0.65M193.0 405.4h0.65M200.3 403.5h0.65M224.5 402.9h0.65M201.7 401.4h0.65M195.8 398.0h0.65M205.0 401.0h0.65M216.1 401.1h0.65M229.0 402.8h0.65M203.2 404.4h0.65M269.5 383.0h0.65M227.7 394.3h0.65M223.9 386.6h0.65M245.1 394.9h0.65M259.0 401.8h0.65M209.5 395.4h0.65M256.8 390.0h0.65M226.6 398.4h0.65M257.3 392.9h0.65M233.4 392.9h0.65M204.3 403.5h0.65M251.2 397.4h0.65M233.0 399.9h0.65M200.1 398.9h0.65M247.5 391.8h0.65M242.6 395.9h0.65M197.3 401.0h0.65M247.4 391.1h0.65M237.1 393.5h0.65M203.3 404.4h0.65M194.1 403.9h0.65M186.9 399.7h0.65M233.2 393.3h0.65M205.4 404.3h0.65M257.7 391.4h0.65M259.9 394.2h0.65M257.8 388.4h0.65M230.5 389.1h0.65M227.4 397.1h0.65M206.0 396.1h0.65M206.3 393.6h0.65M189.1 396.8h0.65M264.1 401.0h0.65M253.1 394.0h0.65M206.7 397.7h0.65M192.9 401.2h0.65M259.8 392.5h0.65M246.0 391.5h0.65M227.5 393.6h0.65M256.7 386.6h0.65M200.3 402.8h0.65M242.2 390.5h0.65M250.0 391.8h0.65M213.4 406.7h0.65M256.0 389.0h0.65M244.2 400.6h0.65M243.5 389.3h0.65M250.7 383.8h0.65M228.7 399.3h0.65M245.3 394.7h0.65M196.5 401.9h0.65M206.1 397.0h0.65M208.9 402.0h0.65M231.9 391.5h0.65M192.6 398.3h0.65M259.1 388.1h0.65M206.3 397.1h0.65M251.8 389.3h0.65M214.6 397.4h0.65M208.0 396.6h0.65M210.2 405.8h0.65M226.0 395.7h0.65M223.2 398.3h0.65M203.8 400.2h0.65M251.7 387.8h0.65M230.1 395.2h0.65M259.6 392.1h0.65M242.3 391.5h0.65M204.5 401.0h0.65M200.3 405.6h0.65M248.1 380.1h0.65M254.8 387.5h0.65M244.0 386.8h0.65M197.4 399.0h0.65M208.5 399.5h0.65M268.2 392.0h0.65M244.5 394.0h0.65M226.2 397.3h0.65M250.6 394.8h0.65M247.5 403.4h0.65M202.3 393.4h0.65M197.4 403.3h0.65M198.4 398.3h0.65M209.6 397.6h0.65M206.0 400.5h0.65M222.9 398.1h0.65M258.3 389.1h0.65M251.3 395.8h0.65M208.3 401.8h0.65M247.0 393.1h0.65M256.7 389.4h0.65M257.6 390.8h0.65M212.8 401.1h0.65M195.0 406.4h0.65M195.9 398.7h0.65M234.9 393.5h0.65M197.8 406.3h0.65M237.4 388.0h0.65M203.3 396.2h0.65M207.4 402.1h0.65M243.7 395.7h0.65M244.4 385.9h0.65M262.3 386.8h0.65M246.1 389.3h0.65M246.6 388.9h0.65M216.0 395.2h0.65M219.7 403.7h0.65M253.0 390.3h0.65M216.7 398.2h0.65M235.9 397.0h0.65M233.1 397.7h0.65M198.7 393.1h0.65M240.4 386.3h0.65M256.8 387.8h0.65M199.6 401.1h0.65M203.7 398.8h0.65M258.5 392.4h0.65M250.1 388.8h0.65M245.5 390.2h0.65M249.1 389.2h0.65M188.6 402.8h0.65M250.4 394.5h0.65M233.5 392.6h0.65M254.7 389.7h0.65M203.0 407.5h0.65M225.9 395.9h0.65M226.7 402.4h0.65M229.9 391.5h0.65M227.1 390.0h0.65M190.9 401.0h0.65M234.8 388.3h0.65M227.4 391.9h0.65M191.3 402.5h0.65M196.5 395.7h0.65M227.5 398.4h0.65M230.9 400.7h0.65M231.9 392.8h0.65M220.1 391.7h0.65M255.8 387.4h0.65M206.5 397.4h0.65M256.2 390.9h0.65M262.4 386.8h0.65M212.5 396.7h0.65M229.5 396.5h0.65M255.9 394.3h0.65M238.0 394.5h0.65M233.9 388.7h0.65M194.4 399.7h0.65M187.2 401.3h0.65M254.6 395.6h0.65M218.3 406.7h0.65M242.2 389.2h0.65M235.4 395.8h0.65M263.9 388.2h0.65M231.3 394.1h0.65M252.9 395.2h0.65M194.4 402.6h0.65M210.4 397.2h0.65M247.4 397.2h0.65M256.5 397.9h0.65M204.6 395.4h0.65M215.3 392.5h0.65M221.4 395.6h0.65M248.0 395.3h0.65M248.9 394.7h0.65M225.8 397.9h0.65M244.4 388.4h0.65M195.8 396.6h0.65M258.3 393.7h0.65M250.9 394.3h0.65M245.5 391.1h0.65M206.4 406.4h0.65M229.4 396.1h0.65M233.6 405.0h0.65M246.7 394.1h0.65M226.2 403.8h0.65M201.7 396.3h0.65M239.2 391.9h0.65M205.5 398.6h0.65M222.1 400.3h0.65M265.6 387.9h0.65M206.0 398.5h0.65M215.7 400.3h0.65M229.4 399.3h0.65M205.3 395.0h0.65M226.0 392.7h0.65M230.7 396.5h0.65M205.6 400.4h0.65M253.1 395.0h0.65M242.1 397.0h0.65M210.7 398.7h0.65M234.3 398.5h0.65M257.3 398.5h0.65M232.4 399.3h0.65M257.9 388.0h0.65M224.6 390.1h0.65M206.3 396.6h0.65M254.1 391.1h0.65M248.4 390.2h0.65M202.1 397.4h0.65M251.9 393.4h0.65M209.2 398.9h0.65M255.8 391.2h0.65M207.8 402.1h0.65M234.6 395.2h0.65M196.6 403.6h0.65M203.9 397.0h0.65M256.6 389.7h0.65M191.9 402.6h0.65M248.3 393.1h0.65M210.4 389.5h0.65M240.8 384.2h0.65M223.2 395.4h0.65M215.2 397.4h0.65M208.8 396.1h0.65M226.9 408.4h0.65M265.8 391.9h0.65M199.0 403.4h0.65M207.4 395.0h0.65M196.6 398.4h0.65M201.5 397.9h0.65M201.5 405.3h0.65M247.3 399.1h0.65M251.0 388.1h0.65M232.6 397.6h0.65M246.9 391.5h0.65M219.0 399.3h0.65M248.1 384.9h0.65M264.1 390.1h0.65M259.7 391.4h0.65M257.2 391.8h0.65M199.6 399.4h0.65M226.1 398.4h0.65M210.5 400.3h0.65M193.5 398.5h0.65M235.7 398.6h0.65M226.6 377.8h0.65M262.5 393.2h0.65M193.4 404.0h0.65M262.7 389.6h0.65M214.2 397.8h0.65M253.9 388.1h0.65M238.4 385.4h0.65M216.2 398.4h0.65M213.9 396.6h0.65M198.8 400.0h0.65M259.3 394.1h0.65M250.1 389.5h0.65M232.0 395.4h0.65M239.2 393.6h0.65M200.3 392.8h0.65M233.0 397.1h0.65M264.5 395.3h0.65M244.2 390.5h0.65M201.6 377.6h0.65M218.6 394.3h0.65M253.9 389.5h0.65M243.9 397.0h0.65M208.7 393.9h0.65M251.5 395.1h0.65M228.9 399.9h0.65M187.4 403.4h0.65M236.8 400.1h0.65M196.4 402.4h0.65M259.0 394.3h0.65M251.0 382.5h0.65M231.5 393.9h0.65M208.5 397.8h0.65M260.3 394.1h0.65M265.0 387.3h0.65M191.8 404.1h0.65M216.4 398.4h0.65M236.2 401.3h0.65M247.6 390.9h0.65M200.1 402.6h0.65M212.7 395.4h0.65M227.5 394.9h0.65M221.8 396.9h0.65M215.3 398.4h0.65M186.3 406.4h0.65M254.7 384.7h0.65M195.2 404.9h0.65M251.1 389.8h0.65M210.7 399.5h0.65M256.3 396.9h0.65M256.8 388.3h0.65M226.5 395.8h0.65M195.1 404.5h0.65M245.5 391.1h0.65M233.3 397.6h0.65M236.5 390.9h0.65M232.8 402.0h0.65M260.7 395.1h0.65M203.5 400.3h0.65M248.1 387.6h0.65M219.5 392.0h0.65M249.9 389.4h0.65M229.5 389.8h0.65M195.7 405.4h0.65M244.1 387.7h0.65M194.2 411.5h0.65M217.1 402.5h0.65M242.9 395.0h0.65M254.7 392.5h0.65M198.9 388.9h0.65M217.8 402.7h0.65M239.5 396.4h0.65M244.7 389.4h0.65M202.7 396.6h0.65M259.2 391.8h0.65M211.5 393.4h0.65M251.6 388.8h0.65M242.8 400.0h0.65M237.8 397.6h0.65M212.1 402.3h0.65M201.2 395.6h0.65M234.5 390.0h0.65M203.5 403.8h0.65M214.8 399.5h0.65M226.4 394.3h0.65M239.1 394.1h0.65M251.9 392.1h0.65M192.2 399.6h0.65M256.4 388.6h0.65M268.9 387.0h0.65M249.0 394.6h0.65M232.6 391.3h0.65M197.6 408.8h0.65M250.6 390.0h0.65M208.9 396.1h0.65M251.9 402.7h0.65M251.9 392.3h0.65M193.0 405.4h0.65M249.3 394.3h0.65M261.6 393.1h0.65M237.6 388.6h0.65M247.9 387.5h0.65M242.7 397.3h0.65M217.6 388.9h0.65M256.2 382.1h0.65M213.7 397.5h0.65M206.5 401.3h0.65M231.9 389.6h0.65M239.9 397.8h0.65M263.2 384.8h0.65M234.0 394.1h0.65M236.2 395.4h0.65M234.6 404.5h0.65M198.9 399.3h0.65M242.3 400.6h0.65M234.0 394.3h0.65M239.6 393.6h0.65M232.2 396.9h0.65M213.7 395.4h0.65M228.0 394.1h0.65M256.9 388.2h0.65M207.5 397.2h0.65M215.8 398.0h0.65M249.5 394.7h0.65M229.7 395.6h0.65M246.8 386.5h0.65M258.4 393.1h0.65M260.7 392.6h0.65M227.4 395.1h0.65M211.1 399.5h0.65M195.5 399.1h0.65M220.1 394.5h0.65M221.4 395.6h0.65M188.5 404.4h0.65M251.3 388.4h0.65M248.2 388.3h0.65M260.8 391.5h0.65M199.6 393.8h0.65M226.0 395.6h0.65M204.9 405.6h0.65M214.9 401.1h0.65M247.1 387.8h0.65M258.6 386.0h0.65M250.4 389.3h0.65M188.5 400.3h0.65M215.6 401.5h0.65M244.0 385.4h0.65M244.0 390.1h0.65M245.9 389.0h0.65M223.8 393.0h0.65M242.6 389.2h0.65M250.3 396.3h0.65M205.0 401.2h0.65M211.5 398.9h0.65M194.7 399.4h0.65M231.0 394.4h0.65M247.4 393.7h0.65M219.6 398.0h0.65M244.4 396.2h0.65M215.4 396.0h0.65M247.9 383.1h0.65M257.5 382.1h0.65M224.3 400.1h0.65M236.3 392.2h0.65M242.0 393.0h0.65M235.4 395.7h0.65M196.4 397.5h0.65M260.6 391.2h0.65M200.1 401.8h0.65M206.0 396.4h0.65M251.8 389.7h0.65M230.6 385.9h0.65M204.3 403.7h0.65M231.2 394.0h0.65M199.0 408.0h0.65M204.5 394.0h0.65M254.7 396.0h0.65M221.4 400.8h0.65M250.5 389.7h0.65M236.6 399.6h0.65M193.7 399.1h0.65M237.2 391.0h0.65M233.3 399.0h0.65M209.8 398.4h0.65M227.9 397.3h0.65M227.2 392.3h0.65M206.8 403.1h0.65M226.7 393.2h0.65M214.1 387.3h0.65M223.6 392.0h0.65M199.0 395.6h0.65M205.6 404.1h0.65M251.9 381.8h0.65M246.6 393.2h0.65M191.4 402.6h0.65M243.1 394.8h0.65M252.0 388.8h0.65M223.7 394.4h0.65M234.1 392.6h0.65M202.2 404.3h0.65M204.1 399.3h0.65M252.0 390.6h0.65M206.9 395.2h0.65M207.2 399.0h0.65M206.4 402.8h0.65M248.6 384.5h0.65M237.5 397.4h0.65M216.7 408.0h0.65M214.2 390.9h0.65M252.8 381.6h0.65M266.9 385.8h0.65M251.8 393.1h0.65M193.3 405.4h0.65M242.6 392.2h0.65M185.8 408.1h0.65M237.3 392.7h0.65M252.0 383.2h0.65M232.4 409.3h0.65M256.1 399.1h0.65M225.5 397.0h0.65M193.9 402.9h0.65M199.9 409.4h0.65M239.1 390.3h0.65M204.9 399.0h0.65M239.5 383.2h0.65M207.4 397.1h0.65M206.9 403.9h0.65M230.6 395.0h0.65M253.1 390.0h0.65M199.8 399.1h0.65M264.8 391.3h0.65M218.5 399.7h0.65M200.2 396.7h0.65M217.2 399.2h0.65M206.1 399.5h0.65M229.5 399.1h0.65M243.3 389.2h0.65M191.8 400.2h0.65M253.1 392.2h0.65M240.6 380.3h0.65M250.4 390.5h0.65M210.6 393.3h0.65M231.4 398.5h0.65M200.9 401.9h0.65M250.9 389.8h0.65M255.0 394.0h0.65M259.2 393.0h0.65M198.3 405.6h0.65M223.4 397.0h0.65M200.8 402.6h0.65M251.1 387.5h0.65M245.1 395.1h0.65M253.7 390.7h0.65M247.6 391.4h0.65M241.9 390.0h0.65M251.9 393.0h0.65M199.9 402.7h0.65M231.2 398.6h0.65M249.7 388.9h0.65M264.8 385.0h0.65M208.4 397.8h0.65M186.5 398.3h0.65M243.5 396.1h0.65M206.3 392.8h0.65M238.5 392.3h0.65M238.2 390.8h0.65M229.8 394.9h0.65M221.8 385.8h0.65M214.7 402.9h0.65M206.6 389.5h0.65M243.9 395.0h0.65M216.8 393.8h0.65M266.9 383.0h0.65M245.5 408.8h0.65M265.4 394.9h0.65M201.7 400.0h0.65M256.8 386.1h0.65M199.7 394.8h0.65M217.8 409.6h0.65M242.8 394.7h0.65M242.4 389.5h0.65M199.2 402.6h0.65M238.6 395.4h0.65M235.2 398.1h0.65M224.4 391.0h0.65M243.2 398.1h0.65M249.7 387.1h0.65M247.1 396.0h0.65M206.9 405.4h0.65M203.7 402.1h0.65M211.2 400.5h0.65M251.5 395.9h0.65M189.9 400.9h0.65M222.0 395.9h0.65M221.7 400.6h0.65M188.0 405.6h0.65M247.1 398.7h0.65M252.3 389.9h0.65M228.3 392.0h0.65M243.5 389.9h0.65M210.9 392.6h0.65M252.1 389.3h0.65M218.9 381.5h0.65M247.1 395.7h0.65M254.9 391.2h0.65M263.8 386.8h0.65M225.6 399.3h0.65M217.9 399.5h0.65M246.2 388.6h0.65M230.9 395.2h0.65M255.6 385.7h0.65M242.9 382.8h0.65M245.0 396.1h0.65M246.6 392.4h0.65M244.2 391.1h0.65M259.9 394.6h0.65M199.6 395.6h0.65M202.3 404.1h0.65M194.9 402.4h0.65M243.0 396.9h0.65M245.6 387.7h0.65M238.5 389.5h0.65M215.8 381.2h0.65M255.9 395.1h0.65M212.2 396.3h0.65M235.1 375.0h0.65M194.3 396.0h0.65M237.2 391.1h0.65M244.9 394.5h0.65M257.6 386.7h0.65M233.0 395.5h0.65M255.7 389.3h0.65M261.1 383.8h0.65M205.0 398.5h0.65M250.7 386.4h0.65M240.2 377.8h0.65M238.5 393.8h0.65M257.3 390.1h0.65M206.2 399.5h0.65M214.8 398.7h0.65M196.6 399.9h0.65M263.6 378.4h0.65M243.4 392.1h0.65M205.6 405.6h0.65M202.1 398.9h0.65M234.2 392.9h0.65M202.7 403.3h0.65M187.0 399.8h0.65M188.6 403.4h0.65M235.8 395.2h0.65M254.0 389.6h0.65M234.9 399.3h0.65M259.9 389.7h0.65M242.4 394.6h0.65M199.3 397.1h0.65M238.1 386.9h0.65M240.3 390.2h0.65M207.3 394.7h0.65M246.2 387.2h0.65M251.8 394.9h0.65M206.3 398.8h0.65M250.4 383.4h0.65M199.1 394.0h0.65M223.0 403.0h0.65M242.3 396.4h0.65M266.5 386.2h0.65M255.8 388.1h0.65M251.9 388.7h0.65M221.6 401.6h0.65M210.2 398.9h0.65M201.2 399.8h0.65M216.9 401.5h0.65M209.0 398.3h0.65M245.9 389.9h0.65M227.4 398.9h0.65M221.0 394.1h0.65M196.4 399.4h0.65M240.7 389.1h0.65M221.5 399.0h0.65M221.6 398.0h0.65M229.9 398.4h0.65M244.5 389.3h0.65M241.5 392.8h0.65M221.1 391.1h0.65M262.4 383.1h0.65M247.4 387.4h0.65M201.7 390.2h0.65M242.8 390.4h0.65M243.9 395.7h0.65M220.7 402.9h0.65M254.3 397.6h0.65M239.0 388.4h0.65M208.1 401.2h0.65M210.7 402.2h0.65M262.2 388.9h0.65M246.9 391.8h0.65M234.8 404.6h0.65M251.0 391.5h0.65M245.0 397.5h0.65M257.5 391.5h0.65M246.2 388.5h0.65M200.6 400.8h0.65M189.2 404.5h0.65M251.6 387.3h0.65M264.5 389.9h0.65M238.7 388.3h0.65M239.3 389.2h0.65M196.8 401.6h0.65M198.3 407.3h0.65M213.9 389.1h0.65M220.8 402.6h0.65M204.7 395.8h0.65M204.2 397.5h0.65M206.8 403.3h0.65M252.7 391.3h0.65M250.8 393.2h0.65M203.6 389.7h0.65M194.3 396.3h0.65M241.0 386.0h0.65M220.2 399.0h0.65M186.3 400.1h0.65M228.7 393.9h0.65M224.6 393.9h0.65M245.7 394.2h0.65M236.8 394.2h0.65M256.4 388.1h0.65M251.7 389.2h0.65M202.3 405.2h0.65M197.7 396.7h0.65M241.5 397.9h0.65M250.3 395.1h0.65M213.1 399.6h0.65M224.0 403.2h0.65M247.6 393.6h0.65M247.5 394.5h0.65M194.0 399.9h0.65M217.4 398.7h0.65M244.8 393.0h0.65M225.6 399.0h0.65M237.9 397.5h0.65M265.6 384.9h0.65M243.7 393.7h0.65M198.9 400.7h0.65M236.9 401.2h0.65M195.2 402.8h0.65M217.4 400.7h0.65M192.2 406.7h0.65M256.8 390.3h0.65M224.4 396.3h0.65M249.5 391.3h0.65M203.2 405.4h0.65M211.6 401.6h0.65M224.9 397.8h0.65M202.7 399.2h0.65M250.7 387.9h0.65M245.5 394.3h0.65M205.3 402.0h0.65M234.6 390.9h0.65M226.5 395.3h0.65M231.5 388.9h0.65M257.0 392.2h0.65M261.4 381.7h0.65M202.5 399.3h0.65M227.6 392.7h0.65M249.4 389.6h0.65M202.7 404.4h0.65M236.3 390.2h0.65M220.6 392.2h0.65M232.6 393.0h0.65M233.3 393.0h0.65M256.1 394.0h0.65M247.4 402.0h0.65M244.6 388.8h0.65M259.2 392.1h0.65M210.1 392.1h0.65M233.4 395.9h0.65M226.3 394.9h0.65M262.9 400.6h0.65M219.3 388.9h0.65M200.1 412.3h0.65M248.6 389.2h0.65M208.9 392.4h0.65M253.9 383.4h0.65M233.7 393.2h0.65M216.2 392.2h0.65M251.9 394.6h0.65M240.4 391.5h0.65M250.3 384.2h0.65M238.7 396.1h0.65M250.7 392.2h0.65M208.8 398.8h0.65M244.7 385.3h0.65M250.5 395.1h0.65M211.3 387.2h0.65M250.2 388.5h0.65M202.9 410.8h0.65M214.0 394.6h0.65M232.2 397.1h0.65M219.8 399.4h0.65M256.6 395.7h0.65M204.9 409.5h0.65M204.8 405.2h0.65M247.7 394.4h0.65M212.2 398.4h0.65M263.5 382.2h0.65M222.7 397.9h0.65M240.0 388.1h0.65M191.5 405.2h0.65M240.5 392.5h0.65M217.9 392.4h0.65M211.6 400.8h0.65M208.0 401.0h0.65M202.1 400.7h0.65M206.5 405.4h0.65M217.1 395.9h0.65M211.4 394.3h0.65M208.5 394.6h0.65M223.5 387.7h0.65M225.9 395.3h0.65M257.0 400.1h0.65M217.4 400.1h0.65M254.6 386.5h0.65M215.3 400.4h0.65M204.4 396.1h0.65M215.6 398.1h0.65M223.8 393.7h0.65M238.2 389.8h0.65M218.2 398.2h0.65M208.6 398.5h0.65M190.9 406.5h0.65M249.0 394.9h0.65M248.0 392.5h0.65M252.9 389.6h0.65M265.4 388.1h0.65M244.5 389.9h0.65M232.2 398.8h0.65M198.5 406.9h0.65M203.7 400.0h0.65M232.2 395.8h0.65M247.8 398.7h0.65M210.6 400.3h0.65M233.7 396.8h0.65M244.6 387.0h0.65M227.4 393.3h0.65M222.6 399.7h0.65M247.9 392.5h0.65M236.7 390.8h0.65M209.2 401.4h0.65M214.3 399.8h0.65M243.1 389.9h0.65M242.1 393.3h0.65M219.6 398.4h0.65M239.4 394.1h0.65M205.8 396.4h0.65M195.7 395.9h0.65M256.5 386.0h0.65M201.2 396.9h0.65M219.6 396.5h0.65M252.6 393.1h0.65M231.3 395.4h0.65M250.8 393.3h0.65M202.4 398.6h0.65M195.5 404.7h0.65M234.3 399.1h0.65M240.1 395.0h0.65M224.2 399.1h0.65M253.7 385.6h0.65M246.1 398.3h0.65M216.0 398.5h0.65M256.3 394.6h0.65M213.1 398.1h0.65M207.2 404.1h0.65M267.6 384.9h0.65M239.6 400.8h0.65M259.9 388.9h0.65M241.2 394.6h0.65M249.3 389.1h0.65M193.2 398.5h0.65M227.4 399.8h0.65M206.4 401.7h0.65M248.6 392.3h0.65M225.9 395.7h0.65M222.8 399.1h0.65M249.2 388.3h0.65M224.2 391.8h0.65M195.0 406.0h0.65M216.1 398.8h0.65M212.4 405.6h0.65M244.8 400.3h0.65M257.6 381.6h0.65M242.6 390.0h0.65M252.7 389.4h0.65M249.8 405.0h0.65M207.3 396.3h0.65M250.5 383.9h0.65M198.7 407.3h0.65M203.7 394.0h0.65M252.3 386.2h0.65M254.4 389.3h0.65M207.5 399.1h0.65M227.7 391.7h0.65M216.5 395.2h0.65M223.3 394.7h0.65M203.7 394.9h0.65M236.3 393.8h0.65M195.4 405.4h0.65M202.0 400.9h0.65M201.0 406.2h0.65M218.1 403.4h0.65M205.9 394.2h0.65M230.3 394.5h0.65M197.0 397.5h0.65M242.7 397.0h0.65M219.3 393.9h0.65M197.5 406.6h0.65M245.8 388.2h0.65M250.4 395.3h0.65M240.7 390.9h0.65M231.1 396.2h0.65M244.1 391.3h0.65M262.9 389.5h0.65M262.8 387.6h0.65M237.3 388.7h0.65M242.2 403.0h0.65M206.1 397.0h0.65M225.3 389.3h0.65M198.8 394.0h0.65M211.5 388.8h0.65M208.7 395.7h0.65M220.9 389.9h0.65M241.0 399.0h0.65M195.7 402.5h0.65M245.2 396.3h0.65M244.5 389.9h0.65M197.2 402.0h0.65M254.8 386.7h0.65M211.3 400.4h0.65M196.1 404.5h0.65M207.8 399.3h0.65M249.7 390.1h0.65M248.8 391.4h0.65M219.8 394.6h0.65M257.3 391.6h0.65M232.8 396.6h0.65M234.1 397.6h0.65M229.7 395.9h0.65M197.7 396.5h0.65M218.5 399.9h0.65M241.5 391.1h0.65M224.2 388.7h0.65M213.8 391.6h0.65M200.9 410.6h0.65M220.2 397.3h0.65M240.1 398.3h0.65M251.4 376.2h0.65M266.3 387.3h0.65M246.4 388.7h0.65M232.2 395.0h0.65M245.0 384.6h0.65M251.8 388.7h0.65M256.2 392.8h0.65M240.1 389.3h0.65M249.5 389.9h0.65M196.2 402.4h0.65M197.9 397.8h0.65M250.6 393.2h0.65M218.9 399.0h0.65M224.0 393.8h0.65M206.3 403.9h0.65M200.2 402.6h0.65M203.8 398.2h0.65M200.8 404.5h0.65M205.1 412.5h0.65M226.9 401.5h0.65M254.4 379.3h0.65M249.2 396.5h0.65M238.3 400.7h0.65M224.6 400.1h0.65M204.8 402.2h0.65M225.7 388.8h0.65M229.5 394.5h0.65M227.1 394.6h0.65M242.1 388.7h0.65M241.2 393.5h0.65M240.9 405.6h0.65M219.6 395.2h0.65M198.3 395.7h0.65M240.1 387.4h0.65M268.3 388.4h0.65M246.4 385.2h0.65M220.2 396.4h0.65M239.6 393.1h0.65M191.2 392.9h0.65M204.7 389.1h0.65M258.5 390.6h0.65M241.2 394.8h0.65M199.0 397.1h0.65M198.6 405.3h0.65M217.6 394.7h0.65M206.2 398.8h0.65M219.3 395.9h0.65M248.3 387.4h0.65M204.1 394.6h0.65M247.7 384.8h0.65M246.5 398.9h0.65M253.4 397.6h0.65M229.5 396.1h0.65M208.4 404.2h0.65M250.4 387.3h0.65M250.6 392.5h0.65M206.2 399.0h0.65M224.5 403.1h0.65M247.2 396.5h0.65M213.0 397.2h0.65M254.6 388.3h0.65M201.3 405.6h0.65M256.5 390.7h0.65M201.8 394.5h0.65M199.2 401.3h0.65M246.2 393.0h0.65M230.1 393.4h0.65M249.8 396.0h0.65M206.5 394.9h0.65M226.6 405.4h0.65M205.6 399.7h0.65M207.0 395.4h0.65M251.8 399.2h0.65M233.3 394.7h0.65M244.7 392.0h0.65M231.3 392.5h0.65M231.2 392.3h0.65M223.8 397.6h0.65M205.4 393.8h0.65M241.7 394.2h0.65M254.3 396.7h0.65M189.8 397.8h0.65M210.2 389.0h0.65M208.2 397.6h0.65M199.3 397.7h0.65M200.7 397.7h0.65M236.2 390.0h0.65M249.3 397.4h0.65M194.6 404.9h0.65M263.2 397.7h0.65M221.8 402.9h0.65M234.5 399.0h0.65M209.5 393.1h0.65M256.0 382.5h0.65M217.9 400.8h0.65M204.2 402.4h0.65M207.2 395.9h0.65M213.2 399.1h0.65M259.3 395.4h0.65M195.7 396.9h0.65M195.4 394.2h0.65M245.6 395.5h0.65M253.0 388.5h0.65M208.7 402.9h0.65M265.3 387.2h0.65M229.0 405.2h0.65M236.8 393.2h0.65M240.8 382.8h0.65M203.7 401.9h0.65M248.4 391.4h0.65M249.1 385.1h0.65M255.6 389.4h0.65M241.0 384.9h0.65M208.6 397.8h0.65M225.6 401.8h0.65M250.6 387.7h0.65M249.4 394.8h0.65M197.0 397.5h0.65M246.2 405.3h0.65M206.9 401.7h0.65M238.7 391.3h0.65M237.7 388.4h0.65M250.6 391.9h0.65M205.8 402.5h0.65M248.2 392.6h0.65M213.6 393.4h0.65M198.6 401.2h0.65M234.1 394.4h0.65M206.8 396.4h0.65M267.6 391.2h0.65M225.2 392.5h0.65M241.8 403.3h0.65M224.6 388.1h0.65M185.1 401.1h0.65M224.8 387.3h0.65M250.0 393.1h0.65M191.3 401.7h0.65M207.9 403.3h0.65M222.8 394.5h0.65M258.5 391.6h0.65M200.5 401.5h0.65M235.2 390.7h0.65M200.2 403.9h0.65M204.5 404.0h0.65M262.8 387.8h0.65M246.5 385.7h0.65M252.1 389.9h0.65M199.5 401.8h0.65M252.8 392.2h0.65M230.4 393.3h0.65M251.2 386.2h0.65M231.0 392.7h0.65M216.1 392.5h0.65M242.9 401.2h0.65M255.7 387.4h0.65M237.3 386.9h0.65M245.2 387.0h0.65M215.8 400.1h0.65M241.8 394.5h0.65M246.0 397.9h0.65M194.9 405.4h0.65M213.3 396.8h0.65M193.5 401.2h0.65M253.9 397.7h0.65M261.8 397.0h0.65M256.9 379.7h0.65M254.4 389.2h0.65M213.1 395.4h0.65M215.8 399.6h0.65M205.7 394.7h0.65M249.3 398.4h0.65M237.1 404.2h0.65M249.2 392.9h0.65M206.7 401.8h0.65M241.3 386.6h0.65M241.1 392.2h0.65M195.4 399.1h0.65M237.6 392.8h0.65M228.8 396.3h0.65M243.0 383.6h0.65M194.7 403.1h0.65M243.4 392.8h0.65M269.4 377.8h0.65M245.7 394.7h0.65M195.5 400.9h0.65M192.7 396.0h0.65M211.6 395.9h0.65M244.5 387.3h0.65M245.5 388.1h0.65M204.4 394.4h0.65M192.9 399.0h0.65M215.9 406.2h0.65M247.7 385.9h0.65M266.4 395.3h0.65M207.7 406.3h0.65M253.9 395.0h0.65M198.8 397.1h0.65M198.3 394.3h0.65M248.4 387.4h0.65M220.5 399.2h0.65M217.9 391.8h0.65M248.5 387.9h0.65M248.7 390.1h0.65M194.2 401.5h0.65M256.8 391.4h0.65M206.0 398.0h0.65M207.7 409.3h0.65M240.7 394.1h0.65M206.0 402.3h0.65M208.3 386.2h0.65M238.5 398.1h0.65M210.3 396.2h0.65M242.2 392.4h0.65M230.2 398.0h0.65M254.1 392.5h0.65M252.1 391.4h0.65M247.2 396.6h0.65M210.5 403.4h0.65M240.7 390.8h0.65M242.8 394.2h0.65M247.9 392.7h0.65M229.1 386.8h0.65M234.8 388.2h0.65M219.2 393.5h0.65M249.1 386.3h0.65M258.0 388.7h0.65M257.9 386.5h0.65M217.0 396.8h0.65M222.0 395.0h0.65M237.1 384.3h0.65M198.8 399.6h0.65M228.7 397.2h0.65M245.7 393.9h0.65M241.2 391.0h0.65M217.7 394.5h0.65M226.7 393.9h0.65M240.4 394.1h0.65M246.4 390.1h0.65M225.8 400.3h0.65M197.6 396.8h0.65M244.0 410.4h0.65M204.7 404.8h0.65M253.3 394.1h0.65M250.2 398.1h0.65M257.5 393.0h0.65M255.2 383.3h0.65M191.2 405.2h0.65M194.0 391.8h0.65M246.2 397.5h0.65M194.9 403.6h0.65M200.0 401.0h0.65M249.2 387.3h0.65M211.4 394.0h0.65M249.7 396.7h0.65M209.1 389.3h0.65M206.8 398.6h0.65M224.3 394.1h0.65M237.3 389.3h0.65M204.6 399.4h0.65M212.7 394.0h0.65M191.2 400.0h0.65M228.7 399.8h0.65M254.9 392.2h0.65M189.4 404.8h0.65M217.6 384.6h0.65M253.2 392.7h0.65M263.2 395.6h0.65M200.5 401.5h0.65M238.8 392.1h0.65M188.1 394.7h0.65M248.9 384.1h0.65M248.5 393.2h0.65M201.8 403.8h0.65M195.1 398.6h0.65M199.6 401.7h0.65M203.3 401.6h0.65M217.3 398.7h0.65M223.8 401.0h0.65M209.2 411.9h0.65M202.0 401.4h0.65M235.5 391.8h0.65M192.4 405.0h0.65M242.9 388.5h0.65M230.4 392.5h0.65M214.2 396.7h0.65M242.0 389.1h0.65M267.8 389.0h0.65M222.5 395.6h0.65M203.5 399.5h0.65M252.2 387.6h0.65M249.7 387.0h0.65M258.4 390.1h0.65M253.4 393.6h0.65M221.3 396.9h0.65M206.4 400.5h0.65M231.5 403.0h0.65M255.4 393.7h0.65M214.7 405.3h0.65M213.2 397.1h0.65M235.5 390.6h0.65M237.1 382.9h0.65M213.9 410.1h0.65M243.5 394.0h0.65M224.0 393.5h0.65M249.7 387.5h0.65M230.5 394.4h0.65M206.6 393.6h0.65M200.8 400.8h0.65M257.4 384.2h0.65M239.9 391.1h0.65M191.5 400.2h0.65M235.4 392.9h0.65M213.0 396.9h0.65M207.2 399.9h0.65M196.0 405.0h0.65M210.7 394.5h0.65M254.0 390.5h0.65M193.4 399.7h0.65M260.6 388.2h0.65M244.6 396.2h0.65M222.2 395.2h0.65M265.2 389.6h0.65M216.9 391.9h0.65M205.2 394.1h0.65M229.1 402.7h0.65M221.7 396.2h0.65M226.0 395.8h0.65M253.5 395.6h0.65M191.1 410.3h0.65M199.1 404.3h0.65M256.9 387.4h0.65M225.6 395.2h0.65M229.3 400.2h0.65M243.4 396.1h0.65M253.6 400.5h0.65M237.5 395.6h0.65M248.5 394.9h0.65M205.3 400.2h0.65M201.4 408.1h0.65M243.0 395.2h0.65M235.2 395.7h0.65M245.3 387.8h0.65M250.8 392.6h0.65M201.5 395.7h0.65M250.7 397.2h0.65M210.2 397.9h0.65M188.8 404.9h0.65M196.3 399.7h0.65M215.3 393.2h0.65M242.9 393.6h0.65M238.3 391.9h0.65M258.7 390.3h0.65M226.2 396.0h0.65M204.1 393.6h0.65M256.0 387.6h0.65M240.7 398.0h0.65M244.9 387.0h0.65M239.5 388.2h0.65M267.0 385.2h0.65M199.7 397.1h0.65M204.6 403.6h0.65M237.7 400.3h0.65M234.3 387.1h0.65M203.6 392.9h0.65M265.2 394.5h0.65M224.5 397.9h0.65M226.0 398.7h0.65M231.4 394.9h0.65M210.0 393.8h0.65M260.2 389.1h0.65M240.3 388.8h0.65M208.4 403.6h0.65M256.2 390.3h0.65M203.2 389.8h0.65M215.1 394.6h0.65M235.1 393.2h0.65M257.2 389.5h0.65M219.9 400.9h0.65M204.9 400.1h0.65M206.0 395.1h0.65M223.6 405.6h0.65M200.9 395.7h0.65M231.8 401.0h0.65M212.5 402.6h0.65M247.0 394.3h0.65M189.4 403.5h0.65M240.4 398.7h0.65M228.2 400.0h0.65M243.1 389.9h0.65M265.5 373.6h0.65M203.8 395.4h0.65M212.8 394.7h0.65M233.5 392.4h0.65M254.5 394.7h0.65M204.1 398.2h0.65M204.0 404.3h0.65M243.9 397.3h0.65M260.7 389.2h0.65M203.6 391.4h0.65M209.3 388.0h0.65M246.8 394.9h0.65M251.6 393.4h0.65M201.7 401.9h0.65M236.6 392.7h0.65M243.0 397.2h0.65M194.5 405.5h0.65M260.5 389.9h0.65M218.9 393.3h0.65M258.5 386.1h0.65M257.9 404.8h0.65M259.4 397.8h0.65M191.2 404.6h0.65M214.9 403.7h0.65M260.0 397.8h0.65M206.6 409.4h0.65M204.7 396.6h0.65M236.3 380.2h0.65M267.1 382.4h0.65M217.4 398.7h0.65M205.2 400.9h0.65M236.5 401.0h0.65M191.3 392.0h0.65M203.9 392.6h0.65M237.8 395.7h0.65M253.3 402.3h0.65M230.2 401.2h0.65M199.4 380.3h0.65M247.3 403.7h0.65M231.3 380.9h0.65M215.6 396.4h0.65M248.2 390.2h0.65M238.1 398.9h0.65M250.6 394.2h0.65M190.6 398.4h0.65M224.1 386.7h0.65M253.2 402.1h0.65M190.8 394.6h0.65M202.8 399.6h0.65M237.0 382.3h0.65M227.6 393.3h0.65M233.3 399.5h0.65M205.1 405.8h0.65M216.7 408.6h0.65M255.3 402.7h0.65M214.7 402.0h0.65M191.0 408.6h0.65M213.9 396.9h0.65M216.9 394.4h0.65M218.8 401.4h0.65M204.2 396.1h0.65M207.2 404.7h0.65M209.5 405.3h0.65M219.4 395.3h0.65M260.0 382.1h0.65M227.0 398.8h0.65M255.3 396.1h0.65M216.4 398.6h0.65M229.3 391.8h0.65M249.8 393.9h0.65M201.2 400.0h0.65M209.0 408.9h0.65M226.3 410.0h0.65M250.2 389.2h0.65M254.0 405.9h0.65M262.6 382.7h0.65M227.3 394.3h0.65M205.3 411.0h0.65M204.4 387.0h0.65M198.2 400.9h0.65M238.8 395.5h0.65M266.0 395.9h0.65M266.7 397.5h0.65M234.9 396.5h0.65M261.5 410.5h0.65M235.0 410.4h0.65M240.2 406.8h0.65M202.9 403.6h0.65M211.6 410.5h0.65M245.1 394.7h0.65M251.8 405.4h0.65M186.2 380.3h0.65M239.7 399.8h0.65M247.9 403.1h0.65M219.0 399.8h0.65M192.9 398.6h0.65M266.0 410.4h0.65M222.0 393.4h0.65M202.6 394.8h0.65M249.0 380.0h0.65M230.9 405.7h0.65M246.9 404.0h0.65M250.7 386.8h0.65M196.3 409.9h0.65M246.3 389.7h0.65M230.0 396.6h0.65M216.8 404.2h0.65M244.3 404.1h0.65M213.8 407.4h0.65M225.5 382.9h0.65M252.4 399.3h0.65M201.7 405.6h0.65M243.2 406.4h0.65M228.7 395.7h0.65M224.2 401.1h0.65M195.1 386.1h0.65M187.8 406.1h0.65M242.0 408.1h0.65M242.3 398.0h0.65M201.0 384.6h0.65M253.7 386.5h0.65M240.3 404.7h0.65M248.6 390.4h0.65M232.9 391.7h0.65M253.3 389.9h0.65M266.2 407.8h0.65M239.8 404.2h0.65M188.1 404.4h0.65M188.3 399.9h0.65M189.0 410.1h0.65M264.3 406.1h0.65M250.2 395.1h0.65M252.3 403.3h0.65M253.6 388.8h0.65M260.5 396.9h0.65M262.6 395.4h0.65M257.1 399.5h0.65M189.2 399.0h0.65M212.1 398.9h0.65M198.9 408.8h0.65M240.2 403.5h0.65M254.5 393.7h0.65M247.7 397.7h0.65M194.4 390.9h0.65M193.5 383.4h0.65M249.2 384.2h0.65M222.4 386.3h0.65M265.6 387.8h0.65M235.1 396.8h0.65M248.1 402.1h0.65M193.9 399.6h0.65M232.8 398.8h0.65M203.5 401.7h0.65M232.1 410.5h0.65M240.6 393.1h0.65M230.5 401.5h0.65M199.1 400.1h0.65M195.1 401.9h0.65M197.4 402.8h0.65M243.9 405.6h0.65M209.7 401.4h0.65M217.4 400.2h0.65M187.0 409.5h0.65M207.2 401.2h0.65M257.4 392.3h0.65M235.3 396.7h0.65M244.9 401.6h0.65M226.6 381.1h0.65M237.6 406.7h0.65M218.5 398.3h0.65M254.0 410.7h0.65M214.3 405.1h0.65M254.2 408.8h0.65M206.4 404.4h0.65M191.2 398.5h0.65M260.8 388.0h0.65M214.7 398.8h0.65M214.4 400.8h0.65M202.0 397.1h0.65M205.4 391.0h0.65M245.3 409.0h0.65M261.4 389.5h0.65M200.0 398.0h0.65M192.6 406.0h0.65M210.6 394.1h0.65M231.2 387.5h0.65M262.8 390.8h0.65M265.8 398.0h0.65M243.1 392.9h0.65M223.3 394.5h0.65M224.0 406.6h0.65M201.2 406.7h0.65M227.1 391.5h0.65M218.1 404.7h0.65M230.5 392.7h0.65M225.7 402.3h0.65M191.9 404.7h0.65M215.9 383.3h0.65M260.9 394.5h0.65M195.0 403.3h0.65M214.7 404.1h0.65M252.5 405.4h0.65M207.2 407.0h0.65M212.7 397.4h0.65M204.5 389.3h0.65M217.8 402.9h0.65M211.6 395.7h0.65M225.7 402.8h0.65M211.1 407.5h0.65M251.6 387.6h0.65M211.6 388.1h0.65M188.3 401.1h0.65M264.7 390.3h0.65M250.6 390.8h0.65M222.0 380.4h0.65M251.7 408.3h0.65M212.5 396.8h0.65M189.5 384.5h0.65M207.1 403.2h0.65M255.7 388.6h0.65M253.4 402.6h0.65M264.5 408.5h0.65M205.1 392.8h0.65M260.4 389.4h0.65M236.1 394.8h0.65M259.8 387.6h0.65M237.6 400.4h0.65M252.1 404.6h0.65M254.3 389.5h0.65M235.4 401.8h0.65M248.4 398.0h0.65M196.2 389.2h0.65M236.4 410.2h0.65M221.3 399.6h0.65M192.1 405.8h0.65M260.6 402.6h0.65M266.4 386.2h0.65M212.1 404.3h0.65M228.2 410.8h0.65M209.0 402.2h0.65M257.1 393.8h0.65M253.5 388.6h0.65M195.1 394.2h0.65M252.3 408.1h0.65M253.2 405.1h0.65M260.3 393.8h0.65M250.2 402.8h0.65M254.1 410.9h0.65M203.2 399.1h0.65M238.7 393.2h0.65M199.6 389.0h0.65M211.6 408.4h0.65M207.2 409.2h0.65M191.1 392.0h0.65M204.5 406.4h0.65M186.6 399.0h0.65M244.4 381.6h0.65M260.2 400.9h0.65M225.0 402.2h0.65M217.7 399.4h0.65M234.1 411.3h0.65M248.6 404.1h0.65M250.2 411.2h0.65M254.9 411.0h0.65M196.5 398.0h0.65M261.5 398.1h0.65M216.1 381.5h0.65M245.9 393.0h0.65M258.1 393.4h0.65M225.3 401.9h0.65M213.6 404.4h0.65M257.5 388.8h0.65M224.9 399.1h0.65M266.3 399.7h0.65M223.5 402.0h0.65M200.0 358.0h0.65M238.7 338.6h0.65M267.9 332.0h0.65M213.1 350.8h0.65M238.5 329.4h0.65M191.1 360.3h0.65M231.9 345.8h0.65M232.4 356.1h0.65M240.8 349.2h0.65M236.8 348.8h0.65M235.6 345.9h0.65M211.2 334.1h0.65M260.1 327.4h0.65M237.0 341.2h0.65M201.2 343.8h0.65M243.3 351.1h0.65M226.2 343.4h0.65M216.2 345.3h0.65M213.3 351.8h0.65M242.4 348.5h0.65M194.3 362.1h0.65M252.4 334.8h0.65M240.1 345.7h0.65M240.9 343.7h0.65M186.5 345.9h0.65M198.3 360.9h0.65M240.1 346.7h0.65M269.6 337.1h0.65M253.7 347.1h0.65M201.2 342.2h0.65M249.0 353.0h0.65M192.2 350.8h0.65M251.2 330.0h0.65M211.9 348.3h0.65M221.9 343.7h0.65M195.3 360.8h0.65M252.2 341.5h0.65M239.7 343.4h0.65M242.8 329.0h0.65M255.0 329.2h0.65M245.9 340.8h0.65M231.2 351.3h0.65M238.0 337.5h0.65M262.3 345.6h0.65M251.6 350.3h0.65M244.7 355.5h0.65M240.9 336.1h0.65M229.4 353.1h0.65M238.2 327.1h0.65M251.2 326.1h0.65M200.5 365.9h0.65M233.9 345.6h0.65M214.7 360.9h0.65M239.4 342.7h0.65M215.1 368.5h0.65M194.0 343.8h0.65M203.6 352.4h0.65M263.2 344.0h0.65M263.4 348.6h0.65M261.4 350.9h0.65M253.6 343.5h0.65M245.3 355.7h0.65M259.1 337.3h0.65M226.2 331.7h0.65M253.5 343.8h0.65M187.6 369.6h0.65M200.3 355.6h0.65M232.3 338.7h0.65M239.8 348.2h0.65M236.4 350.2h0.65M262.8 343.2h0.65M252.4 342.1h0.65M224.4 343.0h0.65M233.5 352.8h0.65M256.9 353.1h0.65M259.1 334.2h0.65M250.1 334.1h0.65M209.5 353.4h0.65M195.2 369.6h0.65M246.8 356.0h0.65M233.6 341.5h0.65M206.0 342.3h0.65M216.3 347.1h0.65M205.9 373.2h0.65M247.3 345.6h0.65M274.4 345.3h0.65M228.1 355.4h0.65M244.3 349.8h0.65M218.1 341.3h0.65M187.2 357.4h0.65M233.9 340.5h0.65M222.6 339.7h0.65M239.1 344.3h0.65M223.1 343.3h0.65M258.8 352.5h0.65M253.7 335.1h0.65M245.3 352.9h0.65M230.0 333.8h0.65M247.4 332.3h0.65M255.5 356.8h0.65M228.8 340.4h0.65M269.5 332.8h0.65M257.3 342.5h0.65M204.6 353.2h0.65M216.9 336.2h0.65M194.5 355.8h0.65M222.0 356.6h0.65M239.3 353.6h0.65M197.3 355.9h0.65M227.6 335.2h0.65M197.5 366.8h0.65M190.1 355.9h0.65M263.5 331.2h0.65M261.3 337.7h0.65M227.0 341.1h0.65M252.7 358.4h0.65M262.9 340.2h0.65M199.5 343.6h0.65M224.2 335.5h0.65M247.3 332.0h0.65M219.8 356.8h0.65M201.0 360.7h0.65M201.1 355.2h0.65M193.2 347.6h0.65M251.1 344.8h0.65M210.7 365.1h0.65M194.3 362.4h0.65M247.3 344.6h0.65M225.8 347.7h0.65M193.9 356.9h0.65M235.0 336.0h0.65M261.1 323.8h0.65M198.3 354.0h0.65M239.7 343.7h0.65M267.7 330.1h0.65M213.2 358.3h0.65M260.0 325.7h0.65M216.1 356.3h0.65M233.1 348.3h0.65M243.8 337.5h0.65M187.2 333.2h0.65M221.3 352.6h0.65M235.0 344.6h0.65M251.2 353.9h0.65M219.6 346.7h0.65M237.8 337.1h0.65M227.9 359.0h0.65M209.0 336.4h0.65M251.5 356.9h0.65M212.1 348.1h0.65M202.2 353.9h0.65M199.1 349.3h0.65M196.5 361.4h0.65M237.5 343.3h0.65M262.4 333.2h0.65M258.6 337.9h0.65M265.4 338.6h0.65M232.3 354.0h0.65M270.6 330.8h0.65M226.6 350.8h0.65M257.0 331.6h0.65M252.9 329.3h0.65M222.7 345.7h0.65M245.2 345.6h0.65M206.3 352.0h0.65M196.4 353.0h0.65M235.7 355.1h0.65M267.6 344.3h0.65M187.1 364.3h0.65M242.6 354.8h0.65M193.2 347.1h0.65M242.5 332.0h0.65M257.4 328.1h0.65M241.8 335.2h0.65M245.1 336.0h0.65M234.4 361.7h0.65M219.3 342.8h0.65M203.8 339.2h0.65M260.5 339.4h0.65M231.4 332.0h0.65M235.5 348.4h0.65M260.8 341.0h0.65M267.1 336.5h0.65M250.4 332.2h0.65M253.8 332.4h0.65M254.8 332.4h0.65M228.5 347.4h0.65M244.5 345.4h0.65M250.8 344.6h0.65M195.4 345.5h0.65M248.6 350.3h0.65M240.0 327.6h0.65M228.0 326.5h0.65M193.0 353.8h0.65M190.8 348.1h0.65M258.5 341.0h0.65M264.5 325.2h0.65M263.5 344.2h0.65M255.7 344.7h0.65M221.8 347.1h0.65M206.1 338.9h0.65M199.6 356.1h0.65M250.1 335.6h0.65M266.3 347.7h0.65M248.4 352.9h0.65M243.9 350.8h0.65M201.5 353.1h0.65M192.1 356.8h0.65M244.4 332.6h0.65M246.7 336.2h0.65M256.0 342.0h0.65M192.8 359.0h0.65M226.3 361.3h0.65M270.0 329.5h0.65M207.2 351.5h0.65M215.8 348.1h0.65M219.7 350.6h0.65M243.2 347.5h0.65M250.3 330.7h0.65M188.6 356.6h0.65M253.8 345.6h0.65M237.0 333.6h0.65M256.0 341.5h0.65M270.0 333.9h0.65M185.3 352.8h0.65M257.7 324.3h0.65M253.5 345.4h0.65M272.8 352.2h0.65M268.4 342.4h0.65M229.0 359.1h0.65M232.2 331.8h0.65M231.0 370.2h0.65M209.3 360.3h0.65M206.0 348.8h0.65M241.2 349.9h0.65M256.0 354.5h0.65M219.4 344.5h0.65M251.8 355.6h0.65M236.9 346.3h0.65M233.9 348.9h0.65M247.0 345.5h0.65M254.5 342.2h0.65M226.7 336.5h0.65M209.2 333.0h0.65M204.9 348.0h0.65M208.3 351.7h0.65M225.6 356.6h0.65M218.4 345.4h0.65M240.2 352.5h0.65M207.3 357.6h0.65M250.7 334.5h0.65M186.3 370.8h0.65M250.0 354.7h0.65M265.9 323.1h0.65M249.1 364.6h0.65M266.1 341.1h0.65M228.9 340.5h0.65M203.1 350.8h0.65M236.6 350.2h0.65M247.8 369.9h0.65M219.3 356.2h0.65M211.3 339.0h0.65M203.0 347.7h0.65M263.2 331.9h0.65M243.2 339.8h0.65M242.9 349.7h0.65M219.8 351.9h0.65M187.0 348.9h0.65M220.1 358.3h0.65M239.4 347.0h0.65M239.4 336.1h0.65M251.2 342.5h0.65M209.3 352.9h0.65M208.0 349.5h0.65M194.4 374.4h0.65M269.1 331.9h0.65M256.9 340.0h0.65M267.3 336.9h0.65M199.0 340.2h0.65M210.0 352.2h0.65M218.4 336.1h0.65M215.6 354.2h0.65M232.3 342.9h0.65M197.5 373.2h0.65M223.3 339.3h0.65M231.2 353.0h0.65M189.0 358.7h0.65M278.6 343.9h0.65M202.1 357.4h0.65M254.5 338.2h0.65M189.2 358.3h0.65M217.5 356.5h0.65M209.8 342.2h0.65M240.6 326.7h0.65M224.4 356.4h0.65M242.0 349.7h0.65M263.6 329.4h0.65M224.8 351.2h0.65M255.7 338.9h0.65M237.2 343.4h0.65M255.2 336.2h0.65M213.7 360.4h0.65M262.9 362.1h0.65M240.0 339.2h0.65M255.7 339.2h0.65M234.0 340.6h0.65M261.1 327.0h0.65M259.9 348.3h0.65M206.7 358.9h0.65M253.9 339.0h0.65M261.6 339.7h0.65M237.7 345.6h0.65M232.8 342.6h0.65M228.9 356.7h0.65M228.5 363.5h0.65M229.2 343.4h0.65M249.3 334.9h0.65M248.2 341.8h0.65M261.7 331.9h0.65M187.8 357.7h0.65M249.3 336.0h0.65M239.2 341.6h0.65M264.1 342.3h0.65M252.7 345.1h0.65M244.7 338.9h0.65M209.3 350.3h0.65M257.7 335.9h0.65M248.9 336.4h0.65M210.1 345.4h0.65M260.7 336.6h0.65M249.5 344.0h0.65M230.4 322.3h0.65M249.5 358.9h0.65M225.0 337.1h0.65M270.3 339.4h0.65M252.1 333.4h0.65M248.7 326.1h0.65M230.0 337.9h0.65M226.3 351.0h0.65M236.5 339.1h0.65M239.4 337.3h0.65M231.7 361.0h0.65M240.0 355.6h0.65M266.4 335.1h0.65M245.8 338.4h0.65M258.4 329.4h0.65M243.9 346.9h0.65M249.6 354.7h0.65M267.0 342.0h0.65M246.8 344.2h0.65M242.2 331.8h0.65M247.9 349.6h0.65M208.0 352.7h0.65M259.1 339.0h0.65M208.5 346.5h0.65M243.8 355.3h0.65M223.9 343.2h0.65M258.2 357.3h0.65M246.3 344.1h0.65M238.9 335.0h0.65M242.0 341.5h0.65M219.0 348.7h0.65M191.6 352.6h0.65M245.9 324.4h0.65M226.4 345.0h0.65M229.6 341.4h0.65M204.4 343.9h0.65M240.7 346.2h0.65M246.5 330.8h0.65M263.1 332.2h0.65M259.5 333.9h0.65M225.6 351.7h0.65M211.9 343.5h0.65M264.0 331.9h0.65M242.3 340.6h0.65M243.6 341.1h0.65M231.1 340.1h0.65M262.7 323.6h0.65M245.7 347.3h0.65M188.3 359.0h0.65M190.5 349.5h0.65M238.0 361.5h0.65M244.5 343.3h0.65M240.6 342.2h0.65M243.3 356.5h0.65M219.1 361.3h0.65M186.1 368.1h0.65M201.3 345.6h0.65M260.7 334.6h0.65M258.5 333.5h0.65M203.2 349.7h0.65M243.3 359.4h0.65M186.7 349.4h0.65M239.0 344.6h0.65M237.6 345.2h0.65M267.9 327.2h0.65M243.5 338.0h0.65M238.0 328.5h0.65M236.2 332.9h0.65M189.0 367.0h0.65M249.7 357.2h0.65M242.3 342.2h0.65M236.0 340.3h0.65M235.8 352.9h0.65M262.6 326.1h0.65M210.5 366.7h0.65M211.0 357.9h0.65M210.2 353.7h0.65M242.7 335.4h0.65M240.8 335.3h0.65M238.6 349.5h0.65M235.1 358.2h0.65M244.5 343.3h0.65M246.6 333.6h0.65M241.7 338.0h0.65M254.2 352.1h0.65M249.8 328.8h0.65M252.5 341.2h0.65M248.3 333.5h0.65M198.6 351.7h0.65M230.6 359.1h0.65M237.9 352.3h0.65M189.5 351.2h0.65M256.8 356.8h0.65M223.8 352.4h0.65M259.1 340.3h0.65M214.4 357.2h0.65M260.5 333.7h0.65M235.3 370.1h0.65M216.1 363.1h0.65M187.2 373.6h0.65M258.6 347.4h0.65M212.9 348.4h0.65M198.0 374.1h0.65M234.6 355.4h0.65M242.4 350.7h0.65M253.3 333.2h0.65M196.4 351.7h0.65M248.6 354.0h0.65M229.7 354.7h0.65M265.1 331.1h0.65M249.9 337.8h0.65M238.2 349.1h0.65M212.3 354.9h0.65M252.7 339.8h0.65M225.5 354.9h0.65M265.1 345.2h0.65M242.8 359.6h0.65M190.8 355.1h0.65M244.8 337.5h0.65M245.3 353.9h0.65M246.0 338.0h0.65M253.7 333.0h0.65M266.9 344.2h0.65M251.8 328.6h0.65M258.5 327.6h0.65M200.6 354.8h0.65M241.0 342.0h0.65M261.0 335.2h0.65M230.4 351.1h0.65M236.1 344.1h0.65M217.3 351.0h0.65M224.5 335.9h0.65M226.8 355.6h0.65M260.6 346.5h0.65M262.5 348.5h0.65M224.3 349.5h0.65M195.2 342.3h0.65M238.1 340.2h0.65M222.6 326.7h0.65M255.5 334.4h0.65M247.1 349.8h0.65M256.9 334.2h0.65M258.6 325.6h0.65M246.4 334.3h0.65M191.2 348.3h0.65M239.1 333.2h0.65M221.3 361.7h0.65M241.4 340.8h0.65M268.9 324.1h0.65M252.0 330.0h0.65M246.4 346.7h0.65M201.4 341.6h0.65M225.8 343.3h0.65M254.6 320.9h0.65M243.3 331.3h0.65M225.6 359.0h0.65M245.0 346.4h0.65M249.0 340.7h0.65M220.4 338.2h0.65M227.5 332.5h0.65M240.5 330.4h0.65M258.7 347.3h0.65M234.1 349.5h0.65M246.2 345.6h0.65M209.8 335.9h0.65M230.6 353.8h0.65M194.1 368.9h0.65M262.1 340.6h0.65M243.4 356.5h0.65M234.1 328.6h0.65M241.3 350.8h0.65M254.8 350.3h0.65M243.0 339.1h0.65M239.6 354.7h0.65M208.9 354.2h0.65M247.5 345.5h0.65M262.2 349.1h0.65M234.5 348.4h0.65M268.7 324.0h0.65M228.0 340.4h0.65M223.6 339.9h0.65M223.5 316.7h0.65M265.9 333.2h0.65M194.0 340.0h0.65M262.3 357.5h0.65M269.9 333.1h0.65M248.0 342.8h0.65M257.3 338.4h0.65M243.5 337.7h0.65M212.1 355.1h0.65M220.6 332.9h0.65M202.1 345.9h0.65M239.6 337.7h0.65M187.1 352.7h0.65M217.8 333.8h0.65M267.1 329.2h0.65M241.1 341.3h0.65M280.6 316.1h0.65M240.9 334.5h0.65M254.9 338.5h0.65M241.1 346.8h0.65M246.7 341.7h0.65M232.2 330.5h0.65M236.7 350.0h0.65M228.8 336.4h0.65M258.8 338.7h0.65M240.9 347.3h0.65M272.5 354.0h0.65M258.3 341.2h0.65M247.8 338.4h0.65M250.8 360.6h0.65M193.3 342.0h0.65M214.5 350.9h0.65M210.0 347.1h0.65M241.8 341.2h0.65M185.5 360.7h0.65M255.6 346.5h0.65M254.6 346.3h0.65M265.3 348.9h0.65M206.1 354.4h0.65M254.6 345.8h0.65M255.6 331.3h0.65M201.6 340.0h0.65M256.2 341.6h0.65M263.7 333.5h0.65M242.7 339.1h0.65M229.8 356.7h0.65M254.6 341.2h0.65M223.9 346.3h0.65M234.8 357.8h0.65M243.3 336.2h0.65M263.6 341.9h0.65M256.2 340.6h0.65M224.0 342.3h0.65M266.9 335.1h0.65M255.0 345.7h0.65M216.8 355.0h0.65M253.2 341.4h0.65M252.0 342.2h0.65M269.6 341.7h0.65M187.1 365.7h0.65M226.1 334.7h0.65M243.7 348.6h0.65M194.6 339.3h0.65M274.5 334.1h0.65M231.9 338.0h0.65M268.1 334.4h0.65M232.0 349.7h0.65M253.3 337.4h0.65M223.9 349.9h0.65M256.3 339.7h0.65M216.2 350.4h0.65M187.5 362.8h0.65M218.1 349.0h0.65M215.2 349.2h0.65M268.6 331.1h0.65M201.6 343.3h0.65M233.7 333.5h0.65M198.2 350.1h0.65M266.0 348.6h0.65M190.7 348.3h0.65M258.7 328.5h0.65M194.8 357.3h0.65M249.8 327.2h0.65M216.6 346.5h0.65M204.3 345.9h0.65M242.6 348.4h0.65M244.0 341.9h0.65M218.2 343.9h0.65M263.8 338.2h0.65M222.4 334.5h0.65M190.2 340.2h0.65M228.1 340.4h0.65M253.6 353.4h0.65M247.5 349.1h0.65M210.5 348.9h0.65M265.3 332.8h0.65M195.4 360.9h0.65M190.7 362.3h0.65M190.4 336.7h0.65M246.2 340.3h0.65M260.6 338.3h0.65M201.7 349.0h0.65M215.9 355.6h0.65M250.5 347.3h0.65M214.1 354.1h0.65M219.2 346.6h0.65M241.4 333.5h0.65M187.8 361.6h0.65M246.7 345.2h0.65M241.1 321.3h0.65M195.3 354.6h0.65M237.7 345.6h0.65M247.0 338.2h0.65M214.1 355.5h0.65M234.0 364.6h0.65M234.0 329.5h0.65M264.2 349.0h0.65M260.9 332.2h0.65M233.0 348.2h0.65M237.8 334.1h0.65M185.3 352.6h0.65M227.3 349.6h0.65M227.8 337.3h0.65M208.9 345.5h0.65M240.4 357.7h0.65M252.3 344.2h0.65M260.5 347.7h0.65M265.3 346.5h0.65M248.6 367.4h0.65M234.3 344.6h0.65M259.3 353.4h0.65M233.1 345.7h0.65M261.1 365.6h0.65M265.2 374.0h0.65M244.7 357.1h0.65M221.1 345.4h0.65M258.6 372.4h0.65M253.0 348.8h0.65M242.5 360.0h0.65M267.6 354.1h0.65M241.3 347.0h0.65M253.7 350.8h0.65M219.0 346.2h0.65M244.0 351.8h0.65M259.7 347.8h0.65M246.9 375.5h0.65M234.2 355.4h0.65M257.5 346.4h0.65M257.7 339.4h0.65M225.4 358.9h0.65M235.9 375.4h0.65M226.6 350.1h0.65M251.1 375.3h0.65M264.3 352.1h0.65M261.7 365.0h0.65M259.0 342.2h0.65M250.6 358.9h0.65M215.8 352.8h0.65M246.7 372.5h0.65M211.4 339.3h0.65M203.0 365.2h0.65M270.8 338.1h0.65M253.8 339.7h0.65M245.8 352.7h0.65M232.4 341.7h0.65M257.2 342.8h0.65M258.9 357.1h0.65M236.2 347.0h0.65M242.8 342.7h0.65M267.5 366.3h0.65M269.5 367.7h0.65M242.2 351.1h0.65M258.7 373.3h0.65M226.2 368.9h0.65M264.7 341.8h0.65M227.1 345.9h0.65M248.5 363.8h0.65M237.9 346.3h0.65M238.7 370.6h0.65M262.0 373.8h0.65M257.6 353.6h0.65M231.7 373.9h0.65M235.6 374.2h0.65M261.3 338.0h0.65M213.1 356.8h0.65M241.4 363.4h0.65M247.0 357.4h0.65M214.5 338.8h0.65M234.1 343.9h0.65M267.6 365.4h0.65M229.1 369.3h0.65M229.8 354.8h0.65M230.0 356.8h0.65M265.0 361.6h0.65M272.0 348.8h0.65M249.1 359.9h0.65M242.2 367.3h0.65M266.2 345.3h0.65M266.3 361.6h0.65M255.8 362.1h0.65M235.6 363.8h0.65M268.8 342.3h0.65M210.1 362.0h0.65M263.8 365.0h0.65M252.0 373.8h0.65M227.4 339.0h0.65M205.1 343.3h0.65M269.4 372.9h0.65M251.4 341.5h0.65M263.0 372.2h0.65M258.8 368.9h0.65M234.2 344.1h0.65M245.5 354.7h0.65M241.1 373.2h0.65M240.4 373.9h0.65M242.9 369.7h0.65M214.1 343.1h0.65M240.1 353.8h0.65M266.9 362.0h0.65M247.9 362.7h0.65M251.6 347.6h0.65M257.7 356.5h0.65M257.1 360.3h0.65M224.4 355.7h0.65M240.9 359.2h0.65M268.7 362.9h0.65M246.2 363.6h0.65M251.3 367.0h0.65M233.1 359.3h0.65M233.9 343.9h0.65M252.0 340.2h0.65M260.5 364.2h0.65M260.0 342.5h0.65M268.2 345.0h0.65M240.1 339.2h0.65M234.6 369.6h0.65M260.5 375.7h0.65M238.8 374.7h0.65M249.1 356.1h0.65M251.6 353.0h0.65M268.0 370.0h0.65M259.4 342.2h0.65M268.1 372.3h0.65M237.9 349.8h0.65M261.7 372.0h0.65M234.4 366.7h0.65M214.6 342.1h0.65M246.6 352.4h0.65M237.3 344.9h0.65M238.4 348.3h0.65M243.0 374.8h0.65M227.1 372.5h0.65M248.2 352.0h0.65M210.7 367.1h0.65M252.3 370.0h0.65M239.4 349.2h0.65M246.5 354.1h0.65M258.4 359.8h0.65M250.7 369.9h0.65M228.6 363.1h0.65M258.4 362.3h0.65M249.3 369.1h0.65M242.1 357.5h0.65M216.3 349.2h0.65M252.8 357.7h0.65M237.0 356.1h0.65M247.2 360.9h0.65M244.4 346.0h0.65M245.3 357.1h0.65M235.3 347.8h0.65M239.2 339.9h0.65M217.6 338.2h0.65M264.3 372.2h0.65M269.6 355.2h0.65M253.0 346.4h0.65M252.9 361.9h0.65M257.7 363.0h0.65M253.3 345.0h0.65M234.1 357.5h0.65M234.6 362.7h0.65M260.2 375.5h0.65M240.6 359.0h0.65M259.6 339.9h0.65M234.6 343.3h0.65M248.9 354.7h0.65M229.4 364.2h0.65M222.9 364.9h0.65M265.7 355.2h0.65M227.3 358.5h0.65M253.4 353.9h0.65M270.1 374.7h0.65M255.9 370.8h0.65M235.2 361.1h0.65M254.4 346.4h0.65M255.4 355.8h0.65M271.7 374.6h0.65M267.7 369.5h0.65M262.8 359.0h0.65M229.6 344.7h0.65M253.7 360.5h0.65M253.6 359.5h0.65M242.3 342.9h0.65M245.1 357.7h0.65M247.8 345.5h0.65M227.7 373.0h0.65M221.0 345.6h0.65M252.7 360.4h0.65M266.6 340.9h0.65M218.4 374.4h0.65M259.2 357.7h0.65M252.9 374.3h0.65M260.6 361.1h0.65M243.4 352.0h0.65M252.2 375.3h0.65M230.8 370.9h0.65M235.6 342.6h0.65M229.3 348.4h0.65M251.1 372.6h0.65M206.5 352.3h0.65M262.1 343.6h0.65M250.6 367.9h0.65M237.5 355.1h0.65M234.4 372.5h0.65M267.8 370.9h0.65M250.6 375.1h0.65M226.6 358.7h0.65M242.7 346.0h0.65M252.3 343.0h0.65M217.8 339.4h0.65M256.2 340.9h0.65M228.7 346.6h0.65M271.5 368.5h0.65M266.4 357.9h0.65M238.6 349.2h0.65M242.0 372.0h0.65M255.3 370.5h0.65M251.3 375.5h0.65M238.9 375.7h0.65M232.1 349.7h0.65M246.3 348.7h0.65M244.7 358.9h0.65M252.2 359.2h0.65M243.4 362.1h0.65M229.5 357.4h0.65M271.3 350.4h0.65M267.2 346.4h0.65M239.7 362.8h0.65M247.3 339.5h0.65M269.8 340.0h0.65M232.8 340.3h0.65M245.6 359.1h0.65M252.3 371.9h0.65M243.6 344.9h0.65M264.7 341.3h0.65M253.4 370.5h0.65M267.5 374.1h0.65M237.2 340.3h0.65M250.1 367.3h0.65M261.3 338.8h0.65M240.3 359.1h0.65M232.5 355.0h0.65M237.0 349.1h0.65M223.4 366.1h0.65M256.1 374.4h0.65M247.6 359.5h0.65M257.2 344.6h0.65M252.2 365.8h0.65M222.4 358.2h0.65M265.6 369.5h0.65M261.0 353.8h0.65M256.0 351.4h0.65M245.7 357.6h0.65M256.5 356.6h0.65M245.3 339.9h0.65M245.1 338.9h0.65M253.7 369.1h0.65M258.6 368.7h0.65M242.3 370.0h0.65M254.1 353.8h0.65M265.9 348.4h0.65M238.4 354.5h0.65M258.9 362.4h0.65M250.5 355.6h0.65M267.3 345.8h0.65M253.6 355.5h0.65M233.2 352.0h0.65M266.4 356.7h0.65M234.7 374.9h0.65M269.3 337.9h0.65M267.3 335.6h0.65M271.7 332.3h0.65M271.2 340.6h0.65M269.8 336.4h0.65M267.1 331.8h0.65M269.5 334.6h0.65M269.3 336.2h0.65M267.9 332.5h0.65M265.4 328.4h0.65M268.1 336.9h0.65M268.1 341.9h0.65M265.5 335.6h0.65M269.2 331.2h0.65M267.7 335.9h0.65M271.4 335.7h0.65M267.4 333.8h0.65M267.9 330.8h0.65M268.0 342.5h0.65M270.4 341.4h0.65M264.9 331.6h0.65M268.2 334.2h0.65M267.6 339.0h0.65M265.8 340.0h0.65M265.7 340.0h0.65M267.2 329.9h0.65M270.3 337.7h0.65M271.1 330.4h0.65M269.9 336.0h0.65M267.8 334.5h0.65M270.6 338.3h0.65M267.0 334.1h0.65M268.0 336.0h0.65M268.5 339.0h0.65M270.7 334.1h0.65M267.2 333.6h0.65M266.2 333.0h0.65M269.9 334.6h0.65M267.6 334.0h0.65M268.1 335.2h0.65M270.3 335.4h0.65M268.3 336.3h0.65M265.0 333.2h0.65M264.9 331.8h0.65M266.2 336.2h0.65M267.4 328.6h0.65M270.0 333.0h0.65M268.4 334.0h0.65M267.2 335.9h0.65M268.5 333.6h0.65M266.5 335.5h0.65M267.9 336.6h0.65M268.6 335.9h0.65M270.0 340.7h0.65M266.8 330.2h0.65M266.1 339.8h0.65M267.4 338.9h0.65M264.5 329.6h0.65M268.3 331.6h0.65M267.4 335.4h0.65M268.5 335.8h0.65M268.1 336.5h0.65M266.8 333.9h0.65M269.2 336.3h0.65M269.1 332.9h0.65M271.1 332.7h0.65M267.3 330.2h0.65M270.3 329.2h0.65M270.3 340.2h0.65M266.6 341.0h0.65M267.9 338.4h0.65M267.6 337.9h0.65M269.3 340.5h0.65M272.9 331.6h0.65M269.4 340.8h0.65M270.1 331.9h0.65M271.1 339.3h0.65M267.9 330.7h0.65M268.4 332.0h0.65M269.0 338.8h0.65M271.2 335.4h0.65M267.7 332.2h0.65M271.4 333.5h0.65M272.2 342.1h0.65M268.7 338.3h0.65M265.8 339.3h0.65M268.3 330.4h0.65M270.3 333.6h0.65M268.9 329.2h0.65M269.3 339.1h0.65M265.5 328.4h0.65M264.9 342.0h0.65M269.7 337.4h0.65M265.6 335.2h0.65M268.5 336.2h0.65M269.4 333.2h0.65M269.3 336.6h0.65M268.4 337.5h0.65M265.3 342.8h0.65M266.2 339.0h0.65M269.5 332.8h0.65M271.4 330.7h0.65M271.9 332.3h0.65M272.0 338.8h0.65M268.6 331.9h0.65M269.0 332.3h0.65M264.9 340.1h0.65M265.0 339.3h0.65M269.0 330.8h0.65M270.6 328.8h0.65M268.7 332.8h0.65M269.3 330.2h0.65M266.1 334.0h0.65M267.4 332.7h0.65M268.2 333.7h0.65M268.5 334.9h0.65M269.4 339.0h0.65M270.1 332.3h0.65M272.2 333.9h0.65M266.1 334.7h0.65M266.4 333.1h0.65M268.2 338.1h0.65M268.7 331.7h0.65M269.9 329.6h0.65M267.1 329.7h0.65M265.7 336.1h0.65M268.4 331.1h0.65M268.1 334.1h0.65M271.2 334.5h0.65M266.2 337.8h0.65M269.1 341.1h0.65M271.5 328.0h0.65M269.0 332.7h0.65M266.3 339.5h0.65M266.5 340.4h0.65M271.7 331.4h0.65M269.0 329.7h0.65M265.7 335.0h0.65M270.4 331.4h0.65M270.9 335.2h0.65M265.4 339.0h0.65M266.2 335.8h0.65M268.0 337.2h0.65M267.3 338.3h0.65M270.0 337.3h0.65M269.8 330.1h0.65M269.5 334.5h0.65M269.4 335.9h0.65M268.3 337.6h0.65M268.9 338.3h0.65M267.5 335.6h0.65M269.7 333.6h0.65M270.6 336.8h0.65M268.1 338.2h0.65M266.7 334.5h0.65M266.9 337.5h0.65M270.8 334.9h0.65M267.3 330.7h0.65M266.6 329.9h0.65M270.7 335.6h0.65M266.8 336.5h0.65M269.0 338.2h0.65M267.1 336.8h0.65M265.8 343.8h0.65M263.8 329.9h0.65M266.4 333.4h0.65M268.4 336.5h0.65M268.4 335.1h0.65M268.5 328.4h0.65M267.4 337.7h0.65M267.1 338.4h0.65M268.8 340.2h0.65M267.8 332.5h0.65M267.9 333.3h0.65M267.8 341.3h0.65M268.1 331.7h0.65M265.2 340.1h0.65M267.5 331.2h0.65M270.3 330.4h0.65M269.5 338.8h0.65M268.8 335.2h0.65M272.3 332.0h0.65M269.0 337.2h0.65M267.7 341.3h0.65M270.2 339.8h0.65M268.9 341.8h0.65M268.6 337.3h0.65M268.3 335.2h0.65M266.4 336.3h0.65M267.7 335.8h0.65M268.7 340.3h0.65M266.1 345.2h0.65M267.6 334.5h0.65M266.7 337.4h0.65M268.5 338.6h0.65M266.1 339.2h0.65M271.0 336.7h0.65M268.2 340.3h0.65M267.6 332.3h0.65M269.1 334.6h0.65M269.4 340.7h0.65M271.3 339.4h0.65M265.9 331.9h0.65M267.8 332.7h0.65M266.0 332.7h0.65M268.9 326.8h0.65M263.5 333.2h0.65M266.1 339.3h0.65M270.4 339.9h0.65M267.7 342.2h0.65M266.5 344.0h0.65M270.0 346.3h0.65M263.8 335.3h0.65M269.6 340.1h0.65M272.5 349.9h0.65M257.8 340.1h0.65M273.7 336.0h0.65M262.6 337.3h0.65M267.1 341.3h0.65M265.1 326.6h0.65M274.0 329.1h0.65M272.9 344.1h0.65M262.9 328.2h0.65M262.5 339.6h0.65M264.9 336.6h0.65M264.5 339.1h0.65M265.1 344.4h0.65M265.2 337.3h0.65M264.8 340.1h0.65M258.5 349.6h0.65M269.3 328.0h0.65M259.3 349.2h0.65M272.4 343.5h0.65M267.1 342.3h0.65M271.1 330.0h0.65M266.4 345.5h0.65M261.5 339.2h0.65M265.2 326.7h0.65M264.8 358.3h0.65M266.5 332.9h0.65M269.1 328.2h0.65M264.7 337.1h0.65M263.6 340.3h0.65M269.5 347.6h0.65M269.6 327.9h0.65M267.8 337.0h0.65M264.7 335.5h0.65M258.7 345.5h0.65M268.8 352.5h0.65M273.6 340.1h0.65M264.8 335.3h0.65M265.5 327.0h0.65M271.1 325.6h0.65M270.7 344.3h0.65M266.1 346.2h0.65M265.2 330.0h0.65M263.6 327.1h0.65M263.5 344.9h0.65M267.7 337.6h0.65M269.1 342.8h0.65M274.4 333.5h0.65M270.3 326.7h0.65M270.2 330.1h0.65M264.4 354.3h0.65M268.6 343.5h0.65M265.0 332.7h0.65M260.8 347.5h0.65M267.5 336.8h0.65M263.3 336.8h0.65M258.5 357.3h0.65M265.0 331.8h0.65M258.4 335.3h0.65M257.4 349.8h0.65M265.4 338.3h0.65M261.9 346.0h0.65M261.2 345.1h0.65M271.6 331.2h0.65M268.9 337.5h0.65M267.8 338.7h0.65M266.6 344.2h0.65M264.5 337.3h0.65M265.8 339.9h0.65M271.4 337.1h0.65M272.7 333.1h0.65M263.7 336.5h0.65M257.6 338.6h0.65M266.0 342.6h0.65M270.8 337.8h0.65M260.0 356.6h0.65M268.6 327.9h0.65M261.0 345.5h0.65M273.5 332.4h0.65M273.8 341.4h0.65M267.1 341.0h0.65M271.9 338.1h0.65M267.8 326.7h0.65M265.9 321.6h0.65M264.2 341.2h0.65M266.0 326.4h0.65M262.1 341.1h0.65M260.4 340.1h0.65M274.7 322.5h0.65M265.9 333.7h0.65M263.2 338.7h0.65M267.0 340.7h0.65M267.8 344.1h0.65M270.2 318.8h0.65M261.8 335.1h0.65M262.8 341.6h0.65M268.0 340.2h0.65M270.3 335.8h0.65M263.6 334.6h0.65M259.8 349.4h0.65M264.1 336.7h0.65M266.3 346.3h0.65M271.4 336.2h0.65M272.6 344.7h0.65M268.1 342.6h0.65M262.0 347.0h0.65M264.4 340.2h0.65M270.0 327.3h0.65M266.0 346.0h0.65M265.2 333.4h0.65M268.4 332.6h0.65M268.6 351.2h0.65M265.1 341.4h0.65M271.8 320.9h0.65M260.4 333.8h0.65M268.7 338.9h0.65M270.2 346.4h0.65M262.3 356.4h0.65M261.4 364.4h0.65M263.6 366.8h0.65M263.8 361.0h0.65M256.2 358.2h0.65M264.0 357.9h0.65M266.4 357.5h0.65M259.0 358.6h0.65M259.5 347.9h0.65M265.2 355.0h0.65M261.9 345.5h0.65M269.6 338.1h0.65M265.0 361.0h0.65M265.7 367.3h0.65M264.3 359.4h0.65M266.9 352.8h0.65M262.5 359.1h0.65M261.5 356.9h0.65M260.8 358.5h0.65M260.8 363.6h0.65M260.0 356.3h0.65M267.4 346.9h0.65M261.2 358.6h0.65M265.3 350.5h0.65M264.9 355.5h0.65M261.9 359.8h0.65M263.0 365.3h0.65M264.0 356.7h0.65M261.9 358.9h0.65M260.6 361.5h0.65M265.0 356.1h0.65M260.3 349.2h0.65M264.7 369.7h0.65M263.7 357.2h0.65M267.5 344.2h0.65M264.5 370.1h0.65M262.3 373.3h0.65M267.3 344.1h0.65M259.9 359.7h0.65M258.7 349.3h0.65M265.3 352.6h0.65M262.8 351.9h0.65M266.0 366.1h0.65M265.6 365.6h0.65M265.7 357.5h0.65M262.4 349.0h0.65M261.2 361.2h0.65M266.6 340.3h0.65M258.3 349.1h0.65M267.3 362.4h0.65M265.6 356.5h0.65M266.1 361.1h0.65M268.5 349.2h0.65M260.2 361.2h0.65M271.6 345.8h0.65M263.4 356.7h0.65M265.4 361.8h0.65M264.2 370.7h0.65M258.6 362.8h0.65M266.5 357.2h0.65M257.6 365.1h0.65M266.7 354.0h0.65M262.4 341.4h0.65M262.9 363.2h0.65M259.0 361.8h0.65M266.2 361.8h0.65M257.7 369.1h0.65M260.4 383.0h0.65M263.3 351.3h0.65M262.7 344.5h0.65M258.8 347.4h0.65M263.4 364.9h0.65M264.4 360.5h0.65M262.4 355.8h0.65M264.2 349.2h0.65M260.4 337.8h0.65M255.5 363.8h0.65M267.9 339.0h0.65M258.6 361.3h0.65M263.3 346.5h0.65M264.2 372.4h0.65M258.4 356.2h0.65M259.5 351.2h0.65M260.1 361.0h0.65M266.4 359.1h0.65M253.2 362.7h0.65M267.0 353.8h0.65M269.5 347.3h0.65M265.4 351.8h0.65M260.0 366.6h0.65M267.5 345.6h0.65M253.5 362.0h0.65M255.3 367.7h0.65M259.9 354.0h0.65M262.7 347.7h0.65M261.3 369.8h0.65M260.5 355.2h0.65M263.5 363.6h0.65M261.8 368.3h0.65M258.5 362.7h0.65M263.3 356.4h0.65M265.0 340.9h0.65M262.6 371.6h0.65M259.8 346.1h0.65M272.4 347.4h0.65M260.3 373.4h0.65M272.9 352.9h0.65M256.0 369.1h0.65M268.5 371.5h0.65M264.1 351.1h0.65" stroke="#000" stroke-width="0.65" stroke-opacity="0.8" fill="none"/>
<text transform="translate(14.90 410.80) rotate(-90)" font-size="14" textLength="90.8" lengthAdjust="spacingAndGlyphs" stroke="#000" stroke-width="0.2" stroke-linejoin="round">FL3-Height, PI</text>
<text x="71.00" y="473.30" font-size="14" textLength="192" lengthAdjust="spacingAndGlyphs" stroke="#000" stroke-width="0.2" stroke-linejoin="round">FL1-Height, ANNEXIN V FITC</text>
<line x1="373.25" y1="415.50" x2="373.25" y2="414.00" stroke="#000" stroke-width="1.2"/>
<line x1="369.75" y1="414.50" x2="376.75" y2="414.50" stroke="#000" stroke-width="1.3"/>
<rect x="363.70" y="416.20" width="19.10" height="22.40" fill="#fff" stroke="#000" stroke-width="1.4"/>
<line x1="403.00" y1="311.25" x2="403.00" y2="307.50" stroke="#000" stroke-width="1.2"/>
<line x1="399.50" y1="308.00" x2="406.50" y2="308.00" stroke="#000" stroke-width="1.3"/>
<rect x="393.70" y="311.95" width="18.60" height="126.65" fill="#2b2b2b" stroke="#000" stroke-width="1.4"/>
<line x1="434.00" y1="412.00" x2="434.00" y2="409.80" stroke="#000" stroke-width="1.2"/>
<line x1="430.50" y1="410.30" x2="437.50" y2="410.30" stroke="#000" stroke-width="1.3"/>
<rect x="424.45" y="412.70" width="19.10" height="25.90" fill="#000" stroke="#000" stroke-width="1.4"/>
<line x1="465.25" y1="389.00" x2="465.25" y2="384.50" stroke="#000" stroke-width="1.2"/>
<line x1="461.75" y1="385.00" x2="468.75" y2="385.00" stroke="#000" stroke-width="1.3"/>
<rect x="455.70" y="389.70" width="19.10" height="48.90" fill="url(#ht)" stroke="#000" stroke-width="1.4"/>
<line x1="496.50" y1="383.25" x2="496.50" y2="380.50" stroke="#000" stroke-width="1.2"/>
<line x1="493.00" y1="381.00" x2="500.00" y2="381.00" stroke="#000" stroke-width="1.3"/>
<rect x="486.95" y="383.95" width="19.10" height="54.65" fill="#4a4a4a" stroke="#000" stroke-width="1.4"/>
<rect x="353.30" y="267.80" width="163.70" height="170.80" fill="none" stroke="#000" stroke-width="1.5"/>
<line x1="348.40" y1="438.60" x2="353.30" y2="438.60" stroke="#000" stroke-width="1.5"/>
<text x="342.50" y="442.10" font-size="13" text-anchor="end" stroke="#000" stroke-width="0.3" stroke-linejoin="round">0</text>
<line x1="348.40" y1="408.60" x2="353.30" y2="408.60" stroke="#000" stroke-width="1.2"/>
<text x="342.50" y="413.00" font-size="13" text-anchor="end" stroke="#000" stroke-width="0.3" stroke-linejoin="round">10</text>
<line x1="348.40" y1="378.60" x2="353.30" y2="378.60" stroke="#000" stroke-width="1.2"/>
<text x="342.50" y="383.00" font-size="13" text-anchor="end" stroke="#000" stroke-width="0.3" stroke-linejoin="round">20</text>
<line x1="348.40" y1="348.60" x2="353.30" y2="348.60" stroke="#000" stroke-width="1.2"/>
<text x="342.50" y="353.00" font-size="13" text-anchor="end" stroke="#000" stroke-width="0.3" stroke-linejoin="round">30</text>
<line x1="348.40" y1="318.60" x2="353.30" y2="318.60" stroke="#000" stroke-width="1.2"/>
<text x="342.50" y="323.00" font-size="13" text-anchor="end" stroke="#000" stroke-width="0.3" stroke-linejoin="round">40</text>
<line x1="348.40" y1="288.60" x2="353.30" y2="288.60" stroke="#000" stroke-width="1.2"/>
<text x="342.50" y="293.00" font-size="13" text-anchor="end" stroke="#000" stroke-width="0.3" stroke-linejoin="round">50</text>
<text transform="translate(318.60 442.70) rotate(-90)" font-size="16" stroke="#000" stroke-width="0.25" stroke-linejoin="round">% apoptosis, annexin V</text>
<text transform="translate(377.30 448.40) rotate(-57)" font-size="13.5" text-anchor="end" stroke="#000" stroke-width="0.15" stroke-linejoin="round">NT</text>
<text transform="translate(408.70 446.20) rotate(-57)" font-size="13.5" text-anchor="end" stroke="#000" stroke-width="0.15" stroke-linejoin="round">AA</text>
<text transform="translate(437.50 447.20) rotate(-57)" font-size="13.5" text-anchor="end" stroke="#000" stroke-width="0.15" stroke-linejoin="round">DHA</text>
<text transform="translate(470.80 444.20) rotate(-57)" font-size="13" text-anchor="end" stroke="#000" stroke-width="0.15" stroke-linejoin="round">As<tspan font-size="10.8" dy="3.6">2</tspan><tspan dy="-3.6">O</tspan><tspan font-size="10.8" dy="3.6">3</tspan></text>
<text transform="translate(502.60 444.40) rotate(-57)" font-size="13.5" text-anchor="end" stroke="#000" stroke-width="0.15" stroke-linejoin="round">DHA+As<tspan font-size="10.8" dy="3.6">2</tspan><tspan dy="-3.6">O</tspan><tspan font-size="10.8" dy="3.6">3</tspan></text>
<text transform="translate(-0.70 521.00) scale(1.0 1)" font-size="29.5" font-weight="bold" stroke="#000" stroke-width="0.7" stroke-linejoin="round">D</text>
<text x="65.00" y="521.30" font-size="15.5" stroke="#000" stroke-width="0.3" stroke-linejoin="round">HL60</text>
<path d="M65.3 723.2V529.25H265.7V723.2" fill="none" stroke="#000" stroke-width="1.6"/>
<line x1="60.30" y1="723.20" x2="70.50" y2="723.20" stroke="#000" stroke-width="1.3"/>
<line x1="75.00" y1="723.20" x2="266.40" y2="723.20" stroke="#000" stroke-width="1.3"/>
<line x1="69.50" y1="726.50" x2="73.00" y2="720.00" stroke="#000" stroke-width="1.0"/>
<line x1="72.50" y1="726.50" x2="76.00" y2="720.00" stroke="#000" stroke-width="1.0"/>
<text x="56.90" y="727.05" font-size="13" text-anchor="end" stroke="#000" stroke-width="0.3" stroke-linejoin="round">0</text>
<line x1="60.40" y1="690.00" x2="65.30" y2="690.00" stroke="#000" stroke-width="1.2"/>
<text x="56.90" y="694.45" font-size="13" text-anchor="end" stroke="#000" stroke-width="0.3" stroke-linejoin="round">20</text>
<line x1="60.40" y1="654.20" x2="65.30" y2="654.20" stroke="#000" stroke-width="1.2"/>
<text x="56.90" y="659.15" font-size="13" text-anchor="end" stroke="#000" stroke-width="0.3" stroke-linejoin="round">40</text>
<line x1="60.40" y1="621.40" x2="65.30" y2="621.40" stroke="#000" stroke-width="1.2"/>
<text x="56.90" y="624.45" font-size="13" text-anchor="end" stroke="#000" stroke-width="0.3" stroke-linejoin="round">60</text>
<line x1="60.40" y1="585.90" x2="65.30" y2="585.90" stroke="#000" stroke-width="1.2"/>
<text x="56.90" y="588.45" font-size="13" text-anchor="end" stroke="#000" stroke-width="0.3" stroke-linejoin="round">80</text>
<line x1="60.40" y1="553.00" x2="65.30" y2="553.00" stroke="#000" stroke-width="1.2"/>
<text x="56.90" y="557.45" font-size="13" text-anchor="end" stroke="#000" stroke-width="0.3" stroke-linejoin="round">100</text>
<line x1="81.50" y1="723.20" x2="81.50" y2="732.00" stroke="#000" stroke-width="1.5"/>
<line x1="97.61" y1="723.20" x2="97.61" y2="728.60" stroke="#000" stroke-width="1.3"/>
<line x1="107.03" y1="723.20" x2="107.03" y2="728.60" stroke="#000" stroke-width="1.3"/>
<line x1="113.71" y1="723.20" x2="113.71" y2="728.60" stroke="#000" stroke-width="1.3"/>
<line x1="118.89" y1="723.20" x2="118.89" y2="728.60" stroke="#000" stroke-width="1.3"/>
<line x1="123.13" y1="723.20" x2="123.13" y2="728.60" stroke="#000" stroke-width="1.3"/>
<line x1="126.71" y1="723.20" x2="126.71" y2="728.60" stroke="#000" stroke-width="1.3"/>
<line x1="129.82" y1="723.20" x2="129.82" y2="728.60" stroke="#000" stroke-width="1.3"/>
<line x1="132.55" y1="723.20" x2="132.55" y2="728.60" stroke="#000" stroke-width="1.3"/>
<line x1="135.00" y1="723.20" x2="135.00" y2="732.00" stroke="#000" stroke-width="1.5"/>
<line x1="151.11" y1="723.20" x2="151.11" y2="728.60" stroke="#000" stroke-width="1.3"/>
<line x1="160.53" y1="723.20" x2="160.53" y2="728.60" stroke="#000" stroke-width="1.3"/>
<line x1="167.21" y1="723.20" x2="167.21" y2="728.60" stroke="#000" stroke-width="1.3"/>
<line x1="172.39" y1="723.20" x2="172.39" y2="728.60" stroke="#000" stroke-width="1.3"/>
<line x1="176.63" y1="723.20" x2="176.63" y2="728.60" stroke="#000" stroke-width="1.3"/>
<line x1="180.21" y1="723.20" x2="180.21" y2="728.60" stroke="#000" stroke-width="1.3"/>
<line x1="183.32" y1="723.20" x2="183.32" y2="728.60" stroke="#000" stroke-width="1.3"/>
<line x1="186.05" y1="723.20" x2="186.05" y2="728.60" stroke="#000" stroke-width="1.3"/>
<line x1="188.50" y1="723.20" x2="188.50" y2="732.00" stroke="#000" stroke-width="1.5"/>
<line x1="204.61" y1="723.20" x2="204.61" y2="728.60" stroke="#000" stroke-width="1.3"/>
<line x1="214.03" y1="723.20" x2="214.03" y2="728.60" stroke="#000" stroke-width="1.3"/>
<line x1="220.71" y1="723.20" x2="220.71" y2="728.60" stroke="#000" stroke-width="1.3"/>
<line x1="225.89" y1="723.20" x2="225.89" y2="728.60" stroke="#000" stroke-width="1.3"/>
<line x1="230.13" y1="723.20" x2="230.13" y2="728.60" stroke="#000" stroke-width="1.3"/>
<line x1="233.71" y1="723.20" x2="233.71" y2="728.60" stroke="#000" stroke-width="1.3"/>
<line x1="236.82" y1="723.20" x2="236.82" y2="728.60" stroke="#000" stroke-width="1.3"/>
<line x1="239.55" y1="723.20" x2="239.55" y2="728.60" stroke="#000" stroke-width="1.3"/>
<line x1="242.00" y1="723.20" x2="242.00" y2="732.00" stroke="#000" stroke-width="1.5"/>
<line x1="256.40" y1="723.20" x2="256.40" y2="732.00" stroke="#000" stroke-width="1.5"/>
<text x="60.50" y="744.50" font-size="13" text-anchor="middle" stroke="#000" stroke-width="0.3" stroke-linejoin="round">0</text>
<text x="84.50" y="744.50" font-size="13" text-anchor="middle" stroke="#000" stroke-width="0.3" stroke-linejoin="round">0.01</text>
<text x="133.80" y="744.50" font-size="13" text-anchor="middle" stroke="#000" stroke-width="0.3" stroke-linejoin="round">0.1</text>
<text x="187.50" y="744.50" font-size="13" text-anchor="middle" stroke="#000" stroke-width="0.3" stroke-linejoin="round">1</text>
<text x="241.20" y="744.60" font-size="13" text-anchor="middle" stroke="#000" stroke-width="0.3" stroke-linejoin="round">10</text>
<text x="134.00" y="762.30" font-size="13.5" stroke="#000" stroke-width="0.3" stroke-linejoin="round">AA, mM</text>
<text transform="translate(29.20 714.80) rotate(-90)" font-size="16" stroke="#000" stroke-width="0.3" stroke-linejoin="round">Viable cells, % of control</text>
<path d="M65.5 552.8 L135 552.8 C145 552.8 151 553 157 554.5 L173.75 563.75 L188.75 574.75 C192 579 206 606 209.5 613 L239.25 711.25 L256.25 718" fill="none" stroke="#000" stroke-width="1.45" stroke-linejoin="round"/>
<path d="M65.5 553 L120.6 590.2 L140.8 602.3 C150 607 160 613 167.7 618.5 C171 621 173 624 174.5 630 C181 655 188 695 190 719 C198 722 204 723 209.5 723.2 L227 723.2" fill="none" stroke="#000" stroke-width="1.45"/>
<g transform="translate(76.5 552.8) rotate(0)"><rect x="-1.4" y="-1.5" width="3" height="3" fill="#fff"/><line x1="-3.3" y1="3" x2="-0.5" y2="-3" stroke="#000" stroke-width="1.15"/><line x1="0.3" y1="3" x2="3.1" y2="-3" stroke="#000" stroke-width="1.15"/></g>
<g transform="translate(76.0 561.8) rotate(33)"><rect x="-1.4" y="-1.5" width="3" height="3" fill="#fff"/><line x1="-3.3" y1="3" x2="-0.5" y2="-3" stroke="#000" stroke-width="1.15"/><line x1="0.3" y1="3" x2="3.1" y2="-3" stroke="#000" stroke-width="1.15"/></g>
<line x1="65.50" y1="546.30" x2="65.50" y2="559.70" stroke="#000" stroke-width="1.1"/>
<line x1="63.00" y1="546.30" x2="68.00" y2="546.30" stroke="#000" stroke-width="1.1"/>
<line x1="63.00" y1="559.70" x2="68.00" y2="559.70" stroke="#000" stroke-width="1.1"/>
<circle cx="65.50" cy="553.00" r="4.0" fill="#000" stroke="#000" stroke-width="1.4"/>
<line x1="120.50" y1="544.90" x2="120.50" y2="556.10" stroke="#000" stroke-width="1.1"/>
<line x1="118.00" y1="544.90" x2="123.00" y2="544.90" stroke="#000" stroke-width="1.1"/>
<line x1="118.00" y1="556.10" x2="123.00" y2="556.10" stroke="#000" stroke-width="1.1"/>
<circle cx="120.50" cy="550.50" r="4.0" fill="#000" stroke="#000" stroke-width="1.4"/>
<line x1="135.00" y1="546.40" x2="135.00" y2="557.60" stroke="#000" stroke-width="1.1"/>
<line x1="132.50" y1="546.40" x2="137.50" y2="546.40" stroke="#000" stroke-width="1.1"/>
<line x1="132.50" y1="557.60" x2="137.50" y2="557.60" stroke="#000" stroke-width="1.1"/>
<circle cx="135.00" cy="552.00" r="4.0" fill="#000" stroke="#000" stroke-width="1.4"/>
<line x1="157.00" y1="548.30" x2="157.00" y2="560.70" stroke="#000" stroke-width="1.1"/>
<line x1="154.50" y1="548.30" x2="159.50" y2="548.30" stroke="#000" stroke-width="1.1"/>
<line x1="154.50" y1="560.70" x2="159.50" y2="560.70" stroke="#000" stroke-width="1.1"/>
<circle cx="157.00" cy="554.50" r="4.0" fill="#000" stroke="#000" stroke-width="1.4"/>
<circle cx="173.75" cy="563.75" r="4.0" fill="#000" stroke="#000" stroke-width="1.4"/>
<line x1="188.75" y1="569.75" x2="188.75" y2="579.75" stroke="#000" stroke-width="1.1"/>
<line x1="186.25" y1="569.75" x2="191.25" y2="569.75" stroke="#000" stroke-width="1.1"/>
<line x1="186.25" y1="579.75" x2="191.25" y2="579.75" stroke="#000" stroke-width="1.1"/>
<circle cx="188.75" cy="574.75" r="4.0" fill="#000" stroke="#000" stroke-width="1.4"/>
<line x1="209.50" y1="607.20" x2="209.50" y2="618.80" stroke="#000" stroke-width="1.1"/>
<line x1="207.00" y1="607.20" x2="212.00" y2="607.20" stroke="#000" stroke-width="1.1"/>
<line x1="207.00" y1="618.80" x2="212.00" y2="618.80" stroke="#000" stroke-width="1.1"/>
<circle cx="209.50" cy="613.00" r="4.0" fill="#000" stroke="#000" stroke-width="1.4"/>
<line x1="227.50" y1="640.25" x2="227.50" y2="653.25" stroke="#000" stroke-width="1.1"/>
<line x1="225.00" y1="640.25" x2="230.00" y2="640.25" stroke="#000" stroke-width="1.1"/>
<line x1="225.00" y1="653.25" x2="230.00" y2="653.25" stroke="#000" stroke-width="1.1"/>
<circle cx="227.50" cy="646.75" r="4.0" fill="#000" stroke="#000" stroke-width="1.4"/>
<circle cx="239.25" cy="711.25" r="4.0" fill="#000" stroke="#000" stroke-width="1.4"/>
<circle cx="256.25" cy="718.00" r="4.0" fill="#000" stroke="#000" stroke-width="1.4"/>
<line x1="120.50" y1="582.50" x2="120.50" y2="597.50" stroke="#000" stroke-width="1.1"/>
<line x1="118.00" y1="582.50" x2="123.00" y2="582.50" stroke="#000" stroke-width="1.1"/>
<line x1="118.00" y1="597.50" x2="123.00" y2="597.50" stroke="#000" stroke-width="1.1"/>
<circle cx="120.50" cy="590.00" r="4.0" fill="#fff" stroke="#000" stroke-width="1.4"/>
<line x1="135.00" y1="602.00" x2="135.00" y2="608.00" stroke="#000" stroke-width="1.1"/>
<line x1="132.50" y1="602.00" x2="137.50" y2="602.00" stroke="#000" stroke-width="1.1"/>
<line x1="132.50" y1="608.00" x2="137.50" y2="608.00" stroke="#000" stroke-width="1.1"/>
<circle cx="135.00" cy="605.00" r="4.0" fill="#fff" stroke="#000" stroke-width="1.4"/>
<circle cx="172.50" cy="625.00" r="4.0" fill="#fff" stroke="#000" stroke-width="1.4"/>
<circle cx="188.75" cy="720.00" r="4.0" fill="#fff" stroke="#000" stroke-width="1.4"/>
<circle cx="209.50" cy="723.25" r="4.0" fill="#fff" stroke="#000" stroke-width="1.4"/>
<circle cx="227.00" cy="723.25" r="4.0" fill="#fff" stroke="#000" stroke-width="1.4"/>
<circle cx="85.60" cy="672.60" r="3.8" fill="#000" stroke="#000" stroke-width="1.4"/>
<text transform="translate(95.00 676.70) scale(0.93 1)" font-size="14.5" stroke="#000" stroke-width="0.3" stroke-linejoin="round">+GSH</text>
<circle cx="85.80" cy="692.20" r="3.8" fill="#fff" stroke="#000" stroke-width="1.4"/>
<text transform="translate(95.00 695.90) scale(0.93 1)" font-size="14.5" stroke="#000" stroke-width="0.3" stroke-linejoin="round">−GSH</text>
<text transform="translate(279.00 521.30) scale(1.0 1)" font-size="29.8" font-weight="bold" stroke="#000" stroke-width="0.7" stroke-linejoin="round">E</text>
<text x="334.00" y="523.00" font-size="15.5" stroke="#000" stroke-width="0.3" stroke-linejoin="round">HL60</text>
<path d="M334.2 725.6V530.6H516.9V725.6" fill="none" stroke="#000" stroke-width="1.6"/>
<line x1="329.20" y1="725.60" x2="339.50" y2="725.60" stroke="#000" stroke-width="1.3"/>
<line x1="344.00" y1="725.60" x2="517.60" y2="725.60" stroke="#000" stroke-width="1.3"/>
<line x1="338.50" y1="729.00" x2="342.00" y2="722.50" stroke="#000" stroke-width="1.0"/>
<line x1="341.50" y1="729.00" x2="345.00" y2="722.50" stroke="#000" stroke-width="1.0"/>
<text x="323.60" y="729.25" font-size="13" text-anchor="end" stroke="#000" stroke-width="0.3" stroke-linejoin="round">0</text>
<line x1="330.00" y1="715.15" x2="334.20" y2="715.15" stroke="#000" stroke-width="1.2"/>
<line x1="330.00" y1="704.60" x2="334.20" y2="704.60" stroke="#000" stroke-width="1.2"/>
<line x1="330.00" y1="694.05" x2="334.20" y2="694.05" stroke="#000" stroke-width="1.2"/>
<line x1="330.00" y1="683.50" x2="334.20" y2="683.50" stroke="#000" stroke-width="1.2"/>
<line x1="330.00" y1="672.95" x2="334.20" y2="672.95" stroke="#000" stroke-width="1.2"/>
<text x="323.60" y="677.75" font-size="13" text-anchor="end" stroke="#000" stroke-width="0.3" stroke-linejoin="round">100</text>
<line x1="330.00" y1="662.40" x2="334.20" y2="662.40" stroke="#000" stroke-width="1.2"/>
<line x1="330.00" y1="651.85" x2="334.20" y2="651.85" stroke="#000" stroke-width="1.2"/>
<line x1="330.00" y1="641.30" x2="334.20" y2="641.30" stroke="#000" stroke-width="1.2"/>
<line x1="330.00" y1="630.75" x2="334.20" y2="630.75" stroke="#000" stroke-width="1.2"/>
<line x1="330.00" y1="620.20" x2="334.20" y2="620.20" stroke="#000" stroke-width="1.2"/>
<text x="323.60" y="623.85" font-size="13" text-anchor="end" stroke="#000" stroke-width="0.3" stroke-linejoin="round">200</text>
<line x1="330.00" y1="609.65" x2="334.20" y2="609.65" stroke="#000" stroke-width="1.2"/>
<line x1="330.00" y1="599.10" x2="334.20" y2="599.10" stroke="#000" stroke-width="1.2"/>
<line x1="330.00" y1="588.55" x2="334.20" y2="588.55" stroke="#000" stroke-width="1.2"/>
<line x1="330.00" y1="578.00" x2="334.20" y2="578.00" stroke="#000" stroke-width="1.2"/>
<line x1="330.00" y1="567.45" x2="334.20" y2="567.45" stroke="#000" stroke-width="1.2"/>
<text x="323.60" y="571.85" font-size="13" text-anchor="end" stroke="#000" stroke-width="0.3" stroke-linejoin="round">300</text>
<line x1="330.00" y1="556.90" x2="334.20" y2="556.90" stroke="#000" stroke-width="1.2"/>
<line x1="330.00" y1="546.35" x2="334.20" y2="546.35" stroke="#000" stroke-width="1.2"/>
<line x1="330.00" y1="535.80" x2="334.20" y2="535.80" stroke="#000" stroke-width="1.2"/>
<line x1="350.20" y1="725.60" x2="350.20" y2="734.40" stroke="#000" stroke-width="1.5"/>
<line x1="366.34" y1="725.60" x2="366.34" y2="731.00" stroke="#000" stroke-width="1.3"/>
<line x1="375.77" y1="725.60" x2="375.77" y2="731.00" stroke="#000" stroke-width="1.3"/>
<line x1="382.47" y1="725.60" x2="382.47" y2="731.00" stroke="#000" stroke-width="1.3"/>
<line x1="387.66" y1="725.60" x2="387.66" y2="731.00" stroke="#000" stroke-width="1.3"/>
<line x1="391.91" y1="725.60" x2="391.91" y2="731.00" stroke="#000" stroke-width="1.3"/>
<line x1="395.50" y1="725.60" x2="395.50" y2="731.00" stroke="#000" stroke-width="1.3"/>
<line x1="398.61" y1="725.60" x2="398.61" y2="731.00" stroke="#000" stroke-width="1.3"/>
<line x1="401.35" y1="725.60" x2="401.35" y2="731.00" stroke="#000" stroke-width="1.3"/>
<line x1="403.80" y1="725.60" x2="403.80" y2="734.40" stroke="#000" stroke-width="1.5"/>
<line x1="419.94" y1="725.60" x2="419.94" y2="731.00" stroke="#000" stroke-width="1.3"/>
<line x1="429.37" y1="725.60" x2="429.37" y2="731.00" stroke="#000" stroke-width="1.3"/>
<line x1="436.07" y1="725.60" x2="436.07" y2="731.00" stroke="#000" stroke-width="1.3"/>
<line x1="441.26" y1="725.60" x2="441.26" y2="731.00" stroke="#000" stroke-width="1.3"/>
<line x1="445.51" y1="725.60" x2="445.51" y2="731.00" stroke="#000" stroke-width="1.3"/>
<line x1="449.10" y1="725.60" x2="449.10" y2="731.00" stroke="#000" stroke-width="1.3"/>
<line x1="452.21" y1="725.60" x2="452.21" y2="731.00" stroke="#000" stroke-width="1.3"/>
<line x1="454.95" y1="725.60" x2="454.95" y2="731.00" stroke="#000" stroke-width="1.3"/>
<line x1="457.40" y1="725.60" x2="457.40" y2="734.40" stroke="#000" stroke-width="1.5"/>
<line x1="473.54" y1="725.60" x2="473.54" y2="731.00" stroke="#000" stroke-width="1.3"/>
<line x1="482.97" y1="725.60" x2="482.97" y2="731.00" stroke="#000" stroke-width="1.3"/>
<line x1="489.67" y1="725.60" x2="489.67" y2="731.00" stroke="#000" stroke-width="1.3"/>
<line x1="494.86" y1="725.60" x2="494.86" y2="731.00" stroke="#000" stroke-width="1.3"/>
<line x1="499.11" y1="725.60" x2="499.11" y2="731.00" stroke="#000" stroke-width="1.3"/>
<line x1="502.70" y1="725.60" x2="502.70" y2="731.00" stroke="#000" stroke-width="1.3"/>
<line x1="505.81" y1="725.60" x2="505.81" y2="731.00" stroke="#000" stroke-width="1.3"/>
<line x1="508.55" y1="725.60" x2="508.55" y2="731.00" stroke="#000" stroke-width="1.3"/>
<line x1="511.00" y1="725.60" x2="511.00" y2="734.40" stroke="#000" stroke-width="1.5"/>
<text x="330.00" y="749.00" font-size="13" text-anchor="middle" stroke="#000" stroke-width="0.3" stroke-linejoin="round">0</text>
<text x="353.40" y="749.00" font-size="13" text-anchor="middle" stroke="#000" stroke-width="0.3" stroke-linejoin="round">0.01</text>
<text x="403.50" y="749.00" font-size="13" text-anchor="middle" stroke="#000" stroke-width="0.3" stroke-linejoin="round">0.1</text>
<text x="456.00" y="749.00" font-size="13" text-anchor="middle" stroke="#000" stroke-width="0.3" stroke-linejoin="round">1</text>
<text x="510.60" y="748.60" font-size="13" text-anchor="middle" stroke="#000" stroke-width="0.3" stroke-linejoin="round">10</text>
<text x="415.00" y="762.80" font-size="13.5" stroke="#000" stroke-width="0.3" stroke-linejoin="round">mM</text>
<text transform="translate(296.10 694.60) rotate(-90)" font-size="16" stroke="#000" stroke-width="0.3" stroke-linejoin="round">ROS, % of control</text>
<path d="M334.5 673.75 L342 673.75 L387.5 651.25 L404.5 640.75 L457.5 581.75 L494.5 541.75" fill="none" stroke="#000" stroke-width="1.45"/>
<path d="M342 673.75 L350.5 683.25 L388.75 691.75 L404.5 697.2 C415 697.8 440 698 457.5 698.25 L502 700.8" fill="none" stroke="#000" stroke-width="1.45"/>
<line x1="340.2" y1="677.5" x2="344" y2="670" stroke="#000" stroke-width="1.2"/>
<circle cx="334.50" cy="673.75" r="4.2" fill="#000" stroke="#000" stroke-width="1.4"/>
<circle cx="387.50" cy="651.25" r="3.9" fill="#fff" stroke="#000" stroke-width="1.4"/>
<circle cx="404.50" cy="640.75" r="3.9" fill="#fff" stroke="#000" stroke-width="1.4"/>
<circle cx="457.50" cy="581.75" r="3.9" fill="#fff" stroke="#000" stroke-width="1.4"/>
<circle cx="494.50" cy="541.75" r="3.9" fill="#fff" stroke="#000" stroke-width="1.4"/>
<circle cx="350.50" cy="683.25" r="4.1" fill="#000" stroke="#000" stroke-width="1.4"/>
<circle cx="388.75" cy="691.75" r="4.1" fill="#000" stroke="#000" stroke-width="1.4"/>
<circle cx="404.50" cy="697.50" r="4.1" fill="#000" stroke="#000" stroke-width="1.4"/>
<circle cx="457.50" cy="698.25" r="4.1" fill="#000" stroke="#000" stroke-width="1.4"/>
<circle cx="496.25" cy="700.50" r="4.1" fill="#000" stroke="#000" stroke-width="1.4"/>
<text x="458.20" y="547.80" font-size="13" stroke="#000" stroke-width="0.3" stroke-linejoin="round">AA</text>
<text x="472.80" y="686.80" font-size="13" stroke="#000" stroke-width="0.3" stroke-linejoin="round">DHA</text>
</svg>
</body></html>
